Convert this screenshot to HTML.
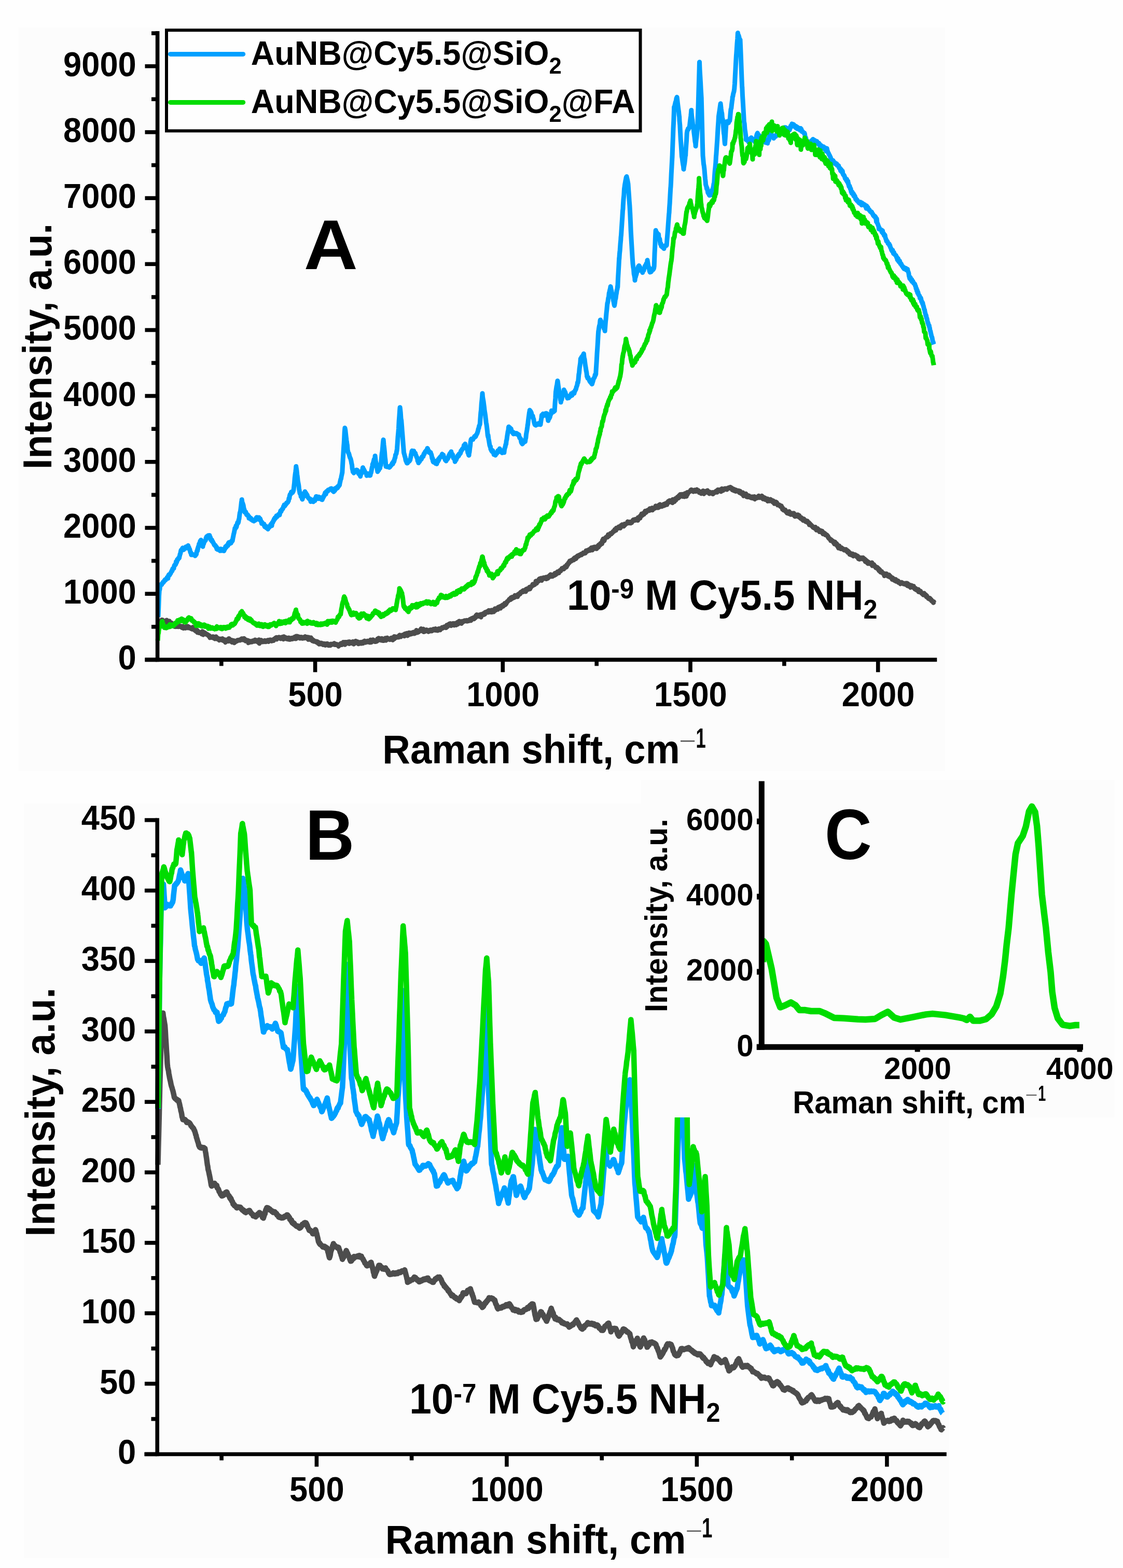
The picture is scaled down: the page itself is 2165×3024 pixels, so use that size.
<!DOCTYPE html><html><head><meta charset="utf-8"><style>html,body{margin:0;padding:0;background:#fefefe;}svg{display:block;}text{font-family:'Liberation Sans', Arial, sans-serif;font-weight:bold;}</style></head><body>
<svg xmlns="http://www.w3.org/2000/svg" width="2165" height="3024" viewBox="0 0 2165 3024">
<rect x="0" y="0" width="2165" height="3024" fill="#fefefe"/>
<rect x="36" y="53" width="1786" height="1434" fill="#fcfcfc"/>
<rect x="46" y="1550" width="1784" height="1455" fill="#fcfcfc"/>
<polyline points="304.8,1205.0 305.6,1204.6 306.3,1202.9 307.1,1199.7 307.8,1201.6 308.6,1200.0 309.3,1197.7 310.1,1198.2 310.8,1196.9 311.6,1195.9 311.6,1195.6 312.3,1196.7 313.1,1195.5 313.8,1196.8 314.6,1196.8 315.3,1198.7 316.1,1198.4 316.8,1198.3 317.6,1198.1 318.3,1199.1 319.0,1199.7 319.1,1199.3 319.8,1201.3 320.6,1200.8 321.3,1195.9 322.1,1197.0 322.8,1199.1 323.6,1198.7 324.3,1199.5 325.1,1199.5 325.8,1201.9 326.4,1197.7 326.6,1198.7 327.3,1202.7 328.1,1201.7 328.8,1202.5 329.6,1201.7 330.3,1201.0 331.1,1204.1 331.8,1204.8 332.6,1203.7 333.3,1205.1 334.1,1206.5 334.8,1206.0 335.6,1207.7 336.2,1208.4 336.3,1208.1 337.1,1207.2 337.8,1208.5 338.6,1208.7 339.3,1207.9 340.1,1206.3 340.8,1208.3 341.6,1206.7 342.3,1208.6 343.1,1206.1 343.8,1208.8 344.6,1207.7 345.3,1206.3 346.1,1207.7 346.8,1208.3 347.6,1208.8 348.3,1207.4 348.5,1207.5 349.1,1209.4 349.8,1208.7 350.6,1209.8 351.3,1210.7 352.1,1207.7 352.8,1210.3 353.6,1211.7 354.3,1209.8 355.1,1209.3 355.8,1211.3 356.6,1210.7 357.3,1211.5 358.1,1209.9 358.8,1208.3 359.6,1210.0 360.3,1209.4 360.8,1210.8 361.1,1210.0 361.8,1207.7 362.6,1208.3 363.3,1211.1 364.1,1210.9 364.8,1209.3 365.6,1210.3 366.3,1211.1 367.1,1211.4 367.8,1212.2 368.6,1211.6 369.3,1211.5 370.1,1211.6 370.8,1213.6 371.6,1209.6 372.3,1212.6 373.1,1213.1 373.2,1211.3 373.8,1214.0 374.6,1213.1 375.3,1215.5 376.1,1214.7 376.8,1216.2 377.6,1217.3 378.3,1216.6 379.1,1215.4 379.8,1215.1 380.6,1219.8 381.3,1217.9 382.1,1217.6 382.8,1219.2 383.0,1219.0 383.6,1220.6 384.3,1219.8 385.1,1220.1 385.8,1219.4 386.6,1221.1 387.3,1219.3 388.1,1221.7 388.8,1222.9 389.6,1218.9 390.3,1217.7 391.1,1221.7 391.8,1224.2 392.6,1219.7 393.3,1219.4 394.1,1222.0 394.8,1220.3 395.6,1221.0 396.3,1221.6 397.1,1223.2 397.8,1222.4 398.6,1223.9 399.3,1224.0 400.1,1223.8 400.8,1225.1 401.6,1224.9 402.3,1226.7 403.1,1225.7 403.8,1226.2 404.6,1229.9 405.3,1228.2 406.1,1228.5 406.8,1229.4 407.6,1228.4 408.3,1228.7 409.1,1229.7 409.8,1229.7 410.0,1227.7 410.6,1230.3 411.3,1228.6 412.1,1228.1 412.8,1228.4 413.6,1229.3 414.3,1232.1 415.1,1228.7 415.8,1230.6 416.6,1227.8 417.3,1230.8 418.1,1232.2 418.8,1230.9 419.6,1230.6 420.3,1232.0 421.1,1232.8 421.8,1232.9 422.6,1234.8 423.3,1232.7 424.1,1231.9 424.8,1232.7 425.6,1232.9 426.3,1233.3 427.1,1233.3 427.8,1233.8 428.6,1231.6 428.6,1234.9 429.3,1233.1 430.1,1232.5 430.8,1235.0 431.6,1236.1 432.3,1235.2 433.1,1235.0 433.8,1233.7 434.6,1238.9 435.3,1236.4 436.1,1233.9 436.8,1234.4 437.6,1235.5 438.3,1233.4 439.1,1235.6 439.8,1234.7 440.0,1236.8 440.6,1236.3 441.3,1231.4 442.1,1235.0 442.8,1232.8 443.6,1236.4 444.3,1235.3 445.1,1236.0 445.8,1234.2 446.6,1238.2 447.3,1238.7 448.1,1235.0 448.8,1237.2 449.6,1236.0 450.3,1237.1 451.1,1235.6 451.8,1239.8 452.6,1236.1 453.3,1237.0 454.1,1237.9 454.8,1236.3 455.6,1236.6 456.3,1236.0 457.1,1236.3 457.8,1234.6 458.6,1235.2 459.3,1235.2 460.1,1234.6 460.8,1234.8 461.6,1234.0 462.3,1235.1 463.1,1233.5 463.8,1233.5 464.6,1232.7 465.3,1232.8 466.1,1231.7 466.8,1234.0 467.6,1231.9 468.3,1232.4 469.1,1233.9 469.6,1234.0 469.8,1233.1 470.6,1231.3 471.3,1234.8 472.1,1234.9 472.8,1233.1 473.6,1236.3 474.3,1234.7 475.1,1234.5 475.8,1236.4 476.6,1236.4 477.3,1237.2 478.1,1235.1 478.8,1239.8 479.6,1236.9 480.3,1235.9 481.1,1238.9 481.8,1237.8 481.9,1238.6 482.6,1237.6 483.3,1237.8 484.1,1238.0 484.8,1236.6 485.6,1238.2 486.3,1236.5 487.1,1235.8 487.8,1236.8 488.6,1237.1 489.3,1236.1 490.1,1235.2 490.8,1237.0 491.6,1233.9 492.3,1234.9 493.1,1236.3 493.8,1234.6 494.6,1236.5 495.3,1236.4 496.1,1237.8 496.8,1235.5 497.6,1236.0 498.3,1237.3 499.1,1233.7 499.8,1240.9 500.6,1236.0 501.3,1235.9 502.1,1238.0 502.8,1236.8 503.6,1234.5 504.3,1237.7 505.1,1238.0 505.8,1236.4 506.6,1236.7 507.3,1237.7 508.1,1236.0 508.8,1237.8 509.0,1237.6 509.6,1236.3 510.3,1235.3 511.1,1236.6 511.8,1235.6 512.5,1237.8 513.3,1236.5 514.0,1237.1 514.8,1236.1 515.5,1236.0 516.3,1234.5 517.0,1236.2 517.8,1237.5 518.5,1234.7 519.3,1234.2 520.0,1234.7 520.8,1234.2 521.5,1233.9 522.3,1234.9 523.0,1234.3 523.8,1236.4 524.5,1234.4 525.3,1234.7 526.0,1235.3 526.8,1233.4 527.5,1235.4 528.3,1232.4 529.0,1231.9 529.8,1232.1 530.5,1232.1 531.3,1230.2 532.0,1231.6 532.8,1229.3 533.5,1233.0 534.3,1230.9 535.0,1229.9 535.8,1229.4 536.5,1229.9 537.3,1230.0 538.0,1228.8 538.5,1228.9 538.8,1229.9 539.5,1229.5 540.3,1231.5 541.0,1231.8 541.8,1230.4 542.5,1231.0 543.3,1228.8 544.0,1231.4 544.8,1230.6 545.5,1231.3 546.3,1232.8 547.0,1227.7 547.8,1231.1 548.5,1229.3 549.3,1231.6 550.0,1229.1 550.8,1230.3 551.5,1231.3 552.3,1232.0 553.0,1231.4 553.8,1230.5 554.5,1230.9 555.3,1233.0 556.0,1232.0 556.8,1229.9 557.5,1233.3 558.3,1232.8 559.0,1233.4 559.8,1231.7 560.5,1233.1 561.3,1230.5 562.0,1232.5 562.8,1230.9 563.2,1232.3 563.5,1232.5 564.3,1229.9 565.0,1230.6 565.8,1230.5 566.5,1231.8 567.3,1231.0 568.0,1228.3 568.8,1230.3 569.5,1230.5 570.3,1232.1 571.0,1227.0 571.8,1228.4 572.5,1230.7 573.3,1227.1 574.0,1227.2 574.8,1229.4 575.5,1230.1 576.3,1227.9 577.0,1229.6 577.8,1229.2 578.5,1231.1 579.3,1229.3 580.0,1230.7 580.8,1228.4 581.5,1229.5 582.3,1229.7 583.0,1231.3 583.8,1230.7 584.5,1229.0 585.3,1230.8 586.0,1230.9 586.8,1229.7 587.5,1229.4 587.8,1229.5 588.3,1227.6 589.0,1230.2 589.8,1230.4 590.5,1229.0 591.3,1231.2 592.0,1228.6 592.8,1229.8 593.5,1230.0 594.3,1233.4 595.0,1228.9 595.8,1231.9 596.5,1232.7 597.3,1232.2 598.0,1233.6 598.8,1231.1 599.5,1229.8 600.1,1234.1 600.3,1231.8 601.0,1233.3 601.8,1232.6 602.5,1236.0 603.3,1236.1 604.0,1234.4 604.8,1236.9 605.5,1236.2 606.3,1236.1 607.0,1236.6 607.8,1236.5 608.5,1237.8 609.3,1237.6 610.0,1237.0 610.8,1239.1 611.5,1237.3 612.3,1238.8 613.0,1239.3 613.8,1241.1 614.5,1238.9 615.3,1242.3 616.0,1240.7 616.8,1240.6 617.3,1240.3 617.5,1242.0 618.3,1241.5 619.0,1240.1 619.8,1240.1 620.5,1240.9 621.3,1240.8 622.0,1243.1 622.8,1243.5 623.5,1242.8 624.3,1242.2 625.0,1241.2 625.8,1241.8 626.5,1243.0 627.3,1244.6 628.0,1243.1 628.8,1241.6 629.5,1242.1 630.3,1241.5 631.0,1241.2 631.8,1242.0 632.5,1242.6 633.3,1244.8 634.0,1242.5 634.8,1244.3 635.5,1244.8 636.3,1242.7 637.0,1244.7 637.0,1243.5 637.8,1242.0 638.5,1242.8 639.3,1242.5 640.0,1242.1 640.8,1242.2 641.5,1242.6 642.3,1243.0 643.0,1241.3 643.8,1242.5 644.5,1240.6 645.3,1243.0 646.0,1243.5 646.8,1243.1 647.5,1243.3 648.3,1243.8 649.0,1242.3 649.8,1242.9 650.5,1243.9 651.3,1244.6 652.0,1243.7 652.8,1246.5 653.5,1242.9 654.3,1244.3 655.0,1244.5 655.8,1242.5 656.5,1241.5 657.3,1240.8 658.0,1242.4 658.8,1243.5 659.5,1242.3 660.3,1242.0 661.0,1241.1 661.7,1242.2 661.8,1238.5 662.5,1241.4 663.3,1240.9 664.0,1238.8 664.8,1243.3 665.5,1238.4 666.3,1238.7 667.0,1238.4 667.8,1241.2 668.5,1238.5 669.3,1240.4 670.0,1240.3 670.8,1239.8 671.5,1237.7 672.3,1238.5 673.0,1241.5 673.8,1237.6 674.5,1238.2 675.3,1239.1 676.0,1240.4 676.8,1239.8 677.5,1240.4 678.3,1238.1 679.0,1240.7 679.8,1240.2 680.5,1237.3 681.3,1241.3 682.0,1242.2 682.8,1238.1 683.5,1239.1 684.3,1240.7 685.0,1236.9 685.8,1236.2 686.3,1237.1 686.5,1238.1 687.3,1238.2 688.0,1239.8 688.8,1239.4 689.5,1237.6 690.3,1240.0 691.0,1241.8 691.8,1241.1 692.5,1240.9 693.3,1239.7 694.0,1241.0 694.8,1238.5 695.5,1240.7 696.3,1239.6 697.0,1241.1 697.8,1240.1 698.5,1237.9 699.3,1239.3 700.0,1240.5 700.8,1237.2 701.5,1237.7 702.3,1237.1 703.0,1236.0 703.8,1238.9 704.5,1239.2 705.3,1238.4 706.0,1237.5 706.8,1237.0 707.5,1237.4 708.3,1236.1 709.0,1238.2 709.8,1238.3 710.5,1238.2 711.0,1236.3 711.3,1237.0 712.0,1236.6 712.8,1239.0 713.5,1236.8 714.3,1234.0 715.0,1236.9 715.8,1238.7 716.5,1237.1 717.3,1237.4 718.0,1236.3 718.8,1233.7 719.5,1234.0 720.3,1234.8 721.0,1236.3 721.8,1236.9 722.5,1237.4 723.3,1236.0 724.0,1237.6 724.8,1235.9 725.5,1235.2 726.3,1237.0 727.0,1234.5 727.8,1232.0 728.5,1233.9 729.3,1235.1 730.0,1230.7 730.8,1234.0 731.5,1233.8 732.3,1232.2 733.0,1231.9 733.8,1233.1 734.5,1232.8 735.3,1235.1 735.6,1233.9 736.0,1231.3 736.8,1232.2 737.5,1234.2 738.3,1235.6 739.0,1233.6 739.8,1233.5 740.5,1235.4 741.3,1232.8 742.0,1232.4 742.8,1230.8 743.5,1231.8 744.3,1235.2 745.0,1230.4 745.8,1232.1 746.5,1230.1 747.3,1232.0 748.0,1232.9 748.8,1231.4 749.5,1232.6 750.3,1232.6 751.0,1232.2 751.8,1233.8 752.5,1232.6 753.3,1231.1 754.0,1230.5 754.8,1230.2 755.5,1231.8 756.3,1230.6 757.0,1234.4 757.8,1233.0 758.5,1230.2 759.3,1229.8 760.0,1232.2 760.2,1227.4 760.8,1229.0 761.5,1230.6 762.3,1227.9 763.0,1228.3 763.8,1228.2 764.5,1229.4 765.3,1228.5 766.0,1228.7 766.8,1228.7 767.5,1227.8 768.3,1229.1 769.0,1226.5 769.8,1225.4 770.5,1224.8 771.3,1224.9 772.0,1226.2 772.8,1228.1 773.5,1226.9 774.3,1225.8 775.0,1225.1 775.8,1225.7 776.5,1225.7 777.3,1225.3 778.0,1224.0 778.8,1225.1 779.5,1226.8 780.3,1222.4 781.0,1224.7 781.8,1222.0 782.5,1224.7 783.3,1223.3 784.0,1221.3 784.8,1224.0 785.5,1226.0 786.3,1223.7 787.0,1224.9 787.8,1223.1 788.5,1220.2 789.3,1223.5 790.0,1222.1 790.8,1220.6 791.5,1223.3 792.3,1222.4 793.0,1221.1 793.8,1222.6 794.5,1220.1 795.3,1221.8 796.0,1219.5 796.8,1221.2 797.5,1218.9 798.3,1222.1 799.0,1220.3 799.8,1221.7 800.5,1218.6 801.3,1218.8 802.0,1220.4 802.8,1215.5 803.5,1217.5 804.3,1220.1 805.0,1219.2 805.8,1219.7 806.5,1217.8 807.3,1218.8 808.0,1216.9 808.8,1215.9 809.5,1215.3 809.5,1216.7 810.3,1216.6 811.0,1216.4 811.8,1212.4 812.5,1214.3 813.3,1216.1 814.0,1217.0 814.8,1215.7 815.5,1215.1 816.3,1213.1 817.0,1218.6 817.8,1214.4 818.5,1218.0 819.3,1217.8 820.0,1216.1 820.8,1215.0 821.5,1216.0 822.3,1214.4 823.0,1216.3 823.8,1216.0 824.5,1216.8 825.3,1217.4 826.0,1218.4 826.8,1215.7 827.5,1217.5 828.3,1215.1 829.0,1214.8 829.8,1215.1 830.5,1214.4 831.3,1216.8 832.0,1216.6 832.8,1216.9 833.5,1215.1 834.3,1215.4 835.0,1214.1 835.8,1213.3 836.5,1215.3 837.3,1215.1 838.0,1213.3 838.8,1215.5 839.5,1212.5 840.0,1214.6 840.3,1214.0 841.0,1214.1 841.8,1213.3 842.5,1215.9 843.3,1215.3 844.0,1216.0 844.8,1214.5 845.5,1212.5 846.3,1213.6 847.0,1212.3 847.8,1214.2 848.5,1215.0 849.3,1213.6 850.0,1212.1 850.8,1212.0 851.5,1212.4 852.3,1209.9 853.0,1211.7 853.8,1211.4 854.5,1210.1 855.3,1209.9 856.0,1210.3 856.8,1208.7 857.5,1208.4 858.3,1210.2 859.0,1209.2 859.8,1210.8 860.5,1207.1 861.3,1205.7 862.0,1208.9 862.8,1208.6 863.5,1206.1 864.3,1204.8 864.6,1206.5 865.0,1204.0 865.8,1205.5 866.5,1202.9 867.3,1205.1 868.0,1202.4 868.8,1204.7 869.5,1206.8 870.3,1204.3 871.0,1205.5 871.8,1203.5 872.5,1203.1 873.3,1202.2 874.0,1205.4 874.8,1203.9 875.5,1206.0 876.3,1202.2 877.0,1203.4 877.8,1203.6 878.5,1205.2 879.3,1205.6 880.0,1202.2 880.8,1201.3 881.5,1200.3 882.3,1204.0 883.0,1201.9 883.8,1200.9 884.5,1201.4 885.3,1197.9 886.0,1198.8 886.8,1202.0 887.5,1201.1 888.3,1200.6 889.0,1199.0 889.3,1201.0 889.8,1202.4 890.5,1198.3 891.3,1199.6 892.0,1198.7 892.8,1199.5 893.5,1198.8 894.3,1198.3 895.0,1197.0 895.8,1197.9 896.5,1196.9 897.3,1197.3 898.0,1197.2 898.8,1198.0 899.5,1196.3 900.3,1196.5 901.0,1198.2 901.8,1196.4 902.5,1196.3 903.3,1197.6 904.0,1196.7 904.8,1196.3 905.5,1196.2 906.3,1194.1 907.0,1196.1 907.8,1196.9 908.5,1195.7 909.3,1192.6 910.0,1194.6 910.8,1192.7 911.5,1193.1 912.3,1193.2 913.0,1191.0 913.8,1193.7 913.9,1191.7 914.5,1192.3 915.3,1191.5 916.0,1191.9 916.8,1191.2 917.5,1187.2 918.3,1188.7 919.0,1185.4 919.8,1187.2 920.5,1188.3 921.3,1188.2 922.0,1188.4 922.8,1186.0 923.5,1186.7 924.3,1186.2 925.0,1187.5 925.8,1187.7 926.5,1185.0 927.3,1190.2 928.0,1185.1 928.8,1184.4 929.5,1185.5 930.3,1185.4 931.0,1184.9 931.8,1183.1 932.5,1185.6 933.3,1183.4 934.0,1185.0 934.8,1184.5 935.5,1180.7 936.3,1180.7 937.0,1180.3 937.8,1181.5 938.5,1180.8 939.3,1180.7 940.0,1178.9 940.8,1180.1 941.5,1181.0 942.3,1177.2 943.0,1178.4 943.4,1178.9 943.8,1178.3 944.5,1178.0 945.3,1180.4 946.0,1179.7 946.8,1179.0 947.5,1176.8 948.3,1180.7 949.0,1178.2 949.8,1176.9 950.5,1177.1 951.3,1176.7 952.0,1180.0 952.8,1177.3 953.5,1176.8 954.3,1173.7 955.0,1177.1 955.8,1174.4 956.5,1174.0 957.3,1175.8 958.0,1173.5 958.8,1175.3 959.5,1175.3 960.3,1171.1 961.0,1172.8 961.8,1170.5 962.5,1172.0 963.3,1172.9 964.0,1169.5 964.8,1173.2 965.5,1170.1 966.3,1168.6 967.0,1169.6 967.8,1170.5 968.1,1167.5 968.5,1168.9 969.3,1166.5 970.0,1169.3 970.8,1167.3 971.5,1165.9 972.3,1167.2 973.0,1163.5 973.8,1164.0 974.5,1166.2 975.3,1163.0 976.0,1164.3 976.8,1162.1 977.5,1160.3 978.3,1160.2 979.0,1160.0 979.8,1158.7 980.5,1157.5 981.3,1157.0 982.0,1155.4 982.8,1156.8 983.5,1156.6 984.3,1156.5 985.0,1152.6 985.8,1155.4 986.5,1153.8 987.3,1151.5 988.0,1153.0 988.8,1153.6 989.5,1152.8 990.3,1152.7 991.0,1152.7 991.8,1152.3 992.5,1150.8 992.7,1148.2 993.3,1149.8 994.0,1150.9 994.8,1149.5 995.5,1150.7 996.3,1150.4 997.0,1148.9 997.8,1150.8 998.5,1146.5 999.3,1148.4 1000.0,1145.9 1000.8,1144.9 1001.5,1146.1 1002.3,1143.9 1003.0,1145.2 1003.8,1142.0 1004.5,1143.1 1005.3,1141.4 1006.0,1141.7 1006.8,1141.1 1007.5,1139.7 1008.3,1141.6 1009.0,1138.8 1009.8,1138.8 1010.5,1140.8 1011.3,1140.6 1012.0,1139.8 1012.8,1139.0 1013.5,1141.1 1014.3,1136.2 1015.0,1136.3 1015.8,1135.6 1016.5,1137.6 1017.3,1136.4 1018.0,1136.9 1018.8,1136.2 1019.5,1134.1 1020.3,1132.9 1021.0,1132.2 1021.8,1135.9 1022.5,1133.8 1023.3,1132.9 1024.0,1131.3 1024.8,1131.0 1025.5,1130.4 1026.3,1129.9 1027.0,1126.7 1027.8,1129.1 1028.5,1128.0 1029.3,1128.2 1030.0,1127.4 1030.8,1127.5 1031.5,1125.6 1032.3,1125.9 1033.0,1120.8 1033.8,1122.0 1034.5,1125.1 1035.3,1120.6 1036.0,1121.2 1036.8,1121.9 1037.5,1119.3 1038.3,1120.9 1039.0,1117.5 1039.8,1116.4 1040.5,1116.6 1041.3,1115.6 1042.0,1117.1 1042.0,1116.7 1042.8,1117.2 1043.5,1115.1 1044.3,1119.5 1045.0,1115.7 1045.8,1115.5 1046.5,1115.9 1047.3,1114.7 1048.0,1114.0 1048.8,1114.8 1049.5,1115.7 1050.3,1115.2 1051.0,1115.5 1051.8,1113.4 1052.5,1113.1 1053.3,1116.6 1054.0,1113.6 1054.8,1114.5 1055.5,1114.7 1056.3,1115.4 1057.0,1111.7 1057.8,1112.6 1058.5,1112.4 1059.3,1112.3 1060.0,1109.2 1060.8,1111.9 1061.5,1108.0 1062.3,1111.8 1063.0,1111.8 1063.8,1111.6 1064.5,1109.0 1065.3,1111.6 1066.0,1109.0 1066.6,1108.4 1066.8,1108.7 1067.5,1108.4 1068.3,1109.3 1069.0,1109.7 1069.8,1105.4 1070.5,1107.0 1071.3,1108.4 1072.0,1107.0 1072.8,1106.8 1073.5,1103.7 1074.3,1106.3 1075.0,1102.4 1075.8,1104.1 1076.5,1105.1 1077.3,1105.1 1078.0,1102.7 1078.8,1102.6 1079.5,1100.1 1080.3,1099.6 1081.0,1101.1 1081.8,1099.0 1082.5,1098.3 1083.3,1096.1 1084.0,1097.5 1084.8,1097.6 1085.5,1095.3 1086.3,1095.1 1087.0,1097.4 1087.8,1095.1 1088.5,1093.9 1089.3,1092.3 1090.0,1092.4 1090.8,1092.3 1091.2,1094.0 1091.5,1090.9 1092.3,1093.2 1093.0,1088.8 1093.8,1088.6 1094.5,1089.2 1095.3,1086.9 1096.0,1085.2 1096.8,1085.3 1097.5,1085.3 1098.3,1081.7 1099.0,1082.9 1099.8,1082.5 1100.5,1081.5 1101.3,1082.4 1102.0,1080.2 1102.8,1079.9 1103.5,1079.9 1104.3,1080.3 1105.0,1078.6 1105.8,1080.3 1106.5,1076.7 1107.3,1079.0 1108.0,1075.6 1108.8,1076.0 1109.5,1076.1 1110.3,1077.6 1110.9,1075.6 1111.0,1073.9 1111.8,1075.6 1112.5,1073.1 1113.3,1071.9 1114.0,1073.0 1114.8,1072.1 1115.5,1072.8 1116.3,1070.5 1117.0,1071.3 1117.8,1071.3 1118.5,1070.5 1119.3,1069.7 1120.0,1068.5 1120.8,1070.3 1121.5,1069.0 1122.3,1069.1 1123.0,1067.6 1123.8,1067.7 1124.5,1065.9 1125.3,1066.9 1125.7,1067.5 1126.0,1066.4 1126.8,1067.1 1127.5,1066.0 1128.3,1066.9 1129.0,1064.5 1129.8,1062.1 1130.5,1064.3 1131.3,1063.0 1132.0,1061.4 1132.8,1063.0 1133.5,1062.0 1134.3,1061.7 1135.0,1060.2 1135.8,1060.5 1136.5,1060.1 1137.3,1061.7 1138.0,1058.2 1138.8,1058.8 1139.5,1059.1 1140.3,1056.2 1141.0,1056.2 1141.8,1060.9 1142.5,1055.7 1143.3,1058.6 1144.0,1056.6 1144.8,1056.5 1145.5,1054.8 1146.3,1056.0 1147.0,1057.9 1147.8,1054.8 1148.5,1057.1 1149.3,1056.5 1150.0,1058.4 1150.8,1054.8 1151.5,1056.8 1152.3,1056.0 1152.8,1054.2 1153.0,1052.1 1153.8,1055.4 1154.5,1050.7 1155.3,1051.0 1156.0,1051.9 1156.8,1051.3 1157.5,1047.9 1158.3,1048.1 1159.0,1046.9 1159.8,1047.9 1160.5,1048.8 1161.3,1042.3 1162.0,1045.0 1162.8,1039.3 1163.5,1042.1 1164.3,1039.8 1165.0,1043.0 1165.8,1039.8 1166.5,1037.8 1167.3,1037.2 1168.0,1036.3 1168.8,1036.5 1169.5,1035.3 1170.3,1035.6 1171.0,1036.1 1171.8,1034.4 1172.5,1031.3 1172.5,1031.0 1173.3,1031.7 1174.0,1033.7 1174.8,1031.5 1175.5,1030.6 1176.3,1031.1 1177.0,1028.6 1177.8,1028.4 1178.5,1029.9 1179.3,1028.2 1180.0,1027.3 1180.8,1027.5 1181.5,1025.6 1182.3,1024.7 1183.0,1024.2 1183.8,1024.8 1184.5,1023.3 1185.3,1020.9 1186.0,1021.4 1186.8,1021.9 1187.5,1022.9 1188.3,1018.3 1189.0,1019.7 1189.8,1018.3 1190.5,1019.1 1191.3,1018.1 1192.0,1018.8 1192.2,1017.5 1192.8,1015.9 1193.5,1015.6 1194.3,1016.5 1195.0,1016.1 1195.8,1018.4 1196.5,1017.2 1197.3,1013.2 1198.0,1014.9 1198.8,1012.5 1199.5,1011.8 1200.3,1014.7 1201.0,1014.1 1201.8,1011.8 1202.5,1015.0 1203.3,1011.2 1204.0,1010.6 1204.8,1012.5 1205.5,1011.5 1206.3,1010.6 1207.0,1010.2 1207.8,1010.1 1208.5,1009.2 1209.3,1008.7 1210.0,1006.1 1210.8,1006.5 1211.5,1008.7 1212.3,1006.7 1213.0,1008.1 1213.8,1008.8 1214.5,1006.5 1215.3,1007.0 1216.0,1009.1 1216.8,1007.1 1217.5,1008.2 1218.3,1007.3 1219.0,1005.9 1219.8,1004.3 1220.5,1003.0 1221.3,1002.3 1222.0,1004.0 1222.8,1003.6 1223.5,1002.4 1224.3,1003.5 1225.0,1001.3 1225.8,1003.2 1226.5,1001.6 1227.3,1001.2 1228.0,1001.0 1228.8,1000.6 1229.5,1003.6 1230.3,997.9 1231.0,999.8 1231.8,1000.6 1232.5,999.4 1233.3,997.4 1234.0,999.3 1234.1,995.3 1234.8,994.4 1235.5,996.1 1236.3,992.8 1237.0,990.9 1237.8,994.4 1238.5,993.6 1239.3,992.9 1240.0,990.7 1240.8,991.0 1241.1,989.1 1241.5,992.1 1242.3,990.2 1243.0,989.5 1243.8,985.4 1244.5,988.3 1245.3,988.6 1246.0,987.7 1246.8,986.6 1247.5,985.0 1248.3,984.1 1249.0,984.9 1249.8,984.2 1250.5,983.6 1251.3,982.5 1252.0,984.7 1252.8,980.7 1253.5,981.9 1254.0,981.0 1254.3,983.1 1255.0,983.5 1255.8,983.2 1256.5,982.4 1257.3,979.5 1258.0,983.8 1258.8,981.6 1259.5,980.6 1260.3,980.5 1261.0,979.8 1261.8,980.5 1262.5,980.0 1263.3,978.9 1264.0,975.7 1264.8,978.8 1265.5,979.2 1266.3,979.0 1267.0,978.0 1267.0,978.8 1267.8,979.2 1268.5,976.9 1269.3,979.0 1270.0,974.3 1270.8,974.9 1271.5,975.1 1272.3,972.8 1273.0,974.4 1273.8,977.0 1274.5,976.7 1275.3,974.9 1276.0,976.7 1276.2,974.8 1276.8,973.9 1277.5,974.8 1278.3,974.2 1279.0,975.2 1279.8,972.2 1280.5,975.2 1281.3,973.1 1282.0,974.5 1282.8,971.1 1283.5,972.3 1284.3,972.6 1285.0,973.3 1285.4,970.3 1285.8,973.3 1286.5,970.5 1287.3,968.0 1288.0,969.1 1288.8,966.5 1289.1,967.4 1289.5,968.9 1290.3,967.0 1291.0,965.4 1291.8,965.6 1292.5,967.0 1293.3,966.7 1294.0,965.4 1294.8,965.7 1295.5,967.5 1296.3,969.7 1297.0,963.2 1297.8,967.6 1298.5,966.3 1299.3,967.4 1300.0,967.4 1300.2,966.2 1300.8,964.1 1301.5,962.8 1302.3,961.4 1303.0,964.7 1303.8,962.1 1304.5,961.0 1305.3,960.6 1306.0,958.6 1306.8,960.1 1307.5,960.8 1308.3,959.9 1309.0,955.8 1309.8,959.0 1310.5,955.6 1311.3,953.5 1312.0,954.2 1312.8,954.4 1313.5,955.5 1314.3,954.0 1315.0,953.2 1315.8,954.8 1316.5,957.5 1317.3,954.0 1318.0,955.4 1318.8,954.7 1319.5,957.9 1320.3,951.8 1321.0,955.5 1321.8,952.3 1322.4,953.0 1322.5,953.6 1323.3,957.3 1324.0,951.6 1324.8,949.5 1325.5,953.1 1326.3,949.7 1327.0,949.9 1327.8,949.5 1328.5,949.0 1329.3,948.0 1330.0,947.8 1330.8,947.2 1331.5,947.0 1331.6,945.1 1332.3,944.7 1333.0,944.4 1333.8,946.6 1334.5,945.8 1335.3,946.7 1336.0,946.7 1336.8,948.3 1337.5,946.5 1338.3,947.4 1339.0,944.9 1339.8,945.2 1340.5,946.4 1340.8,945.2 1341.3,947.8 1342.0,945.3 1342.8,947.2 1343.5,944.1 1344.3,946.1 1345.0,947.3 1345.8,947.6 1346.5,945.9 1347.3,948.6 1348.0,950.0 1348.8,949.9 1349.5,948.5 1350.1,948.9 1350.3,948.3 1351.0,950.8 1351.8,951.9 1352.5,949.4 1353.3,947.9 1354.0,950.3 1354.8,950.9 1355.5,946.4 1356.3,949.9 1357.0,952.4 1357.8,950.4 1358.5,949.8 1359.3,949.4 1360.0,950.1 1360.8,947.3 1361.5,947.2 1362.3,948.7 1363.0,947.2 1363.0,948.5 1363.8,945.9 1364.5,949.7 1365.3,950.1 1366.0,949.4 1366.8,949.9 1367.5,952.1 1368.3,948.9 1369.0,949.4 1369.8,949.4 1370.5,950.5 1371.3,949.9 1372.0,951.4 1372.8,950.5 1373.5,949.6 1374.1,949.4 1374.3,952.8 1375.0,950.6 1375.8,950.0 1376.5,949.9 1377.3,949.4 1378.0,950.2 1378.8,949.6 1379.5,947.8 1380.3,947.3 1381.0,946.7 1381.8,946.2 1382.5,949.4 1383.3,946.1 1384.0,944.4 1384.8,945.6 1385.5,945.3 1386.3,946.4 1387.0,944.6 1387.0,946.3 1387.8,945.7 1388.5,946.5 1389.3,947.4 1390.0,948.0 1390.8,945.8 1391.5,942.4 1392.3,943.2 1393.0,943.9 1393.8,946.1 1394.5,944.2 1395.3,944.6 1396.0,942.6 1396.3,943.6 1396.8,943.7 1397.5,942.1 1398.3,943.6 1399.0,943.8 1399.8,942.1 1400.5,943.5 1401.3,944.2 1402.0,942.0 1402.8,941.8 1403.5,941.3 1404.3,940.8 1405.0,941.7 1405.8,940.9 1406.5,940.9 1407.3,940.2 1408.0,939.5 1408.8,940.6 1409.5,942.5 1410.3,940.8 1411.0,941.8 1411.8,945.0 1412.5,944.7 1413.3,942.6 1414.0,944.6 1414.7,943.3 1414.8,946.3 1415.5,943.8 1416.3,945.0 1417.0,947.1 1417.8,944.5 1418.5,947.6 1419.3,945.1 1420.0,946.8 1420.8,946.3 1421.5,946.8 1422.3,947.4 1423.0,947.3 1423.8,946.3 1424.5,949.1 1425.3,949.2 1425.8,950.1 1426.0,950.4 1426.8,947.2 1427.5,951.0 1428.3,951.4 1429.0,949.4 1429.8,951.9 1430.5,952.9 1431.3,950.7 1432.0,950.0 1432.8,951.8 1433.5,956.4 1434.3,953.5 1435.0,952.1 1435.8,953.8 1436.5,953.3 1436.9,954.3 1437.3,955.3 1438.0,952.2 1438.8,956.4 1439.5,958.2 1440.3,956.4 1441.0,956.4 1441.8,958.6 1442.5,955.7 1443.3,956.0 1444.0,956.0 1444.8,957.8 1445.5,958.8 1446.3,958.4 1447.0,959.5 1447.8,960.1 1448.0,959.8 1448.5,958.1 1449.3,958.8 1450.0,960.8 1450.8,957.9 1451.5,958.9 1452.3,958.8 1453.0,959.1 1453.8,957.9 1454.5,957.6 1455.3,962.7 1456.0,960.6 1456.8,958.5 1457.5,959.3 1458.3,960.3 1459.0,959.0 1459.8,960.3 1460.5,958.7 1460.9,959.1 1461.3,959.4 1462.0,958.8 1462.8,956.2 1463.5,959.4 1464.3,959.6 1465.0,959.9 1465.8,957.9 1466.5,959.6 1467.3,959.5 1468.0,956.8 1468.8,956.3 1469.5,959.7 1470.2,957.8 1470.3,960.5 1471.0,962.4 1471.8,959.2 1472.5,959.5 1473.3,960.8 1474.0,962.1 1474.8,960.1 1475.5,963.5 1476.3,963.6 1477.0,963.5 1477.8,962.3 1478.5,964.5 1479.3,964.7 1479.4,962.0 1480.0,966.5 1480.8,963.6 1481.5,964.7 1482.3,963.7 1483.0,965.1 1483.8,966.3 1484.5,964.0 1485.3,963.1 1486.0,964.9 1486.8,964.0 1487.5,964.9 1488.3,966.0 1489.0,966.3 1489.8,968.4 1490.5,965.7 1491.3,967.7 1492.0,966.9 1492.3,969.4 1492.8,971.3 1493.5,968.9 1494.3,971.2 1495.0,968.8 1495.8,968.0 1496.5,968.9 1497.3,969.0 1498.0,970.3 1498.8,971.8 1499.5,974.1 1500.3,974.0 1501.0,974.2 1501.8,973.6 1502.5,973.7 1503.3,975.2 1503.4,975.5 1504.0,976.2 1504.8,977.1 1505.5,977.1 1506.3,975.5 1507.0,977.3 1507.8,978.3 1508.5,982.3 1509.3,980.2 1510.0,982.3 1510.8,984.0 1511.5,983.2 1512.3,982.8 1513.0,983.6 1513.8,983.2 1514.5,985.5 1515.3,987.2 1516.0,987.1 1516.3,987.5 1516.8,987.7 1517.5,989.8 1518.3,986.9 1519.0,988.4 1519.8,989.5 1520.5,990.7 1521.3,986.4 1522.0,989.4 1522.8,990.2 1523.5,989.5 1524.3,992.3 1525.0,991.8 1525.8,991.2 1526.5,989.8 1527.3,990.3 1528.0,990.9 1528.8,992.8 1529.5,990.8 1530.3,989.8 1531.0,990.7 1531.1,991.7 1531.8,994.7 1532.5,996.0 1533.3,992.3 1534.0,994.5 1534.8,995.3 1535.5,995.5 1536.3,994.0 1537.0,992.8 1537.8,994.3 1538.5,992.8 1539.3,996.0 1540.0,997.1 1540.8,994.0 1541.5,996.8 1542.3,997.7 1543.0,999.4 1543.8,1000.1 1544.0,999.6 1544.5,998.1 1545.3,999.1 1546.0,1001.7 1546.8,999.9 1547.5,1001.1 1548.3,1003.7 1549.0,1002.3 1549.8,1000.8 1550.5,1002.6 1551.3,1004.2 1552.0,1003.5 1552.8,1005.7 1553.5,1006.2 1554.3,1004.1 1555.0,1004.7 1555.8,1005.6 1556.5,1004.7 1557.0,1007.1 1557.3,1006.7 1558.0,1008.6 1558.8,1007.6 1559.5,1007.9 1560.3,1012.2 1561.0,1009.5 1561.8,1010.6 1562.5,1011.2 1563.3,1012.5 1564.0,1012.4 1564.8,1014.2 1565.5,1014.0 1566.3,1015.0 1567.0,1016.6 1567.8,1017.5 1568.5,1017.7 1569.3,1016.7 1570.0,1018.6 1570.8,1018.3 1571.5,1018.7 1571.7,1016.6 1572.3,1020.0 1573.0,1019.4 1573.8,1022.2 1574.5,1021.2 1575.3,1019.3 1576.0,1019.3 1576.8,1022.9 1577.5,1020.7 1578.3,1023.0 1579.0,1022.1 1579.8,1025.6 1580.5,1023.3 1581.0,1025.4 1581.3,1025.1 1582.0,1023.2 1582.8,1023.7 1583.5,1026.5 1584.3,1025.0 1585.0,1024.3 1585.8,1027.4 1586.5,1029.7 1587.3,1026.8 1588.0,1029.2 1588.8,1027.7 1589.5,1030.3 1590.3,1028.8 1591.0,1031.5 1591.8,1031.2 1592.5,1030.9 1593.3,1032.2 1593.9,1031.9 1594.0,1031.5 1594.8,1032.5 1595.5,1034.7 1596.3,1034.3 1597.0,1037.1 1597.8,1038.0 1598.5,1038.8 1599.3,1038.3 1600.0,1039.8 1600.8,1040.4 1601.5,1042.8 1602.3,1040.7 1603.0,1041.9 1603.8,1042.7 1604.5,1043.4 1605.3,1043.1 1606.0,1043.8 1606.8,1046.5 1607.5,1044.9 1608.3,1047.5 1608.7,1049.3 1609.0,1048.6 1609.8,1045.2 1610.5,1049.2 1611.3,1049.6 1612.0,1050.4 1612.8,1048.3 1613.5,1052.1 1614.3,1050.4 1615.0,1054.1 1615.8,1054.5 1616.5,1057.0 1617.3,1053.8 1618.0,1052.8 1618.8,1056.7 1619.5,1057.0 1620.3,1055.9 1621.0,1058.6 1621.8,1058.3 1622.5,1056.2 1623.3,1058.0 1623.5,1057.9 1624.0,1058.6 1624.8,1059.3 1625.5,1058.5 1626.3,1059.6 1627.0,1060.9 1627.8,1060.4 1628.5,1060.6 1629.3,1060.9 1630.0,1061.5 1630.8,1059.5 1631.5,1062.6 1632.3,1061.4 1633.0,1063.3 1633.8,1061.8 1634.5,1065.4 1635.3,1065.0 1636.0,1063.5 1636.8,1066.2 1637.5,1065.5 1638.2,1069.4 1638.3,1067.9 1639.0,1066.7 1639.8,1068.4 1640.5,1068.4 1641.3,1070.3 1642.0,1069.4 1642.8,1069.9 1643.5,1068.0 1644.3,1070.6 1645.0,1072.5 1645.8,1070.9 1646.5,1070.2 1647.3,1070.7 1648.0,1069.6 1648.8,1071.4 1649.3,1070.0 1649.5,1071.7 1650.3,1071.7 1651.0,1071.6 1651.8,1074.0 1652.5,1071.8 1653.3,1074.2 1654.0,1073.0 1654.8,1077.5 1655.5,1078.1 1656.3,1076.9 1657.0,1078.6 1657.8,1077.1 1658.5,1077.2 1659.3,1076.1 1660.0,1075.6 1660.4,1076.9 1660.8,1076.0 1661.5,1076.3 1662.3,1078.0 1663.0,1077.1 1663.8,1075.5 1664.5,1077.7 1665.3,1077.4 1666.0,1078.5 1666.8,1078.0 1667.5,1081.6 1668.3,1083.2 1669.0,1079.9 1669.8,1082.8 1670.5,1083.4 1671.3,1081.8 1671.5,1083.6 1672.0,1085.8 1672.8,1085.6 1673.5,1087.0 1674.3,1083.8 1675.0,1084.8 1675.8,1086.5 1676.5,1087.0 1677.3,1086.9 1678.0,1086.7 1678.8,1087.0 1679.5,1087.1 1680.3,1088.9 1681.0,1085.1 1681.8,1091.1 1682.5,1088.7 1683.3,1088.0 1684.0,1090.9 1684.8,1088.8 1685.5,1091.5 1686.3,1090.9 1687.0,1092.9 1687.8,1093.8 1688.5,1095.1 1689.3,1093.4 1690.0,1094.3 1690.8,1095.3 1691.5,1094.2 1692.3,1097.5 1693.0,1097.6 1693.8,1096.4 1694.5,1100.4 1695.3,1101.3 1696.0,1098.6 1696.8,1101.8 1697.5,1103.4 1698.3,1103.6 1699.0,1101.9 1699.8,1102.1 1700.5,1104.4 1701.0,1104.3 1701.3,1105.1 1702.0,1105.4 1702.8,1106.6 1703.5,1105.5 1704.3,1106.2 1705.0,1110.5 1705.8,1106.7 1706.5,1108.0 1707.3,1107.6 1708.0,1107.7 1708.8,1106.4 1709.5,1108.5 1710.3,1108.0 1711.0,1109.4 1711.8,1111.4 1712.5,1109.3 1713.3,1110.5 1714.0,1108.7 1714.8,1110.7 1715.5,1113.2 1715.8,1111.4 1716.3,1111.1 1717.0,1112.8 1717.8,1112.9 1718.5,1113.4 1719.3,1113.8 1720.0,1117.5 1720.8,1114.3 1721.5,1115.4 1722.3,1115.7 1723.0,1118.6 1723.8,1117.1 1724.5,1119.6 1725.3,1118.5 1726.0,1118.7 1726.8,1117.3 1727.5,1121.2 1728.3,1120.8 1729.0,1121.0 1729.8,1120.8 1730.5,1120.8 1731.3,1120.2 1732.0,1123.5 1732.4,1122.9 1732.8,1122.3 1733.5,1122.2 1734.3,1123.4 1735.0,1123.4 1735.8,1125.9 1736.5,1125.1 1737.3,1123.5 1738.0,1123.1 1738.8,1124.4 1739.5,1123.8 1740.3,1125.2 1741.0,1125.8 1741.8,1126.3 1742.5,1126.1 1743.3,1125.5 1744.0,1126.7 1744.8,1124.9 1745.4,1126.0 1745.5,1127.2 1746.3,1126.7 1747.0,1124.8 1747.8,1125.2 1748.5,1124.8 1749.3,1129.5 1750.0,1125.4 1750.8,1127.5 1751.5,1130.4 1752.3,1129.6 1753.0,1130.2 1753.8,1128.0 1754.5,1129.9 1755.3,1133.0 1756.0,1129.2 1756.8,1130.0 1757.5,1129.2 1758.3,1129.8 1759.0,1130.9 1759.8,1132.8 1760.5,1130.4 1761.3,1130.4 1762.0,1132.9 1762.8,1133.7 1763.5,1135.9 1764.3,1135.6 1765.0,1134.4 1765.8,1136.5 1766.5,1137.8 1767.3,1137.3 1768.0,1137.0 1768.8,1138.9 1769.5,1138.1 1770.3,1136.7 1771.0,1141.5 1771.2,1138.1 1771.8,1139.7 1772.5,1140.2 1773.3,1140.7 1774.0,1141.2 1774.8,1140.1 1775.5,1143.1 1776.3,1142.9 1777.0,1143.3 1777.8,1145.1 1778.5,1145.5 1779.3,1146.2 1780.0,1147.3 1780.8,1146.0 1781.5,1143.9 1782.3,1146.6 1783.0,1146.9 1783.8,1147.6 1784.2,1147.1 1784.5,1147.1 1785.3,1150.0 1786.0,1150.9 1786.8,1149.0 1787.5,1151.9 1788.3,1151.8 1789.0,1152.2 1789.8,1154.4 1790.5,1154.1 1791.3,1154.2 1792.0,1155.6 1792.8,1153.6 1793.5,1156.0 1794.3,1156.8 1795.0,1156.1 1795.8,1158.7 1796.5,1159.3 1797.3,1158.7 1798.0,1159.7 1798.8,1161.4 1799.5,1162.4 1800.3,1160.5 1800.8,1162.3" fill="none" stroke="#4d4d4d" stroke-width="9" stroke-linejoin="round" stroke-linecap="butt"/>
<polyline points="305.0,1190.0 305.8,1169.2 306.5,1149.5 307.2,1139.3 308.0,1136.7 308.5,1130.8 308.8,1128.9 309.5,1129.5 310.2,1128.2 311.0,1126.5 311.8,1127.5 312.5,1125.2 313.2,1124.3 314.0,1122.9 314.8,1123.5 315.5,1122.0 316.2,1121.8 317.0,1119.4 317.8,1119.5 318.5,1117.5 319.2,1118.8 320.0,1117.2 320.8,1116.6 321.5,1115.9 322.2,1113.4 323.0,1114.8 323.8,1115.6 324.5,1110.4 325.2,1109.0 326.0,1107.9 326.8,1109.4 327.5,1107.3 328.2,1107.2 329.0,1105.5 329.8,1103.7 330.5,1102.5 331.2,1100.7 332.0,1100.7 332.8,1096.9 333.5,1096.4 334.2,1095.8 335.0,1096.3 335.8,1091.8 336.5,1089.9 337.2,1089.1 338.0,1089.5 338.8,1086.5 339.0,1087.8 339.5,1082.9 340.2,1085.0 341.0,1083.3 341.8,1078.9 342.5,1079.3 343.2,1079.1 344.0,1076.3 344.8,1076.0 345.5,1076.2 346.2,1072.3 346.7,1070.8 347.0,1069.0 347.8,1067.6 348.5,1063.4 349.0,1061.3 349.2,1061.3 350.0,1061.8 350.8,1059.2 351.5,1058.2 352.2,1056.6 353.0,1060.5 353.8,1058.7 354.5,1060.0 355.2,1057.8 356.0,1056.4 356.8,1057.5 357.5,1056.4 358.2,1054.5 359.0,1054.4 359.8,1057.1 360.5,1054.9 361.2,1054.4 362.0,1053.1 362.7,1052.1 362.8,1054.1 363.5,1054.8 364.2,1055.8 365.0,1058.5 365.8,1059.5 366.5,1062.7 367.2,1065.8 368.0,1065.4 368.8,1070.1 368.8,1067.8 369.5,1069.1 370.2,1068.3 371.0,1069.4 371.8,1070.0 372.5,1069.8 373.2,1069.7 374.0,1070.1 374.8,1070.2 375.5,1069.6 376.2,1071.4 376.2,1072.1 377.0,1070.9 377.8,1068.7 378.5,1069.0 379.2,1064.5 380.0,1061.6 380.8,1062.4 381.0,1058.1 381.5,1059.0 382.2,1054.5 383.0,1053.8 383.8,1048.8 384.5,1050.0 385.2,1046.5 386.0,1043.4 386.8,1044.4 387.3,1041.7 387.5,1041.5 388.2,1043.1 389.0,1046.4 389.8,1048.8 390.5,1052.4 391.0,1054.2 391.2,1051.9 392.0,1050.2 392.8,1048.4 393.5,1045.6 394.2,1044.7 395.0,1043.4 395.8,1042.6 396.5,1041.5 397.2,1037.1 398.0,1036.9 398.4,1034.7 398.8,1037.6 399.5,1034.7 400.2,1035.0 401.0,1032.9 401.8,1032.7 402.5,1033.6 403.2,1032.6 403.3,1033.5 404.0,1032.5 404.8,1036.7 405.5,1036.2 406.2,1040.8 407.0,1039.8 407.8,1042.8 408.5,1041.1 409.2,1044.6 410.0,1044.2 410.7,1045.8 410.8,1046.3 411.5,1047.1 412.2,1049.0 413.0,1050.7 413.8,1051.8 414.5,1052.1 415.2,1051.8 416.0,1053.8 416.8,1055.8 417.5,1054.7 418.0,1059.0 418.2,1057.9 419.0,1058.3 419.8,1060.1 420.5,1060.1 421.2,1059.9 422.0,1058.8 422.8,1060.8 423.5,1061.2 424.2,1060.1 424.2,1062.3 425.0,1061.5 425.8,1058.5 426.5,1060.9 427.2,1059.2 428.0,1062.0 428.8,1061.6 429.5,1059.3 430.2,1059.6 431.0,1060.8 431.6,1060.4 431.8,1062.5 432.5,1060.5 433.2,1058.2 434.0,1058.2 434.8,1054.0 435.5,1055.8 436.2,1055.4 437.0,1053.1 437.8,1051.5 438.5,1051.9 439.2,1052.5 440.0,1049.3 440.2,1047.5 440.8,1050.3 441.5,1046.0 442.2,1048.4 443.0,1046.7 443.8,1048.1 444.5,1045.5 445.2,1047.6 446.0,1045.9 446.8,1043.0 447.5,1042.2 447.6,1044.0 448.2,1042.8 449.0,1037.8 449.8,1034.2 450.5,1030.2 451.2,1027.8 452.0,1023.7 452.6,1020.7 452.8,1018.8 453.5,1019.8 454.2,1018.5 455.0,1013.8 455.8,1016.6 456.5,1013.2 457.2,1010.4 458.0,1007.3 458.8,1009.0 459.5,1007.5 460.0,1005.3 460.2,1002.3 461.0,1000.8 461.8,993.6 462.5,988.7 463.2,987.6 464.0,981.6 464.8,975.0 465.5,968.2 466.0,966.1 466.2,963.5 467.0,969.0 467.8,970.6 468.5,972.6 469.2,974.9 470.0,980.1 470.8,982.2 471.5,984.8 472.2,988.3 472.3,986.4 473.0,986.8 473.8,987.1 474.5,989.8 475.2,992.1 476.0,992.0 476.8,993.9 477.5,992.7 478.2,994.6 479.0,995.3 479.7,995.6 479.8,999.4 480.5,999.0 481.2,997.8 482.0,998.6 482.8,1000.2 483.5,999.2 484.2,1002.2 485.0,1000.8 485.8,1002.6 486.5,1002.5 487.2,1003.8 488.0,1003.4 488.8,1003.8 489.5,1005.1 490.2,1004.3 491.0,1003.5 491.8,1002.7 492.5,1003.2 493.2,1001.2 494.0,998.7 494.4,999.2 494.8,997.7 495.5,1000.7 496.2,1000.0 497.0,998.2 497.8,1001.2 498.5,1001.7 499.2,998.0 500.0,1000.8 500.8,1001.6 501.5,1000.3 501.8,1001.6 502.2,1002.3 503.0,1005.1 503.8,1005.9 504.5,1009.7 505.2,1007.2 506.0,1010.1 506.8,1009.9 507.5,1011.2 508.2,1010.5 509.0,1010.7 509.2,1012.3 509.8,1014.6 510.5,1016.1 511.2,1015.4 512.0,1015.8 512.8,1014.7 513.5,1018.1 514.2,1018.4 515.0,1016.7 515.8,1017.9 516.5,1017.3 516.6,1020.5 517.2,1018.6 518.0,1017.3 518.8,1017.3 519.5,1016.6 520.2,1014.8 521.0,1013.1 521.8,1012.2 522.5,1010.9 523.2,1012.7 524.0,1014.0 524.8,1007.7 525.5,1008.4 526.2,1007.1 527.0,1004.0 527.8,1003.9 528.5,1000.8 529.2,1002.1 530.0,998.5 530.8,998.8 531.5,998.9 532.2,996.9 533.0,994.7 533.8,995.5 534.5,996.4 535.2,994.7 536.0,994.4 536.8,992.1 537.5,992.8 538.2,992.8 538.8,991.4 539.0,993.2 539.8,989.2 540.5,986.8 541.2,984.7 542.0,986.6 542.8,983.7 543.5,983.6 544.2,981.6 545.0,981.6 545.8,979.9 546.5,976.6 547.2,976.1 547.4,976.9 548.0,973.5 548.8,976.1 549.5,975.1 550.2,974.2 551.0,972.1 551.8,972.1 552.5,969.7 553.2,970.4 554.0,968.9 554.8,968.9 554.8,968.2 555.5,967.1 556.2,966.0 557.0,960.9 557.8,961.4 558.5,955.8 559.2,953.5 560.0,953.8 560.8,951.9 561.0,951.8 561.5,948.8 562.2,950.0 563.0,949.5 563.8,950.2 564.5,947.8 565.2,947.8 565.9,945.3 566.0,945.3 566.8,937.7 567.5,931.8 568.2,922.5 569.0,915.4 569.8,909.9 570.5,904.1 570.8,899.5 571.2,902.7 572.0,907.6 572.8,915.1 573.5,920.2 574.2,927.4 575.0,931.5 575.8,935.8 576.5,942.1 577.0,945.5 577.2,946.0 578.0,951.1 578.8,952.6 579.5,952.2 580.2,957.8 581.0,958.0 581.8,958.6 582.5,962.2 583.0,963.0 583.2,961.5 584.0,958.0 584.8,958.3 585.5,956.4 586.2,950.7 587.0,952.3 587.8,950.1 588.0,948.0 588.5,949.6 589.2,950.5 590.0,951.2 590.8,953.2 591.5,956.6 592.2,954.6 593.0,958.0 593.8,959.3 594.5,959.6 595.2,961.3 595.4,960.4 596.0,961.3 596.8,962.7 597.5,963.4 598.2,962.3 599.0,967.4 599.8,963.4 600.5,964.6 601.2,964.6 602.0,964.7 602.8,967.2 603.5,965.4 604.0,967.8 604.2,967.3 605.0,963.8 605.8,965.4 606.5,962.5 607.2,965.6 608.0,961.0 608.8,959.5 609.5,957.4 610.2,957.4 610.2,958.3 611.0,958.0 611.8,957.9 612.5,958.8 613.2,959.6 614.0,961.8 614.8,958.3 615.5,960.0 616.2,959.8 617.0,959.4 617.8,960.1 618.5,960.8 619.2,963.0 620.0,962.2 620.8,962.1 621.3,963.7 621.5,962.9 622.2,960.8 623.0,960.0 623.8,957.1 624.5,957.2 625.2,955.5 626.0,952.8 626.8,950.3 627.4,952.2 627.5,950.3 628.2,953.2 629.0,948.1 629.8,949.2 630.5,947.0 631.2,947.2 632.0,947.3 632.8,944.7 633.5,944.9 634.2,944.6 635.0,943.9 635.8,943.9 636.5,943.9 637.2,943.1 637.3,942.4 638.0,942.3 638.8,942.1 639.5,943.3 640.2,944.2 641.0,946.4 641.8,945.8 642.5,945.4 643.2,948.4 643.4,946.8 644.0,946.2 644.8,946.0 645.5,946.0 646.2,941.7 647.0,942.4 647.8,943.0 648.5,941.5 649.2,940.0 650.0,939.5 650.8,941.0 651.5,937.9 652.2,938.5 653.0,937.8 653.8,935.5 654.5,935.8 655.2,931.5 656.0,928.1 656.8,924.2 657.5,923.4 658.2,918.7 659.0,915.2 659.5,912.4 659.8,911.9 660.5,898.7 661.2,885.6 662.0,872.9 662.8,859.9 663.2,854.9 663.5,849.5 664.2,833.9 664.9,825.3 665.0,825.6 665.8,829.6 666.5,836.2 667.2,842.4 668.0,849.1 668.8,854.7 669.5,858.8 670.2,868.5 670.5,869.0 671.0,871.6 671.8,873.8 672.5,874.3 673.2,877.3 674.0,880.1 674.8,882.6 675.5,883.9 676.2,885.8 676.7,888.1 677.0,889.0 677.8,893.9 678.5,896.7 679.2,903.8 680.0,907.0 680.4,910.0 680.8,910.5 681.5,910.6 682.2,912.2 683.0,909.8 683.8,907.5 684.5,909.0 685.2,907.7 686.0,908.5 686.8,906.7 687.4,906.2 687.5,906.5 688.2,907.4 689.0,906.9 689.8,909.3 690.5,911.1 691.2,913.5 692.0,912.7 692.8,913.6 693.5,915.8 694.2,916.8 694.8,918.8 695.0,917.0 695.8,914.2 696.5,913.7 697.2,911.9 698.0,907.4 698.8,906.1 699.5,901.8 699.7,902.9 700.2,903.2 701.0,905.2 701.8,906.1 702.5,907.7 703.2,909.0 704.0,911.0 704.8,911.9 705.5,912.2 706.2,912.6 707.0,916.9 707.1,917.3 707.8,915.0 708.5,916.1 709.2,913.5 710.0,913.4 710.8,914.9 711.5,916.9 712.2,913.8 713.0,914.0 713.8,916.9 714.5,912.7 715.2,912.0 716.0,908.2 716.8,903.7 717.5,900.5 718.2,900.0 718.2,895.5 719.0,894.1 719.8,891.8 720.5,888.9 721.2,885.7 722.0,886.8 722.8,882.8 723.1,879.2 723.5,882.8 724.2,888.4 725.0,892.6 725.8,894.7 726.5,900.6 727.2,905.3 728.0,909.7 728.8,908.1 729.5,903.9 730.2,906.7 731.0,903.2 731.8,903.5 732.5,903.2 733.2,897.9 734.0,895.0 734.2,897.0 734.8,890.3 735.5,882.7 736.2,874.7 737.0,870.7 737.8,861.0 738.5,852.6 739.1,848.1 739.2,848.7 740.0,857.9 740.8,864.8 741.5,871.7 742.2,881.3 743.0,887.4 743.8,896.6 744.0,899.8 744.5,898.1 745.2,898.1 746.0,899.4 746.8,900.5 747.5,899.7 748.2,900.2 749.0,900.2 749.8,900.9 750.5,901.6 751.2,900.3 751.4,900.6 752.0,900.3 752.8,898.3 753.5,898.2 754.2,897.6 755.0,895.8 755.8,894.1 756.5,892.8 757.2,894.8 758.0,892.7 758.8,889.3 758.8,889.6 759.5,890.7 760.2,887.9 761.0,883.9 761.8,882.7 762.5,877.1 763.2,876.5 764.0,875.0 764.8,869.5 765.0,869.9 765.5,865.1 766.2,855.6 767.0,843.5 767.8,834.7 768.5,826.3 768.7,821.4 769.2,811.6 770.0,801.3 770.8,789.1 771.1,785.7 771.5,788.6 772.2,795.3 773.0,807.0 773.8,811.4 774.5,820.4 774.8,823.9 775.2,830.1 776.0,839.5 776.8,850.1 777.5,859.4 778.2,867.8 778.5,872.7 779.0,874.5 779.8,877.2 780.5,880.3 781.2,881.9 782.0,886.8 782.8,889.6 783.5,887.6 784.2,892.7 784.7,893.3 785.0,890.4 785.8,893.0 786.5,890.7 787.2,889.9 788.0,888.6 788.8,889.8 789.5,889.0 790.2,887.0 790.8,886.9 791.0,885.0 791.8,881.9 792.5,877.3 793.2,874.8 794.0,870.4 794.5,869.3 794.8,870.1 795.5,870.4 796.2,872.2 797.0,874.8 797.8,869.8 798.5,873.2 799.2,873.3 800.0,874.2 800.7,873.9 800.8,875.6 801.5,877.2 802.2,878.7 803.0,881.2 803.8,882.9 804.5,882.9 805.2,889.1 806.0,889.6 806.8,891.0 806.8,892.8 807.5,890.6 808.2,887.7 809.0,890.2 809.8,886.0 810.5,886.6 811.2,885.8 812.0,886.1 812.8,884.7 813.0,883.1 813.5,881.2 814.2,880.4 815.0,881.0 815.8,880.6 816.5,877.8 817.2,875.1 818.0,875.9 818.8,872.9 819.5,871.6 820.2,870.5 821.0,870.3 821.8,868.6 822.5,868.1 822.9,867.8 823.2,867.2 824.0,864.5 824.8,865.9 825.5,868.9 826.2,869.3 827.0,872.6 827.8,870.7 828.5,871.3 829.2,873.3 830.0,874.1 830.2,872.7 830.8,875.4 831.5,876.1 832.2,878.9 833.0,884.1 833.8,883.5 834.5,888.8 835.2,890.8 835.2,890.8 836.0,891.4 836.8,891.4 837.5,888.7 838.2,890.6 839.0,891.7 839.8,894.1 840.5,892.3 841.2,893.4 841.3,893.9 842.0,894.8 842.8,890.2 843.5,889.1 844.2,890.3 845.0,885.7 845.8,887.5 846.5,885.3 847.2,882.8 848.0,883.0 848.8,881.1 849.5,881.2 850.2,880.2 851.0,880.3 851.8,877.2 852.4,876.2 852.5,875.6 853.2,877.4 854.0,879.9 854.8,877.6 855.5,881.9 856.2,881.7 857.0,883.8 857.8,885.4 858.5,887.4 859.2,888.1 859.8,888.4 860.0,889.1 860.8,887.6 861.5,886.2 862.2,885.5 863.0,885.2 863.8,883.1 864.5,881.8 865.2,878.8 866.0,878.9 866.8,875.4 867.5,877.1 868.2,873.6 869.0,874.7 869.7,875.3 869.8,871.1 870.5,874.9 871.2,875.4 872.0,875.9 872.8,877.3 873.5,880.8 874.2,883.6 875.0,884.2 875.8,883.9 876.5,886.4 877.0,888.8 877.2,890.4 878.0,887.9 878.8,886.9 879.5,886.8 880.2,884.0 881.0,883.0 881.8,881.7 882.5,878.6 883.2,880.1 884.0,878.8 884.4,878.8 884.8,875.7 885.5,875.1 886.2,876.0 887.0,874.0 887.8,874.0 888.5,870.1 889.2,870.1 890.0,867.7 890.8,867.6 891.5,865.4 892.2,865.3 893.0,864.7 893.8,862.9 894.5,858.7 895.2,860.7 896.0,858.9 896.7,856.0 896.8,856.2 897.5,859.1 898.2,861.6 899.0,862.2 899.8,862.7 900.5,866.9 901.2,868.7 902.0,873.4 902.8,870.9 903.5,877.5 904.1,878.2 904.2,875.4 905.0,871.7 905.8,864.4 906.5,860.0 907.2,852.4 907.8,849.3 908.0,847.8 908.8,846.5 909.5,847.4 910.2,846.3 911.0,847.2 911.8,847.4 912.5,845.0 913.2,844.7 914.0,844.3 914.8,841.5 915.5,843.3 916.2,842.4 917.0,841.9 917.7,840.1 917.8,839.0 918.5,838.7 919.2,836.9 920.0,835.7 920.8,833.0 921.5,830.9 922.2,827.1 923.0,825.6 923.8,821.4 924.5,819.9 925.1,818.2 925.2,818.5 926.0,806.9 926.8,796.3 927.5,790.7 928.2,779.3 929.0,771.5 929.8,762.4 930.0,758.7 930.5,765.1 931.2,769.8 932.0,773.9 932.8,780.4 933.5,785.4 934.2,792.4 935.0,796.9 935.8,802.2 936.2,805.9 936.5,808.4 937.2,814.8 938.0,818.8 938.8,825.4 939.5,831.5 940.2,839.3 941.0,843.1 941.1,839.4 941.8,845.6 942.5,849.3 943.2,853.7 944.0,858.7 944.8,861.2 945.5,861.0 946.0,866.4 946.2,866.5 947.0,867.8 947.8,869.9 948.5,867.9 949.2,871.4 950.0,869.1 950.8,872.1 951.5,873.4 952.2,876.7 953.0,874.0 953.8,873.8 954.5,877.5 954.6,876.0 955.2,877.9 956.0,874.3 956.8,873.2 957.5,874.9 958.2,872.6 959.0,872.8 959.8,869.0 960.5,871.9 961.2,868.4 962.0,869.3 962.8,866.4 963.3,865.3 963.5,867.0 964.2,867.9 965.0,870.0 965.8,869.0 966.5,869.8 967.2,870.2 968.0,873.5 968.8,869.1 969.5,871.9 970.2,870.6 971.0,871.4 971.8,870.7 971.9,872.8 972.5,867.3 973.2,864.0 974.0,862.1 974.8,857.7 975.5,856.7 975.6,856.5 976.2,850.4 977.0,847.5 977.8,841.0 978.5,836.9 979.2,832.2 980.0,829.5 980.5,824.0 980.8,823.1 981.5,824.0 982.2,827.5 983.0,824.9 983.8,827.3 984.5,828.4 985.2,826.9 986.0,830.3 986.8,833.1 987.5,833.3 987.8,832.4 988.2,834.6 989.0,834.7 989.8,837.0 990.5,834.1 991.2,834.9 992.0,835.9 992.8,836.1 993.5,836.7 994.2,836.8 995.0,836.4 995.8,835.6 996.5,837.2 997.2,836.4 998.0,837.1 998.8,838.0 999.5,839.6 1000.2,840.4 1000.2,838.3 1001.0,841.8 1001.8,844.3 1002.5,845.3 1003.2,845.3 1004.0,846.6 1004.8,852.0 1005.5,854.1 1006.2,855.2 1006.3,853.8 1007.0,856.3 1007.8,855.4 1008.5,853.4 1009.2,852.6 1010.0,850.0 1010.8,852.7 1011.5,849.3 1012.2,851.5 1012.5,851.5 1013.0,847.5 1013.8,844.4 1014.5,837.3 1015.2,833.5 1016.0,828.9 1016.8,823.4 1017.4,818.4 1017.5,819.6 1018.2,812.9 1019.0,806.4 1019.8,800.7 1020.5,795.3 1021.1,793.3 1021.2,791.1 1022.0,792.3 1022.8,793.0 1023.5,794.5 1024.2,795.4 1025.0,799.6 1025.8,801.0 1026.5,801.4 1027.2,802.5 1027.3,804.0 1028.0,806.5 1028.8,808.5 1029.5,813.4 1030.2,816.1 1031.0,818.8 1031.8,819.7 1032.5,817.9 1033.2,820.2 1034.0,817.3 1034.8,819.1 1035.5,819.1 1036.2,818.0 1037.0,818.7 1037.8,816.7 1038.5,816.4 1039.2,817.9 1040.0,817.3 1040.8,818.8 1041.5,818.2 1042.0,818.9 1042.2,816.8 1043.0,811.4 1043.8,806.1 1044.5,800.4 1045.2,800.1 1046.0,802.9 1046.8,798.1 1047.5,799.8 1048.2,801.0 1049.0,800.1 1049.8,801.1 1050.5,799.9 1051.2,797.5 1052.0,798.4 1052.8,797.0 1053.5,799.7 1054.2,800.1 1054.4,797.8 1055.0,802.4 1055.8,805.5 1056.5,808.5 1056.8,811.3 1057.2,808.8 1058.0,808.1 1058.8,807.1 1059.5,805.7 1060.2,804.4 1061.0,800.5 1061.8,799.2 1062.5,797.5 1063.0,796.4 1063.2,792.1 1064.0,794.2 1064.8,795.6 1065.5,792.9 1066.2,794.1 1067.0,794.4 1067.8,790.8 1068.5,792.4 1069.2,792.6 1069.2,791.5 1070.0,777.8 1070.8,768.1 1071.5,755.1 1071.6,755.2 1072.2,751.0 1073.0,745.5 1073.8,742.1 1074.5,736.8 1074.9,734.4 1075.2,735.6 1076.0,741.9 1076.8,747.9 1077.5,751.9 1078.2,756.5 1079.0,760.5 1079.8,765.5 1080.5,771.8 1081.0,772.4 1081.2,775.8 1082.0,770.6 1082.8,770.7 1083.5,766.9 1084.2,762.4 1085.0,761.1 1085.8,757.9 1086.5,755.5 1087.2,753.4 1087.2,751.8 1088.0,753.4 1088.8,755.3 1089.5,755.8 1090.2,758.7 1091.0,760.9 1091.8,762.6 1092.5,764.1 1093.2,765.0 1094.0,768.0 1094.6,765.9 1094.8,767.6 1095.5,766.9 1096.2,767.6 1097.0,766.5 1097.8,765.9 1098.5,764.2 1099.2,764.5 1100.0,761.5 1100.8,762.1 1101.5,758.9 1102.2,762.9 1103.0,762.3 1103.8,759.2 1104.5,758.5 1105.2,756.7 1106.0,757.1 1106.8,758.8 1107.0,758.5 1107.5,755.7 1108.2,754.8 1109.0,752.5 1109.8,751.8 1110.5,749.9 1111.2,746.6 1112.0,744.7 1112.8,742.3 1113.5,737.5 1114.2,737.9 1114.3,737.5 1115.0,732.3 1115.8,722.5 1116.5,719.0 1117.2,710.7 1118.0,705.2 1118.8,699.7 1119.3,691.7 1119.5,691.6 1120.2,693.0 1121.0,689.1 1121.8,687.9 1122.5,688.4 1123.2,686.0 1124.0,685.8 1124.8,683.7 1125.4,682.1 1125.5,683.9 1126.2,690.5 1127.0,692.9 1127.8,700.0 1128.5,704.8 1129.2,708.9 1130.0,714.6 1130.8,718.2 1131.5,724.0 1131.6,725.9 1132.2,726.6 1133.0,729.5 1133.8,727.7 1134.5,730.1 1135.2,730.9 1136.0,732.6 1136.8,735.3 1137.5,733.5 1138.2,737.0 1139.0,736.2 1139.8,737.5 1140.5,740.1 1141.2,739.5 1141.4,740.8 1142.0,738.4 1142.8,736.1 1143.5,733.8 1144.2,730.2 1145.0,729.4 1145.8,728.5 1146.5,726.6 1147.2,722.6 1148.0,723.6 1148.8,721.1 1148.8,718.8 1149.5,707.5 1150.2,696.9 1151.0,681.7 1151.8,670.5 1152.5,658.9 1153.2,646.3 1153.7,638.9 1154.0,637.7 1154.8,631.9 1155.5,628.0 1156.2,626.7 1157.0,618.2 1157.4,616.9 1157.8,618.2 1158.5,618.8 1159.2,622.6 1160.0,622.7 1160.8,625.1 1161.5,622.7 1162.2,628.8 1163.0,630.4 1163.8,629.8 1164.5,633.9 1165.2,634.4 1166.0,636.9 1166.1,638.3 1166.8,629.5 1167.5,620.4 1168.2,613.8 1169.0,604.5 1169.8,597.3 1170.5,589.5 1171.0,584.4 1171.2,585.3 1172.0,580.9 1172.8,574.7 1173.5,573.0 1174.2,565.5 1175.0,562.6 1175.8,559.0 1176.5,556.5 1177.1,552.6 1177.2,553.0 1178.0,557.7 1178.8,560.7 1179.5,565.2 1180.2,566.3 1181.0,569.0 1181.8,574.3 1182.5,579.5 1183.2,582.6 1184.0,587.1 1184.5,589.4 1184.8,587.7 1185.5,583.8 1186.2,577.7 1187.0,575.6 1187.8,568.7 1188.5,565.5 1189.2,559.6 1190.0,557.6 1190.7,551.1 1190.8,553.7 1191.5,536.8 1192.2,525.1 1193.0,511.0 1193.7,497.4 1193.8,499.4 1194.5,488.7 1195.2,482.4 1196.0,470.7 1196.8,462.3 1197.0,457.9 1197.5,453.5 1198.2,442.6 1199.0,430.4 1199.8,418.6 1200.5,406.3 1201.0,402.6 1201.2,397.4 1202.0,384.5 1202.8,376.7 1203.5,364.2 1204.2,359.5 1204.5,356.7 1205.0,354.2 1205.8,349.4 1206.5,345.9 1207.2,342.0 1207.9,341.7 1208.0,340.6 1208.8,344.1 1209.5,346.9 1210.2,350.4 1211.0,355.0 1211.8,367.2 1212.5,376.7 1213.2,387.8 1214.0,397.9 1214.8,412.9 1215.5,428.2 1216.2,445.7 1217.0,460.1 1217.8,473.6 1218.5,485.6 1219.2,497.2 1220.0,508.8 1220.8,515.2 1221.5,519.1 1222.2,528.5 1223.0,531.6 1223.8,536.1 1224.0,540.6 1224.5,536.0 1225.2,534.7 1226.0,531.3 1226.8,529.4 1227.5,526.1 1228.2,524.7 1229.0,523.3 1229.8,517.7 1230.5,514.1 1231.2,516.1 1232.0,512.3 1232.8,514.7 1233.5,514.8 1234.2,518.6 1235.0,520.5 1235.8,518.4 1236.5,522.2 1237.2,522.2 1238.0,522.6 1238.5,525.2 1238.8,525.8 1239.5,521.8 1240.2,520.2 1241.0,521.6 1241.8,518.4 1242.5,517.1 1243.2,513.5 1244.0,512.3 1244.8,511.5 1245.5,509.8 1246.2,507.9 1247.0,507.9 1247.8,504.4 1248.0,501.8 1248.5,504.8 1249.2,509.1 1250.0,514.0 1250.8,514.9 1251.5,518.6 1252.2,522.4 1253.0,524.9 1253.8,523.9 1254.5,523.8 1255.2,524.4 1256.0,523.0 1256.8,521.2 1257.5,521.2 1258.2,518.3 1259.0,520.2 1259.8,519.0 1260.5,517.6 1261.0,514.6 1261.2,513.2 1262.0,489.4 1262.8,474.0 1263.5,456.3 1264.0,446.4 1264.2,444.2 1265.0,447.3 1265.8,447.9 1266.5,448.8 1267.2,451.3 1268.0,453.0 1268.8,452.7 1269.0,452.2 1269.5,451.7 1270.2,459.1 1271.0,459.9 1271.8,460.9 1272.5,466.2 1273.2,470.7 1273.7,470.4 1274.0,469.5 1274.8,474.8 1275.5,474.0 1276.2,474.8 1277.0,476.8 1277.8,474.2 1278.5,477.9 1279.2,477.2 1280.0,479.6 1280.8,475.6 1281.5,475.0 1282.2,473.5 1283.0,473.6 1283.8,473.9 1284.5,473.9 1285.0,473.1 1285.2,472.7 1286.0,461.4 1286.8,452.1 1287.5,443.6 1288.2,433.2 1289.0,422.4 1289.8,411.7 1290.0,411.0 1290.5,401.3 1291.2,391.6 1292.0,376.6 1292.8,362.3 1293.0,361.0 1293.5,352.3 1294.2,335.7 1295.0,321.2 1295.8,306.0 1296.0,302.9 1296.5,288.7 1297.2,269.8 1297.5,262.8 1298.0,248.1 1298.8,232.1 1299.5,211.9 1299.6,206.5 1300.2,206.0 1301.0,202.9 1301.8,199.2 1302.5,196.5 1303.2,195.1 1304.0,189.9 1304.8,188.0 1305.1,187.3 1305.5,190.8 1306.2,196.9 1307.0,203.7 1307.8,210.5 1308.5,215.0 1309.2,222.6 1309.7,225.6 1310.0,233.1 1310.8,241.4 1311.5,254.9 1312.2,268.2 1313.0,279.0 1313.8,291.0 1314.3,299.6 1314.5,302.1 1315.2,305.4 1316.0,312.1 1316.8,317.3 1317.5,320.7 1318.0,326.4 1318.2,323.6 1319.0,319.2 1319.8,314.5 1320.5,308.4 1321.2,301.0 1321.7,299.7 1322.0,292.1 1322.8,280.8 1323.5,271.7 1324.2,257.1 1324.5,255.1 1325.0,251.9 1325.8,250.8 1326.5,248.0 1327.2,249.4 1328.0,246.5 1328.8,246.3 1329.1,245.5 1329.5,242.5 1330.2,236.3 1331.0,229.8 1331.8,223.8 1332.5,216.8 1332.8,212.4 1333.2,219.4 1334.0,227.4 1334.8,231.9 1335.5,239.5 1336.2,242.8 1336.5,242.8 1337.0,246.7 1337.8,255.0 1338.5,260.5 1339.2,265.9 1340.0,273.2 1340.8,277.1 1341.1,281.9 1341.5,276.9 1342.2,270.1 1343.0,264.2 1343.8,255.0 1344.5,249.7 1344.8,246.7 1345.2,229.1 1346.0,208.6 1346.8,179.0 1347.5,155.8 1348.2,132.2 1348.5,119.7 1349.0,133.2 1349.8,146.8 1350.5,158.4 1351.2,172.3 1352.0,185.7 1352.2,188.6 1352.8,212.1 1353.5,239.7 1354.2,269.8 1355.0,300.0 1355.8,308.2 1356.5,316.1 1357.2,320.0 1358.0,326.8 1358.8,337.0 1359.5,344.7 1360.2,350.8 1360.5,355.4 1361.0,357.5 1361.8,359.6 1362.5,364.0 1363.2,362.6 1364.0,366.7 1364.8,371.9 1365.5,372.6 1366.1,372.1 1366.2,374.0 1367.0,375.5 1367.8,376.8 1368.5,374.9 1369.2,375.6 1370.0,372.4 1370.8,373.7 1371.5,375.9 1371.6,372.8 1372.2,371.6 1373.0,366.0 1373.8,367.9 1374.5,362.6 1375.2,360.6 1376.0,354.6 1376.2,354.1 1376.8,352.0 1377.5,339.8 1378.2,330.3 1379.0,322.8 1379.8,313.7 1380.5,300.9 1380.8,298.6 1381.2,292.9 1382.0,280.9 1382.8,269.6 1383.5,256.5 1384.2,244.9 1385.0,233.8 1385.5,224.5 1385.8,222.5 1386.5,217.6 1387.2,213.1 1388.0,207.5 1388.8,201.8 1389.1,199.8 1389.5,203.3 1390.2,209.6 1391.0,215.5 1391.8,218.8 1392.5,228.0 1393.2,229.9 1393.8,237.4 1394.0,237.7 1394.8,247.9 1395.5,256.9 1396.2,260.7 1397.0,272.6 1397.5,277.6 1397.8,272.6 1398.5,262.6 1399.2,250.0 1400.0,239.6 1400.2,234.8 1400.8,237.3 1401.5,236.6 1402.2,236.4 1403.0,233.9 1403.8,237.2 1404.5,236.9 1405.2,233.3 1406.0,232.2 1406.7,231.7 1406.8,232.8 1407.5,227.4 1408.2,218.7 1409.0,210.8 1409.8,208.7 1410.5,202.0 1411.2,196.4 1412.0,191.1 1412.2,187.0 1412.8,186.0 1413.5,181.6 1414.2,178.8 1415.0,176.4 1415.8,170.7 1415.9,168.6 1416.5,161.3 1417.2,147.4 1418.0,132.8 1418.8,117.2 1419.5,105.6 1419.6,105.4 1420.2,96.6 1421.0,84.0 1421.8,74.6 1422.4,63.5 1422.5,64.1 1423.2,67.7 1424.0,68.6 1424.8,71.3 1425.5,74.6 1426.2,77.1 1427.0,76.6 1427.8,95.8 1428.5,112.8 1429.2,131.6 1430.0,152.8 1430.7,169.0 1430.8,167.8 1431.5,184.6 1432.2,195.6 1433.0,209.5 1433.8,223.7 1434.4,235.0 1434.5,235.1 1435.2,238.7 1436.0,249.5 1436.8,254.3 1437.5,259.7 1438.1,263.8 1438.2,269.5 1439.0,268.4 1439.8,269.1 1440.5,270.6 1441.2,270.3 1442.0,268.8 1442.8,273.0 1443.5,274.4 1443.6,273.8 1444.2,274.3 1445.0,273.5 1445.8,267.9 1446.5,267.3 1447.2,268.1 1448.0,265.8 1448.3,265.5 1448.8,267.5 1449.5,268.3 1450.2,267.5 1451.0,269.4 1451.8,269.1 1452.5,271.0 1453.2,270.5 1454.0,270.1 1454.7,273.3 1454.8,273.1 1455.5,273.3 1456.2,272.1 1457.0,267.4 1457.8,265.9 1458.5,261.8 1459.2,259.0 1460.0,257.7 1460.3,256.6 1460.8,258.3 1461.5,259.5 1462.2,263.4 1463.0,262.0 1463.8,261.2 1464.5,265.4 1465.2,265.7 1465.8,268.1 1466.0,269.4 1466.8,266.9 1467.5,268.0 1468.2,269.2 1469.0,267.2 1469.8,269.4 1470.5,270.3 1471.2,271.1 1472.0,272.0 1472.8,271.6 1473.2,271.6 1473.5,269.1 1474.2,267.6 1475.0,270.8 1475.8,275.0 1476.5,273.5 1477.2,270.3 1478.0,273.6 1478.8,275.3 1479.5,272.3 1479.7,276.2 1480.2,271.6 1481.0,272.3 1481.8,268.0 1482.5,270.0 1483.2,260.5 1484.0,260.3 1484.3,256.6 1484.8,261.0 1485.5,260.1 1486.2,262.0 1487.0,261.4 1487.8,260.0 1488.5,261.5 1489.2,261.3 1490.0,262.2 1490.8,264.7 1491.5,266.7 1491.7,266.5 1492.2,265.6 1493.0,263.2 1493.8,264.2 1494.5,261.4 1495.2,262.4 1496.0,262.6 1496.8,260.3 1497.5,259.2 1498.2,258.5 1499.0,259.4 1499.8,257.3 1500.5,255.0 1501.2,255.9 1502.0,254.3 1502.8,257.7 1502.8,255.4 1503.5,252.7 1504.2,254.8 1505.0,254.9 1505.8,253.9 1506.5,252.2 1507.2,252.4 1508.0,252.0 1508.8,252.5 1509.5,250.9 1510.2,253.2 1511.0,248.8 1511.8,250.8 1512.0,248.3 1512.5,245.8 1513.2,246.6 1514.0,245.7 1514.8,246.0 1515.5,250.5 1516.2,247.7 1517.0,249.7 1517.8,247.6 1518.5,248.9 1519.2,247.4 1520.0,250.3 1520.8,248.6 1521.2,248.2 1521.5,248.2 1522.2,250.7 1523.0,247.1 1523.8,246.7 1524.5,242.6 1525.2,242.5 1526.0,242.9 1526.8,238.8 1527.5,242.7 1528.2,240.2 1528.6,239.4 1529.0,239.6 1529.8,240.2 1530.5,240.5 1531.2,244.0 1532.0,243.7 1532.8,245.2 1533.5,243.5 1534.2,243.3 1535.0,247.2 1535.8,244.0 1536.0,245.1 1536.5,247.4 1537.2,248.5 1538.0,245.5 1538.8,247.5 1539.5,248.5 1540.2,248.7 1541.0,248.1 1541.8,250.8 1542.5,249.5 1543.2,250.4 1543.4,247.4 1544.0,251.1 1544.8,249.0 1545.5,253.6 1546.2,253.9 1547.0,253.1 1547.8,254.7 1548.5,255.3 1549.2,255.7 1550.0,257.1 1550.8,257.1 1550.8,256.6 1551.5,258.4 1552.2,264.5 1553.0,264.7 1553.8,266.8 1554.5,270.4 1555.2,271.2 1556.0,273.7 1556.8,277.7 1557.5,280.6 1558.2,282.4 1558.2,279.2 1559.0,280.5 1559.8,279.3 1560.5,279.0 1561.2,276.0 1562.0,274.7 1562.8,275.0 1563.5,272.8 1564.2,271.5 1565.0,271.9 1565.8,272.2 1566.5,270.0 1566.6,271.3 1567.2,268.5 1568.0,271.4 1568.8,270.7 1569.5,269.9 1570.2,271.0 1571.0,270.8 1571.8,272.2 1572.5,271.9 1573.2,275.3 1574.0,273.5 1574.8,272.5 1575.5,274.9 1576.2,276.2 1577.0,275.8 1577.8,278.0 1578.5,275.9 1579.2,276.5 1580.0,280.5 1580.8,278.7 1581.5,279.9 1582.0,280.1 1582.2,280.6 1583.0,280.6 1583.8,281.0 1584.5,283.6 1585.2,282.0 1586.0,283.6 1586.8,285.0 1587.5,284.1 1588.2,283.1 1589.0,286.5 1589.8,288.0 1590.5,287.4 1591.2,285.3 1592.0,289.1 1592.8,291.6 1593.5,287.3 1594.2,286.3 1595.0,290.4 1595.3,291.0 1595.8,292.9 1596.5,294.6 1597.2,295.2 1598.0,297.4 1598.8,298.7 1599.5,300.1 1600.2,301.5 1601.0,303.0 1601.8,305.8 1602.5,307.1 1603.2,307.7 1604.0,311.5 1604.1,309.3 1604.8,310.5 1605.5,311.7 1606.2,309.6 1607.0,312.4 1607.8,314.7 1608.5,315.3 1609.2,313.2 1610.0,314.4 1610.8,314.6 1611.5,316.4 1612.2,317.2 1613.0,315.7 1613.8,318.9 1614.5,319.1 1615.1,319.4 1615.2,318.7 1616.0,320.5 1616.8,319.5 1617.5,323.3 1618.2,324.4 1619.0,325.1 1619.8,324.7 1620.5,329.2 1621.2,330.1 1622.0,327.2 1622.8,331.5 1623.5,332.4 1624.2,329.9 1625.0,335.4 1625.8,336.9 1626.1,337.6 1626.5,337.7 1627.2,338.0 1628.0,339.6 1628.8,342.4 1629.5,344.7 1630.2,343.9 1631.0,345.5 1631.8,348.2 1632.5,345.6 1633.2,350.4 1634.0,350.8 1634.8,349.4 1634.9,353.7 1635.5,353.0 1636.2,357.3 1637.0,360.0 1637.8,358.5 1638.5,360.6 1639.2,364.2 1640.0,363.9 1640.8,369.3 1641.5,370.6 1642.2,372.8 1643.0,370.1 1643.8,373.9 1644.5,375.3 1645.2,373.3 1646.0,378.0 1646.8,376.0 1647.5,379.2 1648.2,378.3 1649.0,382.1 1649.8,384.4 1650.5,383.3 1651.2,384.4 1652.0,387.1 1652.6,385.7 1652.8,386.5 1653.5,388.1 1654.2,388.1 1655.0,390.2 1655.8,390.2 1656.5,391.8 1657.2,389.8 1658.0,391.8 1658.8,389.8 1659.5,392.6 1660.2,394.2 1661.0,395.5 1661.8,391.1 1662.5,393.0 1663.2,394.5 1664.0,392.8 1664.8,395.0 1665.5,395.4 1665.8,394.1 1666.2,394.3 1667.0,394.4 1667.8,396.6 1668.5,398.5 1669.2,397.9 1670.0,401.9 1670.8,397.0 1671.5,399.0 1672.2,401.4 1673.0,399.8 1673.8,402.6 1674.5,404.1 1675.2,404.1 1676.0,404.5 1676.8,406.9 1677.5,407.1 1678.2,408.4 1679.0,409.0 1679.8,408.4 1680.5,408.9 1681.2,410.8 1682.0,412.4 1682.8,412.9 1683.5,415.3 1684.2,415.3 1685.0,417.1 1685.8,416.8 1686.5,416.6 1687.2,419.5 1687.8,419.7 1688.0,418.5 1688.8,421.3 1689.5,427.7 1690.2,421.9 1691.0,430.0 1691.8,430.9 1692.5,433.0 1693.2,434.9 1694.0,436.9 1694.4,441.8 1694.8,438.6 1695.5,439.9 1696.2,442.3 1697.0,442.8 1697.8,443.0 1698.5,443.8 1699.2,443.4 1700.0,447.4 1700.8,445.6 1701.5,444.8 1702.2,450.2 1703.0,450.9 1703.2,450.6 1703.8,450.5 1704.5,454.2 1705.2,452.8 1706.0,453.0 1706.8,457.6 1707.5,460.1 1708.2,461.4 1709.0,464.9 1709.8,464.9 1710.5,465.2 1711.2,466.8 1712.0,469.8 1712.8,469.9 1713.5,471.1 1714.2,470.4 1715.0,473.6 1715.8,473.6 1716.5,476.9 1717.2,478.0 1718.0,480.0 1718.8,482.6 1719.5,481.4 1720.2,484.7 1720.9,482.6 1721.0,484.4 1721.8,486.6 1722.5,489.2 1723.2,486.5 1724.0,488.9 1724.8,490.7 1725.5,491.6 1726.2,491.8 1727.0,492.1 1727.8,493.8 1728.5,496.5 1729.2,496.0 1730.0,501.1 1730.8,501.5 1731.5,498.7 1731.9,501.1 1732.2,503.8 1733.0,505.0 1733.8,505.6 1734.5,503.4 1735.2,505.8 1736.0,509.0 1736.8,508.6 1737.5,509.0 1738.2,511.3 1739.0,512.9 1739.8,513.0 1740.5,514.2 1741.2,516.3 1742.0,515.3 1742.8,516.0 1742.9,518.4 1743.5,516.1 1744.2,518.6 1745.0,517.4 1745.8,519.7 1746.5,517.4 1747.2,520.7 1748.0,519.9 1748.8,519.5 1749.5,519.1 1750.2,522.7 1751.0,524.4 1751.8,526.8 1752.5,532.3 1753.2,534.4 1753.9,537.5 1754.0,534.4 1754.8,534.7 1755.5,536.2 1756.2,540.0 1757.0,541.2 1757.8,538.9 1758.5,543.4 1759.2,542.6 1760.0,542.6 1760.8,544.9 1761.5,546.7 1762.2,546.6 1762.7,547.1 1763.0,547.0 1763.8,548.2 1764.5,551.4 1765.2,551.8 1766.0,556.4 1766.8,556.5 1767.5,561.1 1768.2,559.5 1769.0,565.1 1769.3,562.9 1769.8,563.8 1770.5,566.8 1771.2,569.1 1772.0,569.5 1772.8,570.7 1773.5,575.1 1774.2,574.9 1775.0,574.4 1775.8,577.1 1776.5,581.1 1777.2,581.1 1778.0,583.4 1778.2,585.3 1778.8,584.1 1779.5,588.1 1780.2,589.7 1781.0,593.3 1781.8,596.8 1782.5,597.4 1783.2,602.0 1784.0,604.8 1784.8,608.8 1784.8,607.0 1785.5,608.7 1786.2,613.5 1787.0,614.3 1787.8,618.6 1788.5,621.8 1789.2,622.7 1790.0,626.4 1790.8,627.9 1791.4,628.1 1791.5,630.1 1792.2,632.0 1793.0,637.3 1793.8,638.7 1794.5,642.5 1795.2,645.3 1796.0,649.3 1796.8,650.3 1796.9,650.8 1797.5,654.3 1798.2,658.6 1799.0,659.6 1799.8,663.1 1800.2,664.2" fill="none" stroke="#00a0ff" stroke-width="9" stroke-linejoin="round" stroke-linecap="butt"/>
<polyline points="304.2,1235.6 304.9,1223.5 305.7,1220.5 306.0,1216.7 306.4,1214.3 307.2,1210.5 307.9,1204.4 307.9,1206.4 308.7,1204.6 309.4,1208.6 310.2,1203.7 310.9,1201.9 311.7,1200.9 312.4,1199.3 312.8,1198.3 313.2,1200.0 313.9,1202.9 314.7,1203.9 315.4,1207.3 316.2,1207.8 316.5,1209.0 316.9,1210.8 317.7,1209.6 318.4,1208.4 319.2,1208.8 319.9,1209.6 320.7,1211.3 321.4,1208.6 322.2,1208.5 322.9,1210.0 323.7,1207.6 323.9,1208.3 324.4,1209.6 325.2,1209.0 325.9,1208.2 326.7,1208.7 327.4,1204.3 328.2,1208.7 328.9,1206.1 329.7,1205.0 330.4,1207.1 331.2,1207.4 331.9,1205.8 332.7,1204.9 333.4,1206.0 333.7,1205.9 334.2,1207.2 334.9,1205.8 335.7,1204.5 336.4,1205.1 337.2,1203.0 337.9,1201.6 338.7,1202.9 339.4,1202.3 340.2,1200.8 340.9,1199.6 341.7,1200.2 342.4,1196.4 342.4,1200.2 343.2,1199.6 343.9,1196.7 344.7,1198.3 345.4,1196.7 346.2,1198.4 346.9,1194.7 347.7,1195.7 348.4,1197.3 349.2,1197.6 349.9,1193.3 350.7,1195.0 351.4,1195.7 352.2,1194.3 352.9,1197.7 353.7,1195.0 354.4,1197.5 355.2,1196.4 355.9,1200.0 356.7,1198.8 357.1,1198.6 357.4,1196.6 358.2,1200.0 358.9,1198.1 359.7,1197.3 360.4,1197.0 361.2,1195.2 361.9,1193.2 362.7,1192.2 363.3,1191.5 363.4,1194.0 364.2,1190.8 364.9,1192.2 365.7,1192.8 366.4,1193.8 367.2,1194.6 367.9,1192.8 368.7,1192.6 369.4,1195.2 370.2,1197.2 370.9,1197.2 371.7,1197.2 371.9,1196.8 372.4,1198.1 373.2,1198.3 373.9,1200.3 374.7,1199.2 375.4,1201.1 376.2,1201.6 376.9,1203.2 377.7,1203.5 378.4,1207.0 379.2,1206.4 379.3,1206.5 379.9,1202.3 380.7,1204.4 381.4,1204.2 382.2,1205.6 382.9,1202.2 383.7,1206.5 384.4,1206.4 385.2,1203.6 385.9,1204.0 386.7,1204.3 387.4,1205.4 388.2,1206.2 388.9,1208.0 389.7,1205.3 390.4,1206.5 391.2,1205.8 391.6,1207.8 391.9,1206.6 392.7,1207.5 393.4,1204.7 394.2,1206.0 394.9,1205.5 395.7,1208.5 396.4,1207.7 397.2,1206.8 397.9,1206.9 398.7,1208.4 399.4,1207.3 400.2,1207.3 400.9,1209.4 401.7,1212.2 402.4,1209.3 403.2,1209.3 403.9,1208.9 404.0,1208.8 404.7,1211.4 405.4,1212.0 406.2,1211.3 406.9,1211.9 407.7,1211.8 408.4,1212.0 409.2,1210.1 409.9,1211.5 410.7,1212.3 411.4,1211.3 412.2,1211.7 412.9,1211.4 413.7,1212.0 413.8,1213.4 414.4,1211.5 415.2,1211.5 415.9,1212.4 416.7,1211.9 417.4,1212.9 418.2,1208.1 418.9,1211.5 419.7,1209.7 420.4,1210.3 421.2,1211.1 421.9,1211.3 422.7,1211.2 423.4,1210.1 424.2,1211.9 424.9,1209.5 424.9,1209.8 425.7,1211.1 426.4,1209.5 427.2,1212.9 427.9,1211.5 428.7,1212.9 429.4,1210.2 430.2,1209.7 430.9,1210.4 431.7,1211.0 432.4,1209.4 433.2,1210.6 433.9,1210.2 434.7,1212.2 435.4,1209.5 436.2,1211.7 436.9,1209.7 437.2,1209.3 437.7,1209.5 438.4,1208.6 439.2,1210.0 439.9,1210.7 440.7,1209.3 441.4,1209.4 442.2,1210.3 442.9,1208.2 443.7,1207.6 444.4,1206.6 445.2,1204.5 445.9,1207.0 446.7,1203.5 447.4,1206.1 448.2,1204.9 448.9,1206.0 449.7,1204.2 450.4,1202.9 451.2,1204.1 451.9,1202.6 452.3,1203.0 452.7,1202.6 453.4,1201.1 454.2,1199.8 454.9,1197.7 455.7,1197.2 456.4,1193.5 457.2,1194.7 457.9,1192.1 458.7,1193.7 459.4,1192.7 459.7,1188.3 460.2,1190.1 460.9,1188.4 461.7,1186.0 462.4,1186.7 463.2,1184.2 463.9,1181.2 464.7,1181.7 465.4,1180.5 465.9,1180.0 466.2,1178.8 466.9,1182.2 467.7,1183.5 468.4,1182.2 469.2,1183.9 469.9,1185.8 470.7,1186.3 471.4,1190.2 472.0,1189.2 472.2,1187.7 472.9,1188.4 473.7,1189.7 474.4,1193.1 475.2,1190.4 475.9,1191.2 476.7,1192.2 477.4,1191.9 478.2,1195.3 478.9,1192.3 479.7,1194.3 480.4,1194.1 481.2,1195.1 481.9,1193.3 481.9,1197.0 482.7,1195.2 483.4,1196.0 484.2,1195.4 484.9,1196.2 485.7,1198.4 486.4,1199.5 487.2,1199.8 487.9,1201.0 488.7,1201.1 489.3,1200.8 489.4,1202.0 490.2,1202.1 490.9,1201.6 491.7,1203.1 492.4,1204.2 493.2,1203.3 493.9,1202.9 494.7,1204.6 495.4,1206.4 496.2,1204.0 496.9,1204.4 497.7,1204.6 498.4,1206.4 499.2,1202.8 499.9,1205.6 500.7,1206.8 501.4,1204.4 501.6,1207.3 502.2,1206.1 502.9,1204.9 503.7,1205.9 504.4,1203.9 505.2,1205.2 505.9,1208.3 506.7,1205.1 507.4,1208.7 508.2,1206.4 508.9,1207.9 509.7,1206.9 510.4,1204.2 511.2,1206.4 511.9,1207.5 512.7,1205.9 513.5,1205.8 514.2,1208.0 515.0,1206.9 515.7,1205.7 516.4,1207.1 516.5,1208.9 517.2,1206.9 518.0,1208.4 518.7,1208.8 519.5,1206.6 520.2,1204.8 521.0,1204.2 521.7,1205.5 522.5,1206.3 523.2,1205.2 524.0,1205.3 524.7,1203.8 525.5,1204.5 526.2,1203.3 527.0,1203.3 527.7,1202.0 528.5,1201.5 528.7,1202.9 529.2,1202.2 530.0,1202.5 530.7,1204.5 531.5,1203.5 532.2,1207.2 533.0,1204.6 533.7,1202.4 534.5,1204.0 535.2,1203.2 536.0,1201.6 536.7,1203.6 537.5,1201.0 538.2,1197.9 539.0,1202.4 539.7,1200.4 540.5,1202.9 541.2,1200.0 542.0,1199.2 542.7,1202.5 543.4,1199.1 543.5,1200.7 544.2,1202.0 545.0,1200.2 545.7,1199.7 546.5,1199.8 547.2,1200.5 548.0,1198.3 548.7,1199.9 549.5,1199.7 550.2,1201.8 551.0,1198.3 551.7,1197.5 552.5,1199.5 553.2,1198.0 554.0,1198.8 554.7,1198.6 555.5,1199.9 556.2,1197.5 557.0,1198.2 557.7,1195.1 558.2,1197.2 558.5,1200.1 559.2,1196.6 560.0,1195.9 560.7,1194.6 561.5,1196.2 562.2,1195.0 563.0,1192.6 563.7,1194.2 564.5,1193.0 565.2,1192.9 565.6,1190.9 566.0,1192.8 566.7,1188.8 567.5,1185.8 568.2,1182.9 569.0,1180.8 569.7,1179.8 570.5,1176.0 570.5,1177.6 571.2,1179.2 572.0,1182.5 572.7,1184.2 573.5,1185.4 574.2,1185.4 575.0,1190.4 575.5,1192.6 575.7,1192.0 576.5,1193.7 577.2,1193.6 578.0,1194.9 578.7,1195.3 579.5,1199.4 580.2,1199.1 581.0,1199.5 581.6,1199.5 581.7,1200.8 582.5,1202.6 583.2,1201.3 584.0,1199.6 584.7,1202.2 585.5,1202.1 586.2,1201.5 587.0,1201.2 587.7,1201.6 588.5,1200.8 589.2,1201.0 590.0,1199.1 590.7,1202.0 591.5,1200.4 592.2,1202.7 593.0,1197.6 593.7,1201.1 594.5,1201.5 595.2,1199.8 596.0,1200.8 596.7,1201.2 597.5,1200.9 597.6,1199.5 598.2,1200.1 599.0,1201.7 599.7,1202.2 600.5,1200.8 601.2,1201.0 602.0,1201.3 602.7,1202.6 603.5,1200.2 604.2,1200.1 605.0,1202.2 605.7,1200.9 606.5,1201.9 607.2,1203.0 608.0,1203.8 608.7,1202.1 609.5,1204.7 610.2,1201.6 611.0,1204.8 611.7,1202.2 612.5,1202.8 613.2,1205.3 614.0,1204.1 614.7,1203.7 614.9,1204.2 615.5,1205.1 616.2,1204.3 617.0,1204.1 617.7,1205.3 618.5,1202.8 619.2,1203.0 620.0,1202.7 620.7,1204.7 621.5,1204.3 622.2,1204.5 623.0,1202.7 623.7,1202.4 624.5,1203.6 625.2,1201.9 626.0,1203.3 626.7,1203.0 627.5,1201.1 628.2,1201.8 629.0,1201.6 629.7,1203.7 630.5,1204.6 631.2,1201.0 632.0,1200.9 632.1,1197.9 632.7,1200.9 633.5,1200.4 634.2,1198.9 635.0,1201.0 635.7,1197.9 636.5,1199.4 637.2,1199.7 638.0,1197.8 638.7,1200.4 639.5,1200.6 640.2,1197.4 641.0,1197.3 641.7,1199.8 642.5,1199.0 643.2,1197.4 644.0,1198.5 644.7,1198.7 645.5,1198.6 646.2,1199.7 646.9,1199.1 647.0,1200.7 647.7,1199.0 648.5,1197.0 649.2,1196.2 650.0,1195.3 650.7,1193.3 651.5,1189.6 652.2,1191.1 653.0,1188.9 653.7,1189.7 654.5,1186.5 655.2,1185.9 656.0,1184.5 656.7,1185.0 657.5,1179.1 658.2,1174.5 659.0,1171.1 659.7,1166.1 660.4,1163.1 660.5,1162.7 661.2,1160.2 662.0,1159.4 662.7,1153.6 663.5,1151.4 663.6,1150.6 664.2,1153.4 665.0,1153.2 665.7,1156.0 666.5,1159.0 667.2,1161.9 668.0,1163.2 668.7,1164.7 669.0,1165.1 669.5,1167.9 670.2,1171.0 671.0,1171.4 671.7,1173.0 672.5,1175.1 673.2,1175.2 674.0,1177.8 674.7,1179.6 675.5,1182.2 676.2,1183.6 676.5,1182.9 677.0,1185.7 677.7,1186.3 678.5,1183.6 679.2,1184.3 680.0,1184.0 680.7,1184.6 681.5,1181.6 682.2,1185.4 683.0,1182.7 683.7,1184.8 684.5,1183.2 685.2,1182.5 686.0,1182.8 686.3,1184.1 686.7,1182.6 687.5,1184.6 688.2,1185.7 689.0,1185.4 689.7,1190.6 690.5,1190.9 691.2,1191.4 692.0,1192.5 692.7,1189.3 693.5,1190.0 694.2,1191.8 695.0,1190.3 695.7,1185.6 696.5,1183.6 697.2,1186.0 698.0,1188.1 698.7,1185.5 699.5,1185.3 700.2,1185.8 701.0,1183.3 701.0,1184.7 701.7,1185.9 702.5,1186.0 703.2,1186.5 704.0,1185.9 704.7,1187.9 705.5,1187.4 706.2,1190.3 707.0,1192.5 707.7,1188.9 708.5,1187.7 709.2,1190.6 710.0,1192.2 710.7,1193.7 711.0,1194.0 711.5,1191.2 712.2,1190.4 713.0,1192.3 713.7,1188.5 714.5,1190.5 715.2,1188.0 716.0,1188.5 716.7,1187.6 717.5,1186.9 718.2,1186.0 719.0,1182.8 719.7,1183.5 720.5,1182.2 721.2,1181.6 722.0,1181.8 722.7,1178.9 723.2,1177.7 723.5,1177.7 724.2,1178.7 725.0,1180.5 725.7,1179.0 726.5,1182.1 727.2,1181.5 728.0,1181.4 728.7,1180.6 729.5,1183.2 730.2,1184.4 731.0,1181.8 731.7,1186.1 732.5,1187.2 733.2,1186.0 734.0,1186.7 734.7,1189.6 735.5,1188.5 736.2,1186.2 737.0,1187.7 737.7,1187.9 738.0,1188.0 738.5,1184.6 739.2,1187.9 740.0,1185.4 740.7,1185.8 741.5,1184.7 742.2,1185.4 743.0,1183.3 743.7,1182.1 744.5,1183.3 745.2,1183.9 746.0,1181.2 746.7,1182.8 747.5,1180.8 748.2,1179.2 749.0,1181.3 749.7,1177.7 750.3,1179.5 750.5,1177.4 751.2,1178.3 752.0,1175.8 752.7,1176.0 753.5,1178.1 754.2,1176.6 755.0,1176.1 755.7,1175.2 756.5,1176.0 757.2,1173.4 758.0,1173.5 758.7,1174.5 759.5,1173.5 760.2,1173.5 761.0,1174.2 761.7,1174.0 762.5,1173.8 762.7,1176.3 763.2,1173.2 764.0,1170.1 764.7,1164.9 765.5,1160.8 766.2,1156.0 767.0,1153.8 767.6,1148.4 767.7,1149.7 768.5,1146.7 769.2,1143.1 770.0,1137.5 770.0,1134.7 770.7,1137.3 771.5,1136.6 772.2,1139.7 773.0,1139.4 773.7,1141.7 774.5,1145.0 775.0,1143.7 775.2,1147.0 776.0,1149.7 776.7,1154.7 777.5,1162.5 778.2,1168.7 778.7,1169.6 779.0,1170.8 779.7,1169.6 780.5,1171.9 781.2,1174.1 782.0,1173.6 782.7,1173.7 783.5,1173.3 784.2,1176.2 785.0,1177.4 785.7,1177.6 786.5,1177.6 787.2,1176.0 787.3,1179.9 788.0,1176.8 788.7,1175.9 789.5,1176.1 790.2,1171.5 791.0,1173.4 791.7,1172.4 792.5,1172.3 793.2,1172.8 794.0,1171.0 794.7,1167.3 795.5,1169.1 796.2,1169.7 797.0,1169.6 797.7,1167.7 798.5,1167.2 799.2,1170.1 800.0,1169.8 800.7,1169.2 801.5,1166.9 802.2,1171.3 803.0,1165.0 803.7,1168.1 804.5,1171.0 805.2,1167.7 806.0,1167.9 806.7,1165.7 807.5,1168.6 808.2,1164.8 809.0,1166.5 809.5,1166.2 809.7,1164.5 810.5,1166.7 811.2,1163.4 812.0,1164.0 812.7,1164.6 813.5,1163.8 814.2,1164.7 815.0,1165.0 815.7,1163.1 816.5,1162.5 817.2,1162.2 818.0,1162.1 818.7,1163.3 819.5,1161.7 820.2,1162.2 821.0,1161.3 821.7,1160.1 821.8,1162.4 822.5,1160.1 823.2,1161.6 824.0,1163.8 824.7,1160.6 825.5,1162.2 826.2,1160.3 827.0,1161.9 827.7,1160.7 828.5,1162.3 829.2,1162.1 830.0,1163.1 830.7,1165.0 831.5,1163.3 832.2,1163.9 833.0,1163.0 833.7,1162.8 834.5,1162.1 835.2,1160.9 836.0,1163.4 836.7,1165.5 837.5,1164.1 838.2,1162.9 839.0,1165.8 839.7,1163.2 840.0,1163.0 840.5,1161.6 841.2,1160.9 842.0,1160.8 842.7,1162.7 843.5,1158.7 844.2,1156.6 845.0,1156.0 845.7,1155.4 846.5,1152.4 847.2,1153.7 848.0,1153.3 848.7,1151.7 849.5,1151.0 849.9,1147.9 850.2,1147.4 851.0,1151.6 851.7,1151.6 852.5,1148.5 853.2,1151.0 854.0,1151.1 854.7,1152.1 855.5,1152.0 856.2,1151.4 857.0,1152.6 857.7,1152.9 858.5,1152.9 859.2,1150.8 859.7,1149.5 860.0,1152.3 860.7,1150.7 861.5,1152.6 862.2,1152.8 863.0,1151.7 863.7,1150.4 864.5,1150.5 865.2,1151.5 866.0,1148.6 866.7,1150.3 867.5,1149.7 868.2,1148.8 869.0,1150.0 869.7,1146.8 870.5,1148.7 871.2,1145.9 872.0,1145.8 872.7,1145.1 873.5,1146.7 874.2,1144.4 874.5,1145.5 875.0,1143.7 875.7,1146.3 876.5,1146.9 877.2,1144.4 878.0,1145.8 878.7,1143.9 879.5,1145.7 880.2,1142.5 881.0,1140.0 881.7,1143.6 882.5,1141.2 883.2,1139.7 884.0,1139.9 884.7,1138.3 885.5,1139.9 886.2,1138.3 887.0,1141.4 887.7,1139.9 888.5,1136.5 889.2,1136.3 889.3,1137.4 890.0,1135.1 890.7,1136.9 891.5,1136.5 892.2,1135.0 893.0,1134.8 893.7,1135.7 894.5,1136.5 895.2,1136.1 896.0,1133.7 896.7,1134.4 897.5,1131.8 898.2,1132.8 899.0,1130.5 899.7,1132.1 900.5,1129.0 901.2,1128.8 901.6,1129.7 902.0,1130.2 902.7,1127.0 903.5,1127.7 904.2,1128.1 905.0,1127.8 905.7,1126.0 906.5,1126.9 907.2,1126.1 908.0,1128.0 908.7,1126.5 909.5,1123.7 910.2,1122.2 911.0,1124.8 911.7,1125.9 912.5,1124.2 913.2,1124.7 913.9,1122.6 914.0,1121.4 914.7,1122.0 915.5,1119.0 916.2,1117.7 917.0,1112.8 917.7,1112.8 918.5,1109.5 919.2,1109.3 920.0,1105.3 920.7,1103.0 921.3,1101.2 921.5,1103.2 922.2,1099.4 923.0,1096.1 923.7,1093.6 924.5,1091.4 925.2,1092.5 926.0,1086.0 926.7,1085.1 927.4,1085.1 927.5,1085.6 928.2,1080.1 929.0,1077.7 929.7,1074.0 929.9,1073.4 930.5,1074.4 931.2,1079.6 932.0,1080.8 932.7,1085.6 933.5,1085.2 934.2,1091.1 934.8,1090.6 935.0,1090.7 935.7,1094.7 936.5,1094.2 937.2,1097.3 938.0,1096.5 938.7,1101.4 939.5,1100.5 940.2,1100.2 941.0,1103.2 941.7,1105.4 942.5,1104.4 943.2,1107.4 943.4,1109.8 944.0,1108.7 944.7,1108.2 945.5,1108.1 946.2,1110.3 947.0,1108.2 947.7,1106.8 948.5,1110.6 949.2,1110.7 950.0,1115.0 950.7,1113.5 950.8,1112.0 951.5,1110.9 952.2,1112.2 953.0,1109.5 953.7,1108.9 954.5,1108.7 955.2,1108.1 956.0,1107.3 956.7,1106.5 957.5,1107.3 958.2,1107.1 959.0,1101.9 959.7,1106.8 960.5,1102.7 960.7,1104.0 961.2,1100.9 962.0,1101.6 962.7,1100.7 963.5,1099.8 964.2,1099.9 965.0,1098.8 965.7,1095.8 966.5,1096.2 967.2,1096.5 968.0,1095.6 968.7,1093.5 969.5,1092.7 970.2,1092.1 970.5,1090.4 971.0,1089.3 971.7,1091.5 972.5,1087.4 973.2,1086.5 974.0,1083.9 974.7,1085.1 975.5,1084.2 976.2,1080.1 977.0,1079.7 977.7,1076.5 977.9,1079.6 978.5,1078.1 979.2,1075.3 980.0,1077.6 980.7,1075.8 981.5,1075.4 982.2,1074.7 983.0,1072.7 983.7,1072.3 984.5,1073.3 985.2,1071.8 986.0,1070.0 986.7,1073.4 987.5,1069.8 987.8,1069.0 988.2,1068.5 989.0,1069.6 989.7,1069.3 990.5,1067.6 991.2,1067.7 992.0,1063.8 992.7,1064.5 993.5,1063.6 994.2,1063.5 995.0,1063.3 995.2,1059.6 995.7,1066.8 996.5,1061.9 997.2,1064.0 998.0,1065.2 998.7,1065.8 999.5,1065.5 1000.2,1061.9 1001.0,1065.0 1001.7,1068.2 1002.5,1066.6 1002.6,1066.7 1003.2,1064.4 1004.0,1068.5 1004.7,1066.7 1005.5,1064.0 1006.2,1064.2 1007.0,1063.4 1007.7,1061.1 1008.5,1061.3 1009.2,1061.0 1010.0,1060.4 1010.7,1060.4 1011.5,1057.7 1012.2,1056.0 1012.4,1056.8 1013.0,1053.3 1013.7,1049.8 1014.5,1050.2 1015.2,1045.5 1016.0,1043.4 1016.7,1041.4 1017.3,1036.8 1017.5,1039.0 1018.2,1037.9 1019.0,1036.4 1019.7,1036.2 1020.5,1033.9 1021.2,1031.1 1022.0,1032.8 1022.7,1031.1 1023.5,1032.6 1024.2,1030.9 1025.0,1028.9 1025.7,1028.8 1026.5,1029.6 1027.2,1028.4 1028.0,1026.7 1028.7,1026.1 1029.5,1024.5 1030.2,1024.1 1031.0,1024.5 1031.7,1023.0 1032.5,1023.0 1033.2,1020.6 1034.0,1019.4 1034.7,1018.9 1035.5,1020.1 1036.2,1022.0 1037.0,1021.3 1037.0,1018.4 1037.7,1016.0 1038.5,1017.5 1039.2,1015.3 1040.0,1011.1 1040.7,1012.7 1041.5,1009.7 1042.2,1009.5 1043.0,1006.4 1043.7,1005.4 1044.4,1003.0 1044.5,1001.2 1045.2,1001.8 1046.0,1000.8 1046.7,1002.4 1047.5,999.6 1048.2,998.5 1049.0,1001.1 1049.7,1001.4 1050.5,1001.5 1051.2,1000.7 1052.0,996.8 1052.7,997.5 1053.5,997.3 1054.2,997.6 1055.0,994.3 1055.7,996.7 1056.5,996.6 1056.7,994.7 1057.2,995.5 1058.0,995.9 1058.7,993.3 1059.5,993.7 1060.2,992.6 1061.0,990.9 1061.7,989.9 1062.5,988.0 1063.2,989.3 1064.0,986.1 1064.7,985.0 1065.5,986.1 1066.2,983.4 1066.6,984.6 1067.0,984.4 1067.7,980.6 1068.5,978.0 1069.2,976.6 1070.0,973.7 1070.7,968.0 1071.5,965.6 1072.2,966.5 1072.8,963.1 1073.0,959.4 1073.7,959.3 1074.5,960.0 1075.2,957.5 1076.0,958.3 1076.5,956.9 1076.7,957.9 1077.5,957.9 1078.2,962.7 1079.0,966.8 1079.7,965.5 1080.5,970.7 1081.2,972.8 1082.0,974.8 1082.6,976.1 1082.7,974.5 1083.5,973.2 1084.2,973.8 1085.0,972.5 1085.7,971.1 1086.5,969.1 1087.2,967.2 1088.0,963.6 1088.7,960.7 1088.8,962.2 1089.5,961.6 1090.2,960.0 1091.0,956.7 1091.7,956.9 1092.5,954.5 1093.2,955.6 1094.0,952.9 1094.7,953.1 1095.5,952.7 1096.2,951.5 1097.0,952.1 1097.7,947.8 1098.5,945.3 1099.2,948.6 1100.0,948.2 1100.7,947.2 1101.1,945.0 1101.5,944.2 1102.2,941.3 1103.0,937.1 1103.7,935.8 1104.5,935.0 1105.2,931.4 1106.0,932.6 1106.0,927.8 1106.7,928.5 1107.5,929.7 1108.2,926.5 1109.0,925.0 1109.7,923.8 1110.5,923.8 1111.2,925.9 1112.0,923.5 1112.7,922.8 1113.4,920.5 1113.5,922.1 1114.2,917.8 1115.0,912.9 1115.7,910.2 1116.5,907.6 1117.2,905.5 1118.0,900.4 1118.3,899.6 1118.7,900.9 1119.5,895.6 1120.2,893.6 1121.0,895.3 1121.7,893.2 1122.5,891.1 1123.2,890.2 1124.0,888.1 1124.7,887.9 1125.5,885.4 1125.7,886.5 1126.2,884.4 1127.0,885.7 1127.7,887.7 1128.5,887.7 1129.2,890.0 1130.0,889.7 1130.7,889.7 1131.5,891.4 1132.2,891.1 1133.0,890.4 1133.1,891.0 1133.7,890.8 1134.5,890.5 1135.2,890.5 1136.0,890.8 1136.7,889.5 1137.5,890.4 1138.2,889.0 1139.0,886.3 1139.7,888.1 1140.5,886.8 1141.2,883.8 1142.0,884.2 1142.7,884.6 1143.5,882.8 1144.2,883.2 1145.0,881.7 1145.4,881.7 1145.7,879.2 1146.5,877.2 1147.2,873.2 1148.0,871.6 1148.7,865.4 1149.5,865.1 1150.2,863.3 1151.0,859.3 1151.7,855.3 1152.5,853.0 1153.2,847.9 1154.0,844.7 1154.7,842.2 1155.5,839.4 1156.2,837.7 1157.0,832.0 1157.7,831.5 1158.0,826.7 1158.5,825.9 1159.2,824.0 1160.0,822.7 1160.7,817.3 1161.5,812.3 1162.2,812.9 1163.0,809.4 1163.7,805.1 1164.5,802.3 1165.2,799.9 1166.0,798.2 1166.7,796.2 1167.5,790.4 1168.2,792.8 1169.0,786.8 1169.7,783.6 1170.5,782.3 1171.0,779.5 1171.2,782.1 1172.0,778.7 1172.7,775.0 1173.5,773.2 1174.2,771.3 1175.0,769.7 1175.7,769.3 1176.5,765.7 1177.2,767.1 1178.0,762.9 1178.7,761.0 1179.5,760.8 1180.2,754.9 1180.8,754.9 1181.0,756.9 1181.7,755.2 1182.5,754.2 1183.2,753.9 1184.0,751.7 1184.7,751.4 1185.5,748.9 1186.2,747.3 1187.0,750.8 1187.7,746.9 1188.5,746.3 1189.2,748.3 1190.0,747.0 1190.7,743.9 1191.5,741.0 1192.2,738.6 1193.0,734.4 1193.7,733.5 1194.5,730.0 1195.2,727.0 1195.6,726.3 1196.0,723.6 1196.7,719.5 1197.5,713.4 1198.2,703.2 1199.0,701.1 1199.7,692.6 1200.5,686.4 1200.5,688.9 1201.2,683.3 1202.0,679.9 1202.7,677.9 1203.5,671.6 1204.2,667.4 1205.0,665.2 1205.7,662.6 1206.5,657.8 1206.7,653.7 1207.2,656.6 1208.0,659.8 1208.7,665.1 1209.5,666.1 1210.2,668.5 1211.0,671.4 1211.7,671.8 1212.5,675.3 1212.9,676.8 1213.2,676.1 1214.0,680.8 1214.7,685.0 1215.5,686.0 1216.2,692.0 1217.0,695.3 1217.7,699.0 1218.5,699.8 1219.0,703.4 1219.2,704.9 1220.0,702.9 1220.7,699.5 1221.5,699.8 1222.2,700.3 1223.0,697.1 1223.7,696.6 1224.5,698.5 1225.2,693.8 1226.0,692.7 1226.7,690.4 1227.5,689.9 1227.6,692.8 1228.2,689.7 1229.0,687.3 1229.7,686.7 1230.5,687.0 1231.2,687.0 1232.0,683.9 1232.7,684.9 1233.5,682.1 1234.2,682.2 1235.0,681.3 1235.7,680.2 1236.5,677.6 1237.2,676.7 1237.5,677.1 1238.0,673.6 1238.7,674.2 1239.5,673.1 1240.2,672.3 1241.0,669.3 1241.7,667.6 1242.5,666.5 1243.2,663.8 1244.0,663.0 1244.7,662.4 1245.5,660.8 1246.2,657.5 1247.0,657.2 1247.3,654.1 1247.7,656.7 1248.5,652.0 1249.2,650.2 1250.0,645.6 1250.7,644.2 1251.5,642.2 1252.2,640.2 1252.3,636.7 1253.0,638.0 1253.7,634.6 1254.5,631.6 1255.2,631.2 1256.0,628.0 1256.7,625.8 1257.5,623.0 1258.2,622.0 1259.0,619.5 1259.7,616.9 1260.5,611.6 1261.2,608.0 1262.0,605.0 1262.7,602.0 1263.5,596.0 1264.2,593.8 1264.6,589.6 1265.0,588.7 1265.7,592.3 1266.5,591.4 1267.2,594.6 1268.0,596.9 1268.7,596.2 1269.5,597.8 1270.2,602.7 1271.0,600.8 1271.7,602.0 1272.0,603.2 1272.5,600.5 1273.2,598.1 1274.0,596.3 1274.7,590.0 1275.5,592.9 1276.2,587.0 1277.0,584.6 1277.7,584.5 1278.5,581.4 1279.2,577.3 1279.4,578.7 1280.0,575.7 1280.7,574.9 1281.5,572.3 1282.2,571.8 1283.0,572.2 1283.7,570.4 1284.5,569.2 1285.2,568.7 1285.5,566.8 1286.0,562.4 1286.7,557.0 1287.5,553.8 1288.2,545.5 1289.0,539.9 1289.2,537.3 1289.7,534.3 1290.5,529.3 1291.2,523.4 1292.0,517.9 1292.7,511.8 1293.5,506.5 1294.1,503.8 1294.2,503.4 1295.0,496.4 1295.7,487.8 1296.5,479.3 1297.2,474.1 1298.0,466.8 1298.4,459.3 1298.7,461.6 1299.5,458.4 1300.2,457.1 1301.0,450.1 1301.7,447.0 1302.5,447.2 1303.2,440.4 1304.0,439.2 1304.7,435.8 1305.2,434.0 1305.5,433.1 1306.2,436.7 1307.0,439.7 1307.7,440.1 1308.5,441.2 1309.2,441.1 1310.0,444.9 1310.7,444.6 1311.5,446.4 1312.2,443.5 1312.5,446.7 1313.0,444.7 1313.7,447.4 1314.5,447.6 1315.2,446.0 1316.0,448.5 1316.7,450.5 1317.5,450.0 1318.0,450.5 1318.2,446.8 1319.0,441.7 1319.7,435.6 1320.5,432.1 1321.2,428.4 1322.0,421.8 1322.7,415.7 1323.5,408.5 1323.6,409.9 1324.2,407.1 1325.0,402.3 1325.7,400.5 1326.5,400.6 1327.2,397.6 1328.0,399.6 1328.7,394.9 1329.5,391.1 1330.2,389.9 1331.0,391.1 1331.0,386.9 1331.7,392.3 1332.5,394.5 1333.2,398.9 1334.0,400.2 1334.7,401.4 1335.5,405.6 1336.2,407.6 1337.0,411.8 1337.7,412.9 1338.3,418.4 1338.5,414.5 1339.2,412.9 1340.0,408.6 1340.7,407.4 1341.5,404.8 1342.2,402.7 1343.0,401.5 1343.7,396.7 1343.9,395.7 1344.5,391.6 1345.2,379.4 1346.0,368.8 1346.7,361.9 1347.5,351.3 1347.6,343.8 1348.2,354.2 1349.0,364.4 1349.7,372.7 1350.5,378.7 1351.2,390.4 1352.0,394.6 1352.2,398.3 1352.7,400.8 1353.5,403.3 1354.2,407.4 1355.0,410.6 1355.7,411.5 1356.5,416.7 1356.8,414.5 1357.2,416.0 1358.0,420.5 1358.7,419.0 1359.5,421.9 1360.2,420.5 1361.0,422.0 1361.7,423.4 1362.5,424.9 1363.2,425.2 1363.3,425.8 1364.0,421.8 1364.7,417.0 1365.5,409.3 1366.2,404.5 1367.0,399.3 1367.0,395.4 1367.7,393.6 1368.5,398.3 1369.2,396.9 1370.0,393.9 1370.7,393.6 1371.5,390.5 1372.2,388.8 1373.0,391.0 1373.4,387.3 1373.7,390.7 1374.5,386.0 1375.2,385.7 1376.0,386.7 1376.7,384.7 1377.5,378.9 1378.2,379.4 1379.0,373.8 1379.7,372.7 1379.9,374.0 1380.5,370.5 1381.2,359.7 1382.0,354.3 1382.7,346.2 1383.5,336.4 1384.2,331.1 1384.5,331.2 1385.0,327.1 1385.7,325.9 1386.5,324.3 1387.2,319.2 1388.0,320.4 1388.2,320.0 1388.7,322.0 1389.5,324.2 1390.2,323.7 1391.0,326.2 1391.7,328.5 1392.5,331.0 1393.2,333.8 1393.8,339.2 1394.0,338.9 1394.7,330.3 1395.5,328.2 1396.2,319.7 1397.0,316.8 1397.7,311.0 1398.5,305.3 1399.2,304.0 1399.3,303.6 1400.0,303.5 1400.7,304.3 1401.5,304.4 1402.2,307.0 1403.0,307.2 1403.7,309.8 1404.5,308.0 1405.2,311.7 1406.0,313.1 1406.7,315.4 1407.5,310.8 1408.2,304.9 1409.0,299.0 1409.7,292.5 1410.5,291.7 1411.2,290.1 1412.0,286.2 1412.2,276.6 1412.7,278.4 1413.5,276.7 1414.2,272.8 1415.0,272.7 1415.7,270.0 1416.5,266.5 1417.2,265.0 1417.8,260.1 1418.0,259.9 1418.7,252.6 1419.5,248.7 1420.2,236.3 1421.0,231.6 1421.5,228.0 1421.7,225.8 1422.5,225.3 1423.2,220.3 1424.0,220.3 1424.2,220.4 1424.7,228.9 1425.5,234.8 1426.2,245.1 1427.0,251.2 1427.7,260.4 1427.9,265.8 1428.5,268.9 1429.2,277.3 1430.0,282.8 1430.7,292.6 1431.5,300.3 1432.2,300.0 1433.0,313.2 1433.5,314.8 1433.7,314.6 1434.5,311.7 1435.2,312.4 1436.0,305.9 1436.7,305.3 1437.5,303.5 1438.1,305.2 1438.2,306.6 1439.0,303.0 1439.7,298.8 1440.5,292.6 1441.2,285.5 1442.0,289.8 1442.7,285.9 1443.5,283.6 1443.6,287.0 1444.2,282.4 1445.0,284.0 1445.7,277.4 1446.5,290.5 1447.2,289.8 1448.0,288.6 1448.7,295.1 1449.5,290.5 1450.2,294.4 1451.0,307.3 1451.0,302.0 1451.7,300.6 1452.5,297.6 1453.2,294.8 1454.0,290.5 1454.7,297.7 1455.5,284.8 1456.2,286.2 1456.6,280.8 1457.0,280.6 1457.7,272.2 1458.5,275.5 1459.2,292.1 1460.0,292.8 1460.7,285.0 1461.5,287.8 1462.2,291.6 1463.0,285.3 1463.7,298.6 1464.0,286.3 1464.5,285.4 1465.2,272.4 1466.0,287.8 1466.7,277.5 1467.5,280.7 1468.2,265.2 1469.0,267.4 1469.5,263.6 1469.7,263.9 1470.5,271.2 1471.2,270.9 1472.0,265.8 1472.7,256.6 1473.5,261.2 1474.2,262.1 1475.0,257.3 1475.7,256.2 1476.5,254.5 1477.2,247.1 1478.0,251.0 1478.7,255.9 1479.5,244.0 1480.2,248.6 1481.0,251.8 1481.7,241.7 1482.5,247.0 1483.2,239.8 1484.0,244.5 1484.7,240.7 1485.5,242.7 1486.2,244.3 1487.0,244.9 1487.7,244.8 1488.0,234.7 1488.5,252.7 1489.2,244.4 1490.0,240.8 1490.7,243.0 1491.5,247.3 1492.2,241.6 1493.0,244.4 1493.7,244.3 1494.5,249.1 1495.2,243.5 1496.0,249.2 1496.7,249.1 1497.2,247.1 1497.5,253.6 1498.2,248.4 1499.0,243.4 1499.7,250.4 1500.5,250.0 1501.2,249.6 1502.0,251.2 1502.7,261.1 1503.5,251.9 1504.2,253.3 1505.0,250.4 1505.7,257.7 1506.5,251.8 1507.2,248.7 1508.0,247.1 1508.3,255.1 1508.7,256.4 1509.5,246.5 1510.2,251.0 1511.0,257.7 1511.7,260.1 1512.5,250.1 1513.2,254.8 1514.0,261.0 1514.7,255.4 1515.5,256.4 1516.2,256.5 1517.0,253.6 1517.5,260.1 1517.7,261.4 1518.5,254.5 1519.2,261.9 1520.0,267.2 1520.7,263.9 1521.5,268.0 1522.2,262.0 1523.0,271.4 1523.7,262.5 1524.5,275.4 1524.9,265.3 1525.2,263.8 1526.0,262.0 1526.7,263.2 1527.5,261.8 1528.2,260.0 1529.0,260.6 1529.7,264.1 1530.5,264.1 1530.5,258.5 1531.2,266.8 1532.0,258.1 1532.7,259.3 1533.5,260.1 1534.2,269.3 1535.0,261.0 1535.7,263.0 1536.5,276.5 1537.2,279.8 1537.9,279.5 1538.0,266.9 1538.7,274.4 1539.5,278.8 1540.2,276.2 1541.0,269.2 1541.7,275.6 1542.5,270.1 1543.2,272.8 1544.0,288.5 1544.7,282.5 1545.2,273.1 1545.5,272.7 1546.2,280.9 1547.0,275.4 1547.7,280.1 1548.5,274.0 1549.2,275.4 1550.0,276.7 1550.7,270.4 1551.5,265.8 1552.2,268.4 1552.6,270.3 1553.0,272.8 1553.7,274.1 1554.5,274.6 1555.2,277.9 1556.0,272.2 1556.7,283.1 1557.5,286.4 1558.2,279.7 1559.0,279.6 1559.7,285.1 1560.5,283.1 1561.2,281.7 1561.9,280.9 1562.0,278.4 1562.7,277.2 1563.5,286.0 1564.2,289.0 1565.0,279.9 1565.7,284.8 1566.5,286.7 1567.2,284.5 1568.0,283.7 1568.7,285.9 1569.5,279.8 1570.2,288.4 1571.0,288.0 1571.7,298.5 1572.5,294.2 1573.2,289.5 1574.0,291.4 1574.7,298.8 1575.5,298.8 1576.2,293.7 1577.0,293.0 1577.7,288.5 1578.5,293.5 1579.2,294.8 1580.0,293.3 1580.7,303.4 1581.5,290.5 1582.2,297.8 1583.0,300.6 1583.7,301.5 1584.5,306.8 1585.2,296.3 1586.0,299.4 1586.4,303.0 1586.7,303.6 1587.5,302.7 1588.2,302.3 1589.0,309.8 1589.7,303.3 1590.5,305.9 1591.2,313.8 1592.0,315.7 1592.7,313.7 1593.5,308.7 1594.2,309.7 1595.0,310.5 1595.7,310.7 1596.5,314.1 1597.2,320.5 1598.0,318.0 1598.7,315.8 1599.5,316.6 1599.7,315.6 1600.2,324.5 1601.0,316.3 1601.7,325.5 1602.5,322.2 1603.2,325.4 1604.0,326.1 1604.7,335.5 1605.5,334.4 1606.2,344.8 1607.0,335.7 1607.7,337.7 1608.5,344.7 1608.5,344.8 1609.2,343.4 1610.0,339.5 1610.7,350.3 1611.5,348.8 1612.2,349.4 1613.0,347.6 1613.7,351.9 1614.5,349.6 1615.2,352.1 1616.0,352.3 1616.7,356.9 1617.5,353.1 1618.2,354.2 1619.0,358.7 1619.5,357.0 1619.7,356.9 1620.5,358.3 1621.2,363.2 1622.0,361.2 1622.7,366.1 1623.5,372.0 1624.2,370.0 1625.0,369.1 1625.7,370.2 1626.1,374.6 1626.5,371.8 1627.2,372.3 1628.0,375.6 1628.7,376.1 1629.5,382.2 1630.2,377.7 1631.0,386.3 1631.7,381.8 1632.5,385.1 1633.2,387.6 1634.0,387.7 1634.7,390.1 1635.5,387.1 1636.2,385.2 1637.0,391.6 1637.1,388.2 1637.7,391.8 1638.5,396.7 1639.2,395.0 1640.0,395.2 1640.7,395.1 1641.5,398.3 1642.2,399.8 1643.0,397.6 1643.7,403.5 1644.5,401.4 1645.2,405.8 1646.0,405.4 1646.7,410.2 1647.5,411.1 1648.1,410.2 1648.2,410.2 1649.0,412.2 1649.7,415.2 1650.5,415.0 1651.2,413.5 1652.0,414.4 1652.7,417.9 1653.5,410.7 1654.2,416.4 1655.0,413.4 1655.7,419.3 1656.5,415.4 1657.2,416.8 1658.0,415.0 1658.7,418.2 1659.2,420.5 1659.5,422.9 1660.2,416.8 1661.0,419.7 1661.7,431.0 1662.5,424.7 1663.2,423.3 1664.0,425.4 1664.7,418.6 1665.5,429.5 1666.2,426.8 1667.0,423.7 1667.7,430.7 1668.5,427.2 1669.2,427.0 1670.0,431.6 1670.2,431.5 1670.7,430.0 1671.5,431.7 1672.2,429.4 1673.0,430.0 1673.7,436.3 1674.5,438.0 1675.2,436.7 1676.0,437.4 1676.7,436.3 1677.5,437.7 1678.2,436.6 1679.0,443.6 1679.7,439.0 1680.5,442.0 1681.2,441.9 1682.0,439.4 1682.7,448.0 1683.4,443.4 1683.5,442.7 1684.2,446.4 1685.0,445.7 1685.7,449.6 1686.5,449.0 1687.2,454.2 1688.0,454.7 1688.7,453.0 1689.5,460.2 1690.0,459.5 1690.2,457.1 1691.0,462.5 1691.7,464.7 1692.5,470.0 1693.2,465.6 1694.0,471.5 1694.7,471.2 1695.5,474.7 1696.2,474.6 1696.6,476.0 1697.0,478.2 1697.7,476.5 1698.5,476.5 1699.2,483.5 1700.0,484.7 1700.7,488.2 1701.5,491.7 1702.2,492.0 1703.0,497.5 1703.2,495.5 1703.7,496.8 1704.5,499.8 1705.2,500.6 1706.0,500.4 1706.7,502.2 1707.5,501.6 1708.2,503.3 1709.0,506.2 1709.7,509.2 1710.5,507.8 1711.2,512.0 1712.0,515.9 1712.0,516.5 1712.7,513.4 1713.5,517.4 1714.2,518.1 1715.0,520.2 1715.7,521.9 1716.5,522.8 1717.2,525.1 1718.0,525.3 1718.7,525.8 1719.5,528.5 1720.2,530.6 1720.9,533.7 1721.0,531.7 1721.7,533.4 1722.5,535.8 1723.2,531.5 1724.0,533.9 1724.7,536.6 1725.5,536.5 1726.2,535.1 1727.0,540.5 1727.7,539.1 1728.5,538.1 1729.2,545.4 1730.0,539.3 1730.7,543.0 1731.5,542.4 1731.9,544.6 1732.2,545.9 1733.0,543.9 1733.7,546.5 1734.5,547.4 1735.2,546.5 1736.0,552.2 1736.7,551.0 1737.5,550.9 1738.2,551.0 1739.0,552.7 1739.7,554.7 1740.5,554.5 1740.7,558.5 1741.2,550.8 1742.0,552.5 1742.7,557.4 1743.5,554.8 1744.2,559.6 1745.0,559.2 1745.7,562.8 1746.5,563.4 1747.2,566.2 1748.0,566.2 1748.7,567.8 1749.5,567.1 1750.2,569.0 1751.0,568.6 1751.7,567.0 1752.5,566.9 1753.2,568.3 1754.0,573.2 1754.7,568.4 1755.5,575.2 1756.2,574.5 1757.0,578.9 1757.7,579.1 1758.5,578.4 1759.2,581.4 1760.0,577.9 1760.5,584.3 1760.7,585.0 1761.5,581.3 1762.2,588.0 1763.0,587.1 1763.7,588.8 1764.5,586.5 1765.2,591.8 1766.0,592.8 1766.7,592.6 1767.5,591.6 1768.2,596.3 1769.0,598.3 1769.7,597.6 1770.5,599.9 1771.2,597.6 1771.5,599.6 1772.0,601.6 1772.7,603.9 1773.5,612.1 1774.2,609.8 1775.0,610.4 1775.7,615.9 1776.5,614.5 1777.2,620.1 1778.0,623.6 1778.2,621.8 1778.7,624.0 1779.5,625.6 1780.2,630.7 1781.0,631.9 1781.7,639.8 1782.5,640.5 1783.2,641.6 1784.0,642.1 1784.7,652.1 1784.8,650.9 1785.5,651.4 1786.2,653.3 1787.0,655.7 1787.7,656.9 1788.5,664.2 1789.2,663.3 1790.0,662.6 1790.7,666.8 1791.4,665.3 1791.5,672.1 1792.2,674.5 1793.0,678.7 1793.7,681.5 1794.5,677.9 1795.2,682.5 1796.0,685.7 1796.7,687.4 1797.5,686.8 1798.0,691.0 1798.2,691.8 1799.0,698.8 1799.7,701.3 1800.2,704.4" fill="none" stroke="#00dc00" stroke-width="9" stroke-linejoin="round" stroke-linecap="butt"/>
<line x1="303.6" y1="60" x2="303.6" y2="1276.2" stroke="#000" stroke-width="7.6"/>
<line x1="279.5" y1="1272.4" x2="1806.3" y2="1272.4" stroke="#000" stroke-width="7.6"/>
<line x1="279.5" y1="1272.4" x2="303" y2="1272.4" stroke="#000" stroke-width="7.6"/>
<text transform="translate(262.8,1291.30) scale(0.6327,0.659)" font-size="100" text-anchor="end">0</text>
<line x1="292" y1="1208.8" x2="303" y2="1208.8" stroke="#000" stroke-width="7.6"/>
<line x1="279.5" y1="1145.2" x2="303" y2="1145.2" stroke="#000" stroke-width="7.6"/>
<text transform="translate(262.8,1164.11) scale(0.6327,0.659)" font-size="100" text-anchor="end">1000</text>
<line x1="292" y1="1081.6" x2="303" y2="1081.6" stroke="#000" stroke-width="7.6"/>
<line x1="279.5" y1="1018.0" x2="303" y2="1018.0" stroke="#000" stroke-width="7.6"/>
<text transform="translate(262.8,1036.92) scale(0.6327,0.659)" font-size="100" text-anchor="end">2000</text>
<line x1="292" y1="954.4" x2="303" y2="954.4" stroke="#000" stroke-width="7.6"/>
<line x1="279.5" y1="890.8" x2="303" y2="890.8" stroke="#000" stroke-width="7.6"/>
<text transform="translate(262.8,909.73) scale(0.6327,0.659)" font-size="100" text-anchor="end">3000</text>
<line x1="292" y1="827.2" x2="303" y2="827.2" stroke="#000" stroke-width="7.6"/>
<line x1="279.5" y1="763.6" x2="303" y2="763.6" stroke="#000" stroke-width="7.6"/>
<text transform="translate(262.8,782.54) scale(0.6327,0.659)" font-size="100" text-anchor="end">4000</text>
<line x1="292" y1="700.0" x2="303" y2="700.0" stroke="#000" stroke-width="7.6"/>
<line x1="279.5" y1="636.5" x2="303" y2="636.5" stroke="#000" stroke-width="7.6"/>
<text transform="translate(262.8,655.35) scale(0.6327,0.659)" font-size="100" text-anchor="end">5000</text>
<line x1="292" y1="572.9" x2="303" y2="572.9" stroke="#000" stroke-width="7.6"/>
<line x1="279.5" y1="509.3" x2="303" y2="509.3" stroke="#000" stroke-width="7.6"/>
<text transform="translate(262.8,528.16) scale(0.6327,0.659)" font-size="100" text-anchor="end">6000</text>
<line x1="292" y1="445.7" x2="303" y2="445.7" stroke="#000" stroke-width="7.6"/>
<line x1="279.5" y1="382.1" x2="303" y2="382.1" stroke="#000" stroke-width="7.6"/>
<text transform="translate(262.8,400.97) scale(0.6327,0.659)" font-size="100" text-anchor="end">7000</text>
<line x1="292" y1="318.5" x2="303" y2="318.5" stroke="#000" stroke-width="7.6"/>
<line x1="279.5" y1="254.9" x2="303" y2="254.9" stroke="#000" stroke-width="7.6"/>
<text transform="translate(262.8,273.78) scale(0.6327,0.659)" font-size="100" text-anchor="end">8000</text>
<line x1="292" y1="191.3" x2="303" y2="191.3" stroke="#000" stroke-width="7.6"/>
<line x1="279.5" y1="127.7" x2="303" y2="127.7" stroke="#000" stroke-width="7.6"/>
<text transform="translate(262.8,146.59) scale(0.6327,0.659)" font-size="100" text-anchor="end">9000</text>
<line x1="292" y1="64.1" x2="303" y2="64.1" stroke="#000" stroke-width="7.6"/>
<line x1="426.8" y1="1272.4" x2="426.8" y2="1284.3" stroke="#000" stroke-width="7.6"/>
<line x1="607.6" y1="1272.4" x2="607.6" y2="1296.3" stroke="#000" stroke-width="7.6"/>
<text transform="translate(608.00,1362.1) scale(0.6327,0.659)" font-size="100" text-anchor="middle">500</text>
<line x1="788.5" y1="1272.4" x2="788.5" y2="1284.3" stroke="#000" stroke-width="7.6"/>
<line x1="969.3" y1="1272.4" x2="969.3" y2="1296.3" stroke="#000" stroke-width="7.6"/>
<text transform="translate(969.70,1362.1) scale(0.6327,0.659)" font-size="100" text-anchor="middle">1000</text>
<line x1="1150.2" y1="1272.4" x2="1150.2" y2="1284.3" stroke="#000" stroke-width="7.6"/>
<line x1="1331.0" y1="1272.4" x2="1331.0" y2="1296.3" stroke="#000" stroke-width="7.6"/>
<text transform="translate(1331.40,1362.1) scale(0.6327,0.659)" font-size="100" text-anchor="middle">1500</text>
<line x1="1511.9" y1="1272.4" x2="1511.9" y2="1284.3" stroke="#000" stroke-width="7.6"/>
<line x1="1692.7" y1="1272.4" x2="1692.7" y2="1296.3" stroke="#000" stroke-width="7.6"/>
<text transform="translate(1693.10,1362.1) scale(0.6327,0.659)" font-size="100" text-anchor="middle">2000</text>
<text transform="translate(98.60,905.26) rotate(-90) scale(0.7513,0.7710)" font-size="100">Intensity, a.u.</text>
<text transform="translate(737.30,1472.10) scale(0.7424,0.7826)" font-size="100">Raman shift, cm</text>
<text transform="translate(1309.83,1437.22) scale(0.5420,0.2364)" font-size="100" font-weight="normal" fill="#555">−</text>
<text transform="translate(1341.42,1442.20) scale(0.3468,0.5319)" font-size="100">1</text>
<text transform="translate(585.68,519.20) scale(1.4409,1.3514)" font-size="100">A</text>
<text transform="translate(1093.11,1176.40) scale(0.7657,0.8217)" font-size="100">10<tspan font-size="64.3" dy="-27">-9</tspan><tspan font-size="100" dy="27"> M Cy5.5 NH</tspan><tspan font-size="63.3" dy="19.7">2</tspan></text>
<rect x="321" y="58.2" width="913.5" height="194.2" fill="#fefefe" stroke="#000" stroke-width="6"/>
<line x1="328.5" y1="104.4" x2="468.7" y2="104.4" stroke="#00a0ff" stroke-width="9" stroke-linecap="round"/>
<line x1="328.5" y1="197.4" x2="468.7" y2="197.4" stroke="#00dc00" stroke-width="9" stroke-linecap="round"/>
<text transform="translate(483.71,124.70) scale(0.6304,0.6522)" font-size="100">AuNB@Cy5.5@SiO<tspan font-size="69" dy="26">2</tspan></text>
<text transform="translate(483.71,218.30) scale(0.6304,0.6522)" font-size="100">AuNB@Cy5.5@SiO<tspan font-size="69" dy="26">2</tspan><tspan font-size="100" dy="-26">@FA</tspan></text>
<polyline points="304.5,2246.4 305.2,2215.9 306.0,2186.4 306.8,2154.9 307.3,2130.7 307.5,2123.8 308.2,2093.5 309.0,2064.2 309.8,2033.1 310.4,2008.6 310.5,2007.2 311.2,1997.0 312.0,1985.1 312.8,1974.2 313.5,1961.8 314.1,1955.6 314.2,1953.8 315.0,1960.6 315.8,1964.3 316.5,1968.5 317.2,1973.2 318.0,1977.7 318.1,1978.9 318.8,1989.1 319.5,2002.4 320.2,2012.3 321.0,2025.8 321.8,2037.5 322.5,2051.0 322.8,2054.0 323.2,2057.6 324.0,2061.9 324.8,2064.7 325.5,2070.5 326.2,2074.0 327.0,2078.5 327.8,2082.5 328.5,2085.0 328.9,2087.2 329.2,2089.0 330.0,2092.6 330.8,2095.5 331.5,2097.2 332.2,2100.1 333.0,2102.7 333.8,2105.7 334.5,2108.9 335.2,2111.9 336.0,2116.4 336.6,2117.1 336.8,2117.5 337.5,2118.7 338.2,2118.4 339.0,2119.4 339.8,2120.2 340.5,2121.2 341.2,2120.2 342.0,2122.4 342.8,2121.4 343.5,2122.0 344.2,2122.7 344.4,2122.4 345.0,2125.2 345.8,2127.9 346.5,2131.2 347.2,2134.9 348.0,2137.5 348.8,2142.6 349.5,2144.7 350.2,2148.0 351.0,2153.9 351.8,2155.9 352.1,2156.9 352.5,2159.2 353.2,2158.1 354.0,2159.5 354.8,2158.6 355.5,2159.5 356.2,2159.0 357.0,2159.4 357.8,2160.6 358.5,2161.8 359.2,2163.0 360.0,2164.7 360.8,2162.8 361.5,2164.7 362.2,2164.1 363.0,2165.0 363.8,2164.5 364.5,2165.0 365.2,2166.0 366.0,2166.1 366.8,2168.1 367.5,2168.8 368.2,2171.2 369.0,2171.4 369.8,2172.3 370.5,2173.9 371.2,2174.4 372.0,2174.9 372.8,2176.0 373.5,2177.1 374.2,2179.3 375.0,2180.4 375.2,2180.6 375.8,2183.0 376.5,2184.7 377.2,2188.1 378.0,2189.4 378.8,2194.0 379.5,2195.6 380.2,2198.2 381.0,2201.0 381.8,2203.1 382.5,2205.4 383.2,2208.9 384.0,2210.6 384.5,2211.4 384.8,2212.4 385.5,2211.0 386.2,2213.4 387.0,2212.2 387.8,2212.4 388.5,2214.0 389.2,2214.0 390.0,2212.7 390.8,2213.2 391.5,2213.6 392.2,2214.3 393.0,2213.3 393.8,2213.9 394.5,2215.1 395.2,2214.9 395.3,2215.6 396.0,2220.5 396.8,2224.5 397.5,2229.9 398.2,2233.8 399.0,2240.4 399.8,2246.4 400.5,2249.3 401.2,2255.5 401.4,2255.9 402.0,2257.9 402.8,2261.6 403.5,2265.3 404.2,2268.3 405.0,2272.5 405.8,2276.6 406.5,2281.2 407.2,2285.5 407.6,2286.5 408.0,2287.4 408.8,2285.7 409.5,2285.7 410.2,2285.5 411.0,2284.8 411.8,2284.1 412.5,2283.8 413.2,2282.7 413.8,2282.1 414.0,2282.8 414.8,2284.6 415.5,2284.9 416.2,2287.3 417.0,2287.1 417.8,2286.0 418.5,2288.9 419.2,2291.7 420.0,2291.9 420.8,2293.1 421.5,2294.3 422.2,2297.4 423.0,2298.7 423.8,2299.9 424.5,2301.1 425.2,2303.2 426.0,2304.0 426.8,2303.8 427.5,2306.4 427.7,2306.3 428.2,2305.9 429.0,2306.2 429.8,2305.2 430.5,2302.6 431.2,2305.2 432.0,2304.1 432.8,2302.6 433.5,2301.7 434.2,2301.5 435.0,2299.7 435.8,2300.2 436.5,2299.3 436.9,2298.8 437.2,2298.8 438.0,2300.3 438.8,2302.8 439.5,2304.2 440.2,2304.9 441.0,2305.8 441.8,2306.4 442.5,2308.8 443.2,2310.7 444.0,2309.7 444.8,2312.9 445.5,2311.9 446.2,2314.6 447.0,2316.6 447.8,2316.9 448.5,2318.4 449.2,2321.3 449.3,2322.2 450.0,2321.9 450.8,2323.8 451.5,2323.0 452.2,2325.5 453.0,2325.1 453.8,2326.0 454.5,2327.0 455.2,2327.4 456.0,2329.0 456.8,2329.6 457.5,2328.7 458.2,2328.3 459.0,2327.6 459.8,2327.8 460.5,2328.2 461.2,2328.0 461.6,2327.9 462.0,2328.0 462.8,2328.9 463.5,2328.3 464.2,2329.2 465.0,2331.4 465.8,2332.0 466.5,2331.7 467.2,2333.8 468.0,2333.1 468.8,2334.1 469.5,2333.6 470.2,2336.1 471.0,2336.1 471.8,2337.4 472.5,2337.6 473.2,2337.7 473.9,2338.2 474.0,2338.7 474.8,2337.1 475.5,2336.5 476.2,2336.1 477.0,2336.2 477.8,2336.0 478.5,2336.5 479.2,2334.9 480.0,2335.8 480.8,2334.4 481.5,2335.2 481.6,2335.2 482.2,2337.6 483.0,2338.1 483.8,2338.5 484.5,2340.2 485.2,2340.9 486.0,2341.2 486.8,2341.8 487.5,2342.0 488.2,2345.1 489.0,2343.9 489.8,2345.0 490.5,2344.2 491.2,2344.9 492.0,2346.3 492.4,2346.6 492.8,2346.7 493.5,2344.7 494.2,2345.0 495.0,2344.9 495.8,2342.5 496.5,2343.1 497.2,2341.0 498.0,2341.2 498.8,2340.5 499.5,2340.7 500.2,2338.4 500.2,2339.0 501.0,2340.3 501.8,2339.5 502.5,2341.2 503.2,2341.5 504.0,2342.7 504.8,2344.7 505.5,2345.9 506.2,2348.2 507.0,2348.4 507.8,2349.3 507.9,2348.6 508.5,2346.8 509.2,2344.8 510.0,2340.7 510.8,2341.1 511.5,2336.9 512.2,2334.2 513.0,2332.1 513.8,2330.5 514.0,2329.9 514.5,2328.9 515.2,2329.7 516.0,2329.8 516.8,2329.6 517.5,2330.9 518.2,2331.3 519.0,2330.9 519.8,2333.3 520.5,2332.1 521.2,2334.0 522.0,2333.7 522.8,2334.4 523.5,2335.0 524.2,2336.5 525.0,2335.6 525.8,2336.8 526.5,2338.3 527.2,2336.9 528.0,2337.5 528.8,2338.0 529.5,2336.9 530.2,2338.6 531.0,2338.6 531.8,2340.3 532.5,2340.6 533.2,2340.6 534.0,2343.0 534.8,2342.9 535.5,2343.8 536.2,2344.5 537.0,2346.2 537.2,2347.0 537.8,2347.1 538.5,2347.7 539.2,2346.2 540.0,2347.0 540.8,2348.3 541.5,2347.8 542.2,2348.1 543.0,2349.1 543.8,2348.2 544.5,2348.2 545.2,2347.7 546.0,2348.7 546.8,2348.0 547.5,2346.4 548.2,2347.0 549.0,2345.5 549.8,2346.7 550.5,2346.1 551.2,2345.1 552.0,2344.5 552.8,2343.1 553.5,2344.3 554.1,2343.1 554.2,2343.0 555.0,2344.9 555.8,2345.0 556.5,2346.2 557.2,2347.2 558.0,2347.9 558.8,2351.7 559.5,2351.1 560.2,2352.2 561.0,2354.4 561.8,2352.9 562.5,2356.4 563.2,2357.8 563.4,2357.4 564.0,2358.7 564.8,2357.5 565.5,2359.5 566.2,2360.7 567.0,2359.2 567.8,2360.5 568.5,2362.0 569.2,2362.8 570.0,2363.0 570.8,2364.2 571.5,2364.7 572.2,2364.0 573.0,2365.3 573.8,2364.8 574.5,2364.6 575.2,2364.7 576.0,2367.4 576.8,2366.9 577.5,2368.7 578.2,2366.7 578.8,2367.7 579.0,2367.9 579.8,2366.6 580.5,2366.1 581.2,2364.9 582.0,2363.5 582.8,2361.4 583.5,2361.5 584.2,2362.5 585.0,2361.0 585.8,2360.6 586.5,2358.4 587.2,2358.6 588.0,2357.9 588.8,2358.6 589.5,2358.2 590.0,2358.4 590.2,2359.9 591.0,2359.9 591.8,2362.8 592.5,2363.1 593.2,2366.7 594.0,2367.4 594.8,2369.4 595.5,2371.3 596.2,2372.9 597.0,2372.3 597.8,2372.5 598.5,2372.6 599.2,2374.2 600.0,2374.0 600.8,2375.0 601.5,2376.2 602.2,2377.7 602.9,2377.8 603.0,2379.3 603.8,2379.5 604.5,2376.7 605.2,2378.0 606.0,2377.7 606.8,2374.8 607.5,2374.4 608.2,2371.6 608.5,2372.1 609.0,2373.4 609.8,2376.8 610.5,2378.9 611.2,2382.1 612.0,2385.5 612.8,2388.6 613.5,2392.1 614.0,2394.7 614.2,2394.6 615.0,2396.5 615.8,2398.2 616.5,2397.3 617.2,2400.0 618.0,2400.1 618.8,2400.6 619.5,2401.2 620.2,2402.2 621.0,2402.9 621.8,2404.4 622.3,2403.7 622.5,2405.0 623.2,2403.6 624.0,2404.6 624.8,2405.0 625.5,2403.5 626.2,2405.4 627.0,2406.5 627.8,2405.0 628.5,2406.1 629.2,2406.1 630.0,2406.6 630.6,2406.8 630.8,2407.4 631.5,2411.3 632.2,2414.5 633.0,2416.8 633.8,2420.8 634.5,2423.3 635.2,2425.7 635.3,2424.6 636.0,2423.6 636.8,2420.2 637.5,2414.8 638.2,2412.6 639.0,2410.3 639.8,2408.7 640.5,2406.4 641.2,2402.9 642.0,2401.0 642.7,2399.3 642.8,2398.4 643.5,2400.5 644.2,2400.8 645.0,2402.0 645.8,2402.6 646.5,2402.6 647.2,2403.4 648.0,2404.7 648.8,2405.3 649.5,2405.5 650.2,2406.7 651.0,2405.9 651.8,2405.4 652.5,2406.0 652.8,2405.7 653.2,2406.8 654.0,2409.7 654.8,2411.4 655.5,2413.9 656.2,2415.9 657.0,2417.7 657.8,2421.0 658.5,2422.6 659.2,2425.5 660.0,2427.2 660.2,2428.7 660.8,2427.1 661.5,2425.9 662.2,2425.2 663.0,2423.9 663.8,2421.3 664.5,2418.9 665.2,2417.9 666.0,2415.8 666.8,2413.5 667.5,2412.2 667.6,2411.8 668.2,2413.0 669.0,2416.0 669.8,2416.3 670.5,2418.0 671.2,2420.6 672.0,2421.5 672.8,2423.0 673.5,2425.2 674.2,2428.1 675.0,2430.1 675.8,2432.1 675.9,2432.2 676.5,2431.5 677.2,2432.1 678.0,2429.8 678.8,2429.8 679.5,2428.2 680.2,2427.9 681.0,2427.0 681.8,2427.0 682.4,2423.2 682.5,2425.9 683.2,2424.1 684.0,2424.7 684.8,2424.8 685.5,2423.4 686.2,2423.7 687.0,2423.9 687.8,2423.2 688.5,2422.6 689.2,2423.1 690.0,2422.9 690.8,2421.8 691.5,2423.8 692.2,2423.1 693.0,2421.3 693.8,2422.6 694.5,2424.6 695.2,2424.7 696.0,2423.9 696.8,2422.7 697.1,2424.0 697.5,2425.6 698.2,2426.4 699.0,2427.1 699.8,2428.0 700.5,2430.3 701.2,2430.9 702.0,2432.5 702.8,2433.9 703.5,2436.0 704.2,2436.2 705.0,2437.5 705.8,2437.2 706.5,2440.3 707.2,2441.1 708.0,2441.3 708.2,2439.8 708.8,2440.3 709.5,2440.0 710.2,2440.6 711.0,2438.8 711.8,2438.2 712.5,2437.5 713.2,2437.4 714.0,2435.2 714.8,2435.0 715.5,2434.5 715.6,2435.2 716.2,2437.6 717.0,2440.9 717.8,2443.0 718.5,2446.6 719.2,2448.8 720.0,2453.8 720.8,2454.7 721.5,2459.7 722.1,2461.3 722.2,2459.0 723.0,2458.9 723.8,2456.9 724.5,2453.7 725.2,2453.5 726.0,2451.2 726.8,2449.7 727.5,2447.0 728.2,2445.8 729.0,2444.3 729.8,2442.0 730.4,2440.2 730.5,2440.5 731.2,2440.4 732.0,2441.9 732.8,2440.5 733.5,2443.9 734.2,2443.5 735.0,2444.4 735.8,2445.3 736.5,2444.3 737.2,2447.2 738.0,2445.3 738.8,2446.7 739.5,2446.8 740.2,2447.7 741.0,2446.9 741.8,2445.9 742.5,2447.2 743.2,2445.2 743.3,2446.4 744.0,2446.8 744.8,2449.0 745.5,2448.6 746.2,2449.5 747.0,2450.4 747.8,2451.6 748.5,2453.1 749.2,2455.4 750.0,2455.5 750.7,2457.7 750.8,2457.1 751.5,2457.9 752.2,2457.9 753.0,2456.8 753.8,2457.0 754.5,2457.2 755.2,2457.4 756.0,2457.3 756.8,2456.3 757.5,2455.4 758.2,2454.8 759.0,2456.3 759.8,2456.6 760.0,2456.0 760.5,2456.9 761.2,2455.5 762.0,2455.4 762.8,2456.7 763.5,2454.8 764.2,2455.8 765.0,2455.5 765.8,2455.2 766.5,2456.2 767.2,2454.3 768.0,2454.5 768.8,2453.2 769.2,2453.9 769.5,2454.4 770.2,2454.4 771.0,2454.3 771.8,2454.3 772.5,2453.3 773.2,2451.9 774.0,2452.9 774.8,2452.5 775.5,2450.9 776.2,2450.7 777.0,2452.0 777.8,2451.1 778.5,2450.9 779.2,2450.3 780.0,2449.7 780.3,2449.1 780.8,2451.5 781.5,2453.8 782.2,2456.5 783.0,2459.7 783.8,2462.6 784.5,2466.4 785.2,2468.2 785.8,2473.1 786.0,2470.9 786.8,2471.2 787.5,2472.1 788.2,2470.7 789.0,2470.7 789.8,2470.8 790.5,2468.3 791.2,2469.6 792.0,2468.8 792.8,2468.8 793.5,2468.7 794.2,2468.2 795.0,2468.2 795.8,2467.4 796.5,2466.5 797.2,2465.0 798.0,2465.0 798.8,2462.9 798.8,2463.2 799.5,2464.7 800.2,2464.8 801.0,2463.9 801.8,2465.1 802.5,2466.9 803.2,2467.5 804.0,2468.6 804.8,2467.5 805.5,2468.7 806.2,2470.2 807.0,2470.5 807.8,2471.9 808.0,2472.1 808.5,2472.0 809.2,2471.3 810.0,2471.3 810.8,2471.1 811.5,2470.2 812.2,2468.9 813.0,2470.3 813.8,2469.2 814.5,2469.1 815.2,2468.6 816.0,2467.1 816.8,2468.3 817.5,2467.1 818.2,2466.4 819.0,2467.9 819.8,2466.5 820.5,2466.8 821.2,2467.0 822.0,2467.5 822.8,2465.1 823.5,2465.8 824.2,2466.9 824.6,2466.1 825.0,2464.8 825.8,2467.9 826.5,2468.6 827.2,2469.6 828.0,2469.7 828.8,2469.6 829.5,2470.5 830.2,2470.7 831.0,2470.7 831.8,2471.6 832.5,2471.9 833.2,2471.2 834.0,2472.9 834.8,2472.9 835.5,2473.0 835.7,2470.2 836.2,2471.4 837.0,2470.2 837.8,2468.6 838.5,2468.8 839.2,2466.4 840.0,2467.4 840.8,2466.1 841.5,2464.8 842.2,2465.7 843.0,2464.6 843.8,2464.2 844.5,2462.9 845.2,2464.1 846.0,2464.7 846.8,2464.5 847.5,2462.8 848.2,2464.7 848.6,2465.1 849.0,2465.8 849.8,2466.8 850.5,2467.8 851.2,2469.9 852.0,2471.7 852.8,2473.7 853.5,2475.3 854.2,2475.7 855.0,2476.4 855.8,2478.7 856.0,2478.4 856.5,2480.6 857.2,2479.5 858.0,2481.5 858.8,2482.6 859.5,2482.2 860.2,2484.5 861.0,2484.7 861.8,2485.2 862.5,2486.1 863.2,2487.8 864.0,2489.5 864.8,2488.3 865.5,2491.1 866.0,2491.3 866.2,2491.4 867.0,2492.9 867.8,2494.0 868.5,2494.9 869.2,2496.5 870.0,2496.1 870.8,2498.9 871.5,2498.8 872.2,2498.3 873.0,2497.9 873.8,2499.7 874.5,2499.8 875.2,2501.0 876.0,2501.4 876.8,2502.7 877.5,2501.7 878.2,2502.9 879.0,2502.7 879.8,2503.5 880.0,2505.0 880.5,2504.2 881.2,2504.7 882.0,2505.1 882.8,2506.1 883.5,2506.8 884.2,2506.9 885.0,2506.8 885.5,2508.3 885.8,2507.1 886.5,2506.1 887.2,2505.1 888.0,2503.8 888.8,2500.6 889.5,2502.1 890.2,2500.0 891.0,2499.3 891.8,2498.2 892.5,2494.1 892.9,2493.3 893.2,2493.8 894.0,2494.5 894.8,2493.5 895.5,2493.7 896.2,2494.6 897.0,2493.3 897.8,2494.1 898.5,2494.8 899.2,2492.6 900.0,2492.2 900.8,2490.6 901.5,2488.7 902.2,2488.7 903.0,2488.3 903.8,2487.6 904.5,2487.3 905.2,2487.0 906.0,2486.3 906.8,2485.6 906.8,2485.4 907.5,2487.7 908.2,2489.9 909.0,2492.0 909.8,2495.6 910.5,2495.6 911.2,2499.4 912.0,2500.3 912.8,2503.4 913.5,2506.6 914.2,2508.2 915.0,2511.6 915.1,2510.5 915.8,2511.2 916.5,2511.2 917.2,2511.8 918.0,2511.7 918.8,2511.7 919.5,2512.0 920.2,2512.6 921.0,2511.8 921.8,2511.5 922.5,2511.1 923.2,2511.7 924.0,2512.1 924.8,2513.4 925.5,2515.2 926.2,2514.9 927.0,2517.8 927.8,2518.0 928.5,2518.7 929.2,2519.9 929.9,2521.5 930.0,2521.0 930.8,2519.9 931.5,2519.9 932.2,2519.3 933.0,2515.8 933.8,2516.3 934.5,2514.2 935.2,2512.7 936.0,2512.3 936.8,2512.4 937.5,2510.4 938.2,2509.3 939.0,2509.6 939.8,2508.0 940.5,2506.6 941.2,2507.0 942.0,2505.1 942.8,2503.3 942.8,2502.7 943.5,2503.2 944.2,2503.7 945.0,2504.2 945.8,2504.2 946.5,2503.8 947.2,2503.1 948.0,2504.7 948.8,2504.4 949.5,2504.0 950.2,2504.3 951.0,2505.9 951.8,2506.5 952.5,2507.5 953.2,2506.8 953.9,2509.7 954.0,2507.7 954.8,2511.0 955.5,2513.9 956.2,2515.6 957.0,2516.2 957.8,2519.2 958.5,2521.5 959.2,2523.0 959.4,2522.3 960.0,2524.3 960.8,2522.0 961.5,2523.1 962.2,2522.3 963.0,2522.6 963.8,2522.4 964.5,2522.8 965.2,2521.2 966.0,2521.9 966.8,2522.4 967.5,2521.1 968.2,2521.1 968.7,2520.7 969.0,2519.6 969.8,2519.4 970.5,2519.2 971.2,2519.2 972.0,2520.0 972.8,2519.5 973.5,2517.9 974.2,2517.8 975.0,2517.2 975.8,2516.2 976.5,2518.6 977.2,2517.9 978.0,2515.9 978.8,2517.0 979.5,2518.3 980.2,2516.5 981.0,2515.9 981.6,2515.2 981.8,2514.4 982.5,2515.0 983.2,2516.1 984.0,2517.7 984.8,2518.4 985.5,2520.1 986.2,2521.9 987.0,2522.3 987.8,2523.6 988.5,2524.0 989.0,2524.1 989.2,2526.6 990.0,2526.0 990.8,2526.7 991.5,2525.9 992.2,2525.3 993.0,2527.7 993.8,2525.4 994.5,2527.0 995.2,2526.9 996.0,2527.6 996.8,2528.2 997.5,2528.4 998.2,2526.7 999.0,2529.4 999.8,2528.0 1000.1,2530.4 1000.5,2529.7 1001.2,2529.3 1002.0,2529.8 1002.8,2529.4 1003.5,2530.4 1004.2,2531.0 1005.0,2530.8 1005.8,2530.0 1006.5,2530.4 1007.2,2529.4 1008.0,2530.0 1008.8,2528.3 1009.5,2526.9 1010.2,2526.5 1011.0,2525.7 1011.8,2525.6 1012.5,2525.4 1013.2,2525.7 1014.0,2525.5 1014.8,2524.6 1014.9,2525.0 1015.5,2523.9 1016.2,2523.6 1017.0,2521.7 1017.8,2522.3 1018.5,2521.8 1019.2,2523.2 1020.0,2519.7 1020.8,2520.0 1021.5,2519.0 1022.2,2517.5 1023.0,2518.2 1023.8,2517.5 1024.5,2515.9 1025.2,2514.8 1026.0,2516.0 1026.8,2514.7 1027.5,2515.8 1027.8,2515.1 1028.2,2518.1 1029.0,2521.4 1029.8,2526.7 1030.5,2530.1 1031.2,2534.8 1032.0,2537.8 1032.8,2541.1 1033.3,2543.9 1033.5,2544.5 1034.2,2544.2 1035.0,2542.6 1035.8,2543.8 1036.5,2540.9 1037.2,2540.2 1038.0,2538.7 1038.8,2536.5 1039.5,2536.8 1040.2,2535.1 1041.0,2533.8 1041.8,2531.1 1042.5,2530.2 1042.6,2529.7 1043.2,2531.3 1044.0,2530.4 1044.8,2532.8 1045.5,2534.3 1046.2,2534.2 1047.0,2535.0 1047.8,2537.8 1048.5,2538.3 1049.2,2540.3 1050.0,2541.4 1050.8,2543.1 1051.5,2543.6 1052.2,2543.6 1053.0,2546.9 1053.7,2547.3 1053.8,2548.1 1054.5,2545.5 1055.2,2545.1 1056.0,2541.8 1056.8,2540.6 1057.5,2538.7 1058.2,2535.8 1059.0,2534.0 1059.8,2531.7 1060.5,2529.1 1061.2,2528.9 1062.0,2525.3 1062.8,2523.1 1062.9,2523.7 1063.5,2525.8 1064.2,2527.8 1065.0,2529.5 1065.8,2531.5 1066.5,2532.4 1067.2,2536.3 1068.0,2539.1 1068.8,2539.1 1069.5,2540.1 1070.2,2543.6 1070.3,2542.9 1071.0,2540.4 1071.8,2542.9 1072.5,2542.5 1073.2,2542.9 1074.0,2545.3 1074.8,2544.8 1075.5,2544.2 1076.2,2544.6 1077.0,2546.1 1077.8,2544.6 1078.5,2546.4 1079.2,2545.9 1080.0,2547.6 1080.8,2547.8 1081.5,2547.8 1082.2,2549.8 1083.0,2550.0 1083.2,2551.2 1083.8,2550.0 1084.5,2550.8 1085.2,2550.6 1086.0,2552.3 1086.8,2551.2 1087.5,2552.0 1088.2,2553.2 1089.0,2553.0 1089.8,2553.1 1090.5,2553.4 1091.2,2553.9 1092.0,2554.5 1092.8,2554.1 1093.5,2553.3 1094.2,2556.1 1095.0,2554.8 1095.8,2557.4 1096.5,2556.8 1097.2,2559.5 1098.0,2558.7 1098.8,2557.8 1099.5,2557.9 1100.2,2556.0 1101.0,2556.9 1101.8,2556.3 1102.5,2556.2 1103.2,2554.2 1104.0,2553.6 1104.8,2555.0 1105.5,2553.8 1106.2,2552.5 1107.0,2551.8 1107.8,2550.4 1108.5,2549.4 1109.2,2549.2 1110.0,2547.6 1110.8,2547.3 1110.9,2545.9 1111.5,2545.6 1112.2,2547.3 1113.0,2548.7 1113.8,2549.1 1114.5,2550.9 1115.2,2552.1 1116.0,2554.5 1116.8,2555.8 1117.5,2557.3 1118.2,2557.3 1119.0,2559.3 1119.8,2561.2 1120.5,2561.5 1121.2,2562.3 1122.0,2562.8 1122.8,2563.2 1123.5,2561.9 1124.2,2561.6 1125.0,2559.9 1125.8,2560.7 1126.5,2558.3 1127.2,2556.7 1128.0,2556.9 1128.8,2556.4 1129.5,2556.3 1130.2,2554.4 1131.0,2553.7 1131.8,2553.3 1132.5,2552.5 1133.1,2550.7 1133.2,2552.8 1134.0,2553.5 1134.8,2552.2 1135.5,2552.1 1136.2,2552.8 1137.0,2552.3 1137.8,2553.5 1138.5,2552.4 1139.2,2553.4 1140.0,2552.1 1140.8,2552.1 1141.5,2552.3 1142.2,2552.6 1142.3,2554.1 1143.0,2554.6 1143.8,2554.3 1144.5,2554.6 1145.2,2553.0 1146.0,2555.6 1146.8,2554.1 1147.5,2556.1 1148.2,2557.0 1149.0,2555.5 1149.8,2556.1 1150.5,2556.3 1151.2,2555.2 1152.0,2555.7 1152.8,2556.4 1153.4,2557.5 1153.5,2558.6 1154.2,2559.1 1155.0,2560.9 1155.8,2560.7 1156.5,2561.0 1157.2,2562.9 1158.0,2563.6 1158.8,2563.3 1159.5,2565.6 1160.2,2564.5 1161.0,2564.9 1161.8,2565.8 1162.5,2564.9 1162.7,2565.6 1163.2,2564.2 1164.0,2562.7 1164.8,2560.9 1165.5,2559.2 1166.2,2557.7 1167.0,2557.4 1167.8,2557.2 1168.5,2556.1 1169.2,2555.2 1170.0,2555.2 1170.8,2555.0 1171.5,2552.7 1172.2,2553.0 1173.0,2553.3 1173.3,2551.7 1173.8,2553.5 1174.5,2556.9 1175.2,2558.8 1176.0,2562.2 1176.8,2563.5 1177.5,2566.5 1177.8,2568.6 1178.2,2567.0 1179.0,2564.4 1179.8,2563.9 1180.5,2563.2 1181.2,2563.4 1182.0,2562.0 1182.8,2563.0 1183.5,2563.6 1184.2,2563.4 1185.0,2561.8 1185.8,2562.2 1186.5,2562.4 1187.2,2562.2 1187.7,2564.4 1188.0,2563.9 1188.8,2565.8 1189.5,2568.8 1190.2,2570.6 1191.0,2573.2 1191.8,2574.7 1192.5,2575.0 1193.2,2575.0 1193.3,2576.9 1194.0,2575.7 1194.8,2575.1 1195.5,2571.4 1196.2,2570.6 1197.0,2571.4 1197.8,2570.4 1198.5,2569.2 1199.2,2567.3 1200.0,2567.2 1200.8,2564.8 1201.5,2563.1 1202.1,2563.0 1202.2,2563.2 1203.0,2564.4 1203.8,2565.3 1204.5,2563.9 1205.2,2565.9 1206.0,2566.6 1206.8,2565.9 1207.5,2567.2 1208.2,2568.1 1208.8,2568.9 1209.0,2568.0 1209.8,2568.5 1210.5,2568.6 1211.2,2570.2 1212.0,2570.4 1212.8,2570.9 1213.5,2572.5 1214.2,2572.6 1214.3,2572.3 1215.0,2576.6 1215.8,2579.3 1216.5,2581.6 1217.2,2583.2 1218.0,2587.3 1218.8,2588.5 1219.5,2590.0 1220.2,2593.7 1221.0,2597.4 1221.8,2594.3 1222.5,2593.5 1223.2,2592.6 1224.0,2590.2 1224.8,2588.4 1225.5,2587.1 1226.2,2586.1 1227.0,2583.9 1227.8,2583.1 1228.5,2581.9 1228.7,2580.9 1229.2,2583.5 1230.0,2585.8 1230.8,2587.6 1231.5,2590.1 1232.2,2592.7 1233.0,2594.7 1233.8,2596.8 1234.3,2597.7 1234.5,2597.6 1235.2,2595.8 1236.0,2593.5 1236.8,2590.2 1237.5,2589.1 1238.2,2587.1 1239.0,2584.2 1239.8,2583.4 1240.5,2581.3 1240.9,2580.4 1241.2,2581.8 1242.0,2583.4 1242.8,2583.8 1243.5,2587.4 1244.2,2588.4 1245.0,2591.0 1245.8,2593.5 1246.5,2594.8 1247.2,2596.6 1247.6,2598.1 1248.0,2598.1 1248.8,2596.1 1249.5,2595.1 1250.2,2594.8 1251.0,2594.3 1251.8,2591.9 1252.5,2591.1 1253.1,2588.7 1253.2,2589.2 1254.0,2589.5 1254.8,2588.7 1255.5,2589.7 1256.2,2589.7 1257.0,2588.1 1257.8,2589.9 1258.5,2590.2 1259.2,2590.3 1260.0,2590.6 1260.8,2589.9 1261.5,2590.5 1262.2,2591.2 1263.0,2591.2 1263.8,2591.9 1264.2,2593.4 1264.5,2592.6 1265.2,2594.8 1266.0,2598.2 1266.8,2598.6 1267.5,2599.9 1268.2,2602.7 1269.0,2604.7 1269.8,2606.7 1270.5,2607.5 1271.2,2611.0 1272.0,2613.3 1272.8,2616.7 1273.1,2617.0 1273.5,2615.8 1274.2,2615.3 1275.0,2614.4 1275.8,2612.7 1276.5,2611.5 1277.2,2611.3 1278.0,2609.4 1278.8,2608.1 1279.5,2605.7 1280.2,2605.4 1281.0,2602.4 1281.8,2603.2 1282.5,2600.6 1283.2,2599.9 1284.0,2598.9 1284.8,2595.5 1285.5,2595.4 1286.2,2592.9 1286.4,2592.8 1287.0,2591.8 1287.8,2591.7 1288.5,2593.1 1289.2,2592.5 1290.0,2592.2 1290.8,2591.4 1291.5,2593.2 1292.2,2592.3 1293.0,2592.6 1293.8,2592.7 1294.1,2593.4 1294.5,2594.8 1295.2,2596.3 1296.0,2598.4 1296.8,2600.2 1297.5,2603.8 1298.2,2606.2 1299.0,2607.1 1299.8,2608.9 1300.5,2611.8 1300.8,2611.5 1301.2,2613.0 1302.0,2613.3 1302.8,2613.3 1303.5,2614.4 1304.2,2614.6 1305.0,2613.6 1305.8,2613.0 1306.5,2613.8 1307.2,2613.9 1308.0,2612.2 1308.5,2612.5 1308.8,2612.0 1309.5,2609.0 1310.2,2607.4 1311.0,2607.5 1311.8,2603.8 1312.5,2603.6 1313.2,2601.0 1314.0,2600.9 1314.1,2600.8 1314.8,2601.8 1315.5,2600.8 1316.2,2602.3 1317.0,2601.9 1317.8,2603.0 1318.5,2602.9 1319.2,2602.4 1320.0,2602.0 1320.8,2601.8 1321.5,2601.7 1322.2,2601.0 1323.0,2600.8 1323.8,2600.5 1324.5,2600.1 1325.2,2601.5 1326.0,2599.7 1326.8,2601.3 1327.4,2600.8 1327.5,2599.0 1328.2,2599.5 1329.0,2601.3 1329.8,2601.1 1330.5,2602.4 1331.2,2603.4 1332.0,2603.5 1332.8,2603.6 1333.5,2604.1 1334.2,2605.8 1335.0,2605.1 1335.8,2607.1 1336.5,2607.9 1337.2,2606.9 1338.0,2608.1 1338.5,2609.5 1338.8,2608.1 1339.5,2609.4 1340.2,2610.4 1341.0,2609.5 1341.8,2610.9 1342.5,2611.1 1343.2,2610.9 1344.0,2612.4 1344.8,2611.3 1345.5,2612.9 1346.2,2611.8 1347.0,2610.8 1347.8,2611.5 1348.5,2610.9 1349.2,2612.2 1349.9,2612.5 1350.0,2611.3 1350.8,2612.6 1351.5,2614.0 1352.2,2614.5 1353.0,2614.7 1353.8,2617.0 1354.5,2618.0 1355.2,2616.9 1356.0,2619.7 1356.8,2618.1 1357.5,2620.2 1358.2,2620.6 1359.0,2621.4 1359.8,2622.7 1359.8,2622.1 1360.5,2623.6 1361.2,2625.7 1362.0,2625.7 1362.8,2627.2 1363.5,2627.5 1364.2,2626.5 1365.0,2629.4 1365.8,2629.3 1366.5,2629.7 1367.2,2629.5 1368.0,2629.9 1368.8,2630.2 1369.5,2631.4 1369.8,2631.9 1370.2,2630.8 1371.0,2629.3 1371.8,2626.5 1372.5,2625.8 1373.2,2624.2 1374.0,2623.3 1374.8,2621.1 1375.5,2619.4 1376.2,2618.0 1376.7,2616.5 1377.0,2616.8 1377.8,2618.2 1378.5,2617.7 1379.2,2617.7 1380.0,2619.1 1380.8,2619.6 1381.5,2619.9 1382.2,2618.9 1383.0,2620.8 1383.8,2620.6 1384.5,2621.1 1385.2,2621.6 1386.0,2622.5 1386.8,2623.2 1387.5,2624.8 1388.2,2624.9 1389.0,2625.8 1389.6,2627.3 1389.8,2627.3 1390.5,2627.9 1391.2,2627.1 1392.0,2627.2 1392.8,2626.1 1393.5,2626.8 1394.2,2626.1 1395.0,2624.6 1395.8,2624.4 1396.5,2624.2 1397.2,2622.6 1398.0,2622.2 1398.5,2622.9 1398.8,2623.8 1399.5,2626.8 1400.2,2627.5 1401.0,2630.4 1401.8,2631.6 1402.5,2636.3 1403.2,2636.3 1404.0,2639.0 1404.8,2642.4 1405.5,2643.8 1406.2,2641.5 1407.0,2642.8 1407.8,2640.8 1408.5,2639.1 1409.2,2639.2 1410.0,2638.9 1410.8,2638.4 1411.5,2636.1 1412.2,2638.5 1413.0,2636.0 1413.8,2636.8 1414.5,2637.8 1415.2,2636.9 1415.4,2636.6 1416.0,2635.1 1416.8,2634.5 1417.5,2633.6 1418.2,2630.9 1419.0,2630.0 1419.8,2628.0 1420.5,2626.5 1421.2,2624.0 1422.0,2624.2 1422.8,2623.3 1423.5,2621.3 1424.2,2620.8 1424.3,2620.3 1425.0,2622.8 1425.8,2624.0 1426.5,2625.6 1427.2,2627.5 1428.0,2629.8 1428.8,2631.8 1429.5,2632.9 1430.2,2635.0 1431.0,2635.7 1431.2,2636.0 1431.8,2636.8 1432.5,2636.1 1433.2,2635.9 1434.0,2634.9 1434.8,2634.6 1435.5,2635.4 1436.2,2633.5 1437.0,2634.2 1437.8,2635.1 1438.5,2635.4 1439.2,2634.5 1440.0,2634.0 1440.8,2633.2 1441.2,2633.7 1441.5,2634.2 1442.2,2635.0 1443.0,2636.0 1443.8,2636.7 1444.5,2636.5 1445.2,2636.8 1446.0,2637.8 1446.8,2638.9 1447.5,2640.4 1448.2,2639.0 1449.0,2641.8 1449.8,2642.0 1450.5,2644.0 1451.1,2645.6 1451.2,2644.9 1452.0,2644.2 1452.8,2645.1 1453.5,2646.1 1454.2,2646.0 1455.0,2646.7 1455.8,2646.7 1456.5,2647.5 1457.2,2647.7 1458.0,2649.1 1458.8,2649.2 1459.5,2649.9 1460.2,2648.7 1461.0,2649.7 1461.8,2650.4 1462.5,2651.3 1463.2,2651.8 1464.0,2652.6 1464.8,2654.8 1465.5,2654.2 1466.2,2654.3 1467.0,2655.6 1467.8,2658.0 1468.5,2657.6 1468.9,2656.8 1469.2,2657.2 1470.0,2657.2 1470.8,2657.2 1471.5,2655.9 1472.2,2656.5 1473.0,2657.0 1473.8,2656.1 1474.5,2657.2 1475.2,2657.5 1476.0,2658.1 1476.8,2658.4 1477.5,2657.6 1478.2,2657.9 1479.0,2658.2 1479.8,2658.3 1480.5,2657.7 1481.2,2657.2 1482.0,2658.2 1482.8,2658.5 1482.8,2658.2 1483.5,2660.1 1484.2,2662.4 1485.0,2662.6 1485.8,2664.0 1486.5,2665.2 1487.2,2667.6 1488.0,2669.2 1488.8,2669.4 1489.5,2672.1 1490.2,2671.6 1490.7,2672.7 1491.0,2671.8 1491.8,2671.8 1492.5,2669.6 1493.2,2670.2 1494.0,2668.1 1494.8,2666.5 1495.5,2666.3 1496.2,2666.0 1497.0,2666.6 1497.8,2664.7 1498.5,2664.5 1498.7,2665.9 1499.2,2665.4 1500.0,2665.8 1500.8,2666.6 1501.5,2666.9 1502.2,2669.1 1503.0,2670.5 1503.8,2670.3 1504.5,2670.7 1505.2,2672.6 1506.0,2673.4 1506.8,2674.4 1507.5,2675.9 1508.2,2676.8 1509.0,2677.8 1509.8,2679.9 1510.5,2679.2 1510.6,2680.1 1511.2,2680.5 1512.0,2679.5 1512.8,2681.1 1513.5,2678.2 1514.2,2679.7 1515.0,2679.2 1515.8,2678.6 1516.5,2678.3 1517.2,2677.2 1518.0,2676.7 1518.5,2677.9 1518.8,2677.1 1519.5,2676.8 1520.2,2677.4 1521.0,2677.6 1521.8,2679.2 1522.5,2680.0 1523.2,2679.2 1524.0,2679.8 1524.8,2679.6 1525.5,2680.8 1526.2,2681.2 1527.0,2681.7 1527.8,2682.8 1528.4,2681.3 1528.5,2682.8 1529.2,2681.8 1530.0,2684.0 1530.8,2684.6 1531.5,2685.0 1532.2,2685.6 1533.0,2685.5 1533.8,2685.6 1534.5,2687.1 1535.2,2686.7 1536.0,2688.3 1536.8,2688.0 1537.5,2689.6 1538.2,2690.4 1538.3,2690.0 1539.0,2691.8 1539.8,2694.2 1540.5,2695.1 1541.2,2696.9 1542.0,2697.6 1542.8,2699.3 1543.5,2699.6 1544.2,2701.3 1545.0,2704.0 1545.8,2704.8 1546.3,2705.5 1546.5,2705.6 1547.2,2704.2 1548.0,2705.0 1548.8,2703.5 1549.5,2703.6 1550.2,2704.1 1551.0,2702.8 1551.8,2702.5 1552.5,2702.2 1553.2,2701.7 1554.0,2701.8 1554.8,2699.0 1555.5,2699.0 1556.2,2698.7 1556.2,2697.6 1557.0,2696.7 1557.8,2695.6 1558.5,2695.0 1559.2,2694.9 1560.0,2694.6 1560.8,2693.5 1561.5,2693.7 1562.2,2692.4 1563.0,2690.9 1563.8,2692.1 1564.5,2689.8 1565.1,2690.7 1565.2,2691.0 1566.0,2691.6 1566.8,2693.4 1567.5,2694.4 1568.2,2696.0 1569.0,2696.8 1569.8,2698.6 1570.5,2699.2 1571.2,2701.2 1572.0,2702.2 1572.8,2702.2 1573.5,2702.0 1574.2,2701.5 1575.0,2702.5 1575.8,2702.0 1576.5,2700.0 1577.2,2700.6 1578.0,2702.3 1578.8,2700.9 1579.5,2702.7 1580.2,2701.0 1581.0,2700.8 1581.8,2700.1 1582.5,2700.1 1583.2,2700.2 1584.0,2700.5 1584.8,2699.9 1585.5,2699.6 1585.9,2698.9 1586.2,2699.2 1587.0,2699.0 1587.8,2699.0 1588.5,2698.5 1589.2,2698.1 1590.0,2698.4 1590.8,2696.8 1591.5,2697.3 1592.2,2697.6 1593.0,2698.2 1593.8,2697.3 1594.5,2697.0 1595.2,2698.1 1596.0,2697.5 1596.8,2698.5 1597.5,2697.5 1597.8,2697.3 1598.2,2699.1 1599.0,2703.1 1599.8,2705.6 1600.5,2707.3 1601.2,2710.7 1601.8,2711.3 1602.0,2713.5 1602.8,2713.2 1603.5,2713.2 1604.2,2713.4 1605.0,2713.5 1605.8,2712.9 1606.5,2712.6 1607.2,2711.5 1608.0,2712.6 1608.8,2710.2 1609.5,2709.8 1610.2,2709.8 1611.0,2709.1 1611.8,2708.5 1612.5,2706.6 1613.2,2706.2 1614.0,2706.2 1614.8,2704.8 1615.5,2706.6 1615.7,2705.2 1616.2,2707.1 1617.0,2709.0 1617.8,2710.1 1618.5,2710.4 1619.2,2712.3 1620.0,2713.4 1620.8,2712.5 1621.5,2714.2 1622.2,2715.6 1623.0,2716.2 1623.8,2716.4 1624.5,2717.0 1625.2,2719.2 1626.0,2717.9 1626.8,2719.2 1627.5,2718.0 1628.2,2719.5 1629.0,2720.1 1629.6,2719.3 1629.8,2718.8 1630.5,2720.4 1631.2,2719.2 1632.0,2720.1 1632.8,2718.7 1633.5,2721.1 1634.2,2719.0 1635.0,2720.1 1635.8,2720.7 1636.5,2721.5 1637.2,2722.0 1638.0,2723.3 1638.8,2724.0 1639.5,2724.2 1640.2,2723.8 1641.0,2723.7 1641.8,2722.5 1642.3,2724.1 1642.5,2723.7 1643.2,2723.9 1644.0,2722.3 1644.8,2721.9 1645.5,2721.4 1646.2,2721.8 1647.0,2720.8 1647.8,2719.3 1648.5,2718.1 1649.2,2718.0 1650.0,2717.0 1650.8,2716.1 1651.5,2715.6 1652.2,2715.0 1653.0,2714.2 1653.8,2712.3 1654.5,2711.5 1655.2,2712.3 1655.9,2710.6 1656.0,2711.4 1656.8,2711.9 1657.5,2712.8 1658.2,2714.5 1659.0,2714.1 1659.8,2715.8 1660.5,2716.3 1661.2,2716.6 1662.0,2717.2 1662.8,2717.9 1663.5,2719.7 1664.2,2720.2 1664.5,2719.2 1665.0,2721.0 1665.8,2720.9 1666.5,2723.6 1667.2,2726.3 1668.0,2725.6 1668.8,2728.1 1669.5,2729.1 1670.2,2731.2 1671.0,2732.1 1671.8,2734.7 1671.9,2733.5 1672.5,2734.8 1673.2,2734.7 1674.0,2734.6 1674.8,2735.8 1675.5,2733.3 1676.2,2733.2 1677.0,2732.4 1677.8,2733.2 1678.5,2732.5 1679.2,2731.4 1679.3,2732.7 1680.0,2730.8 1680.8,2730.0 1681.5,2728.1 1682.2,2726.3 1683.0,2724.3 1683.8,2722.0 1684.5,2721.6 1685.2,2721.3 1686.0,2718.9 1686.7,2717.2 1686.8,2718.2 1687.5,2721.3 1688.2,2725.4 1689.0,2725.6 1689.8,2728.7 1690.5,2730.8 1691.2,2733.7 1691.6,2735.9 1692.0,2734.7 1692.8,2732.8 1693.5,2733.7 1694.2,2733.0 1695.0,2731.4 1695.8,2729.3 1696.5,2728.4 1697.2,2729.1 1698.0,2726.8 1698.8,2726.4 1699.0,2725.7 1699.5,2729.8 1700.2,2730.8 1701.0,2733.8 1701.8,2736.0 1702.5,2738.7 1703.2,2740.9 1703.9,2744.6 1704.0,2743.1 1704.8,2743.9 1705.5,2741.5 1706.2,2742.2 1707.0,2742.1 1707.8,2740.3 1708.5,2741.0 1709.2,2740.4 1710.0,2739.9 1710.8,2740.4 1711.5,2739.3 1712.2,2740.3 1713.0,2739.4 1713.7,2740.7 1713.8,2741.4 1714.5,2741.1 1715.2,2739.5 1716.0,2739.6 1716.8,2740.7 1717.5,2739.8 1718.2,2739.0 1719.0,2736.8 1719.8,2737.5 1720.5,2738.8 1721.2,2737.1 1722.0,2736.0 1722.8,2735.9 1723.5,2737.1 1723.6,2736.2 1724.2,2735.2 1725.0,2736.2 1725.8,2737.9 1726.5,2739.8 1727.2,2739.3 1728.0,2740.4 1728.8,2739.9 1729.5,2742.0 1730.2,2743.6 1731.0,2744.3 1731.8,2743.6 1732.5,2745.9 1733.2,2745.6 1734.0,2746.1 1734.8,2748.5 1735.5,2748.2 1735.9,2749.9 1736.2,2749.2 1737.0,2748.2 1737.8,2747.0 1738.5,2745.0 1739.2,2743.2 1740.0,2741.9 1740.8,2739.0 1740.8,2740.8 1741.5,2742.7 1742.2,2742.0 1743.0,2742.8 1743.8,2742.2 1744.5,2742.2 1745.2,2742.5 1746.0,2742.6 1746.8,2742.5 1747.5,2741.4 1748.2,2742.0 1749.0,2740.9 1749.8,2742.6 1750.5,2741.9 1751.2,2741.8 1752.0,2741.2 1752.8,2742.5 1753.2,2742.8 1753.5,2742.7 1754.2,2744.0 1755.0,2743.5 1755.8,2745.5 1756.5,2745.8 1757.2,2744.8 1758.0,2747.8 1758.8,2747.9 1759.3,2749.2 1759.5,2748.8 1760.2,2748.2 1761.0,2749.1 1761.8,2747.6 1762.5,2747.8 1763.2,2747.8 1764.0,2746.7 1764.8,2745.7 1765.5,2746.1 1766.2,2747.0 1767.0,2747.3 1767.8,2748.8 1768.5,2750.3 1769.2,2750.7 1770.0,2751.7 1770.8,2752.2 1771.5,2751.9 1772.2,2752.3 1772.9,2752.0 1773.0,2753.2 1773.8,2750.8 1774.5,2750.4 1775.2,2750.1 1776.0,2748.1 1776.8,2746.1 1777.5,2745.6 1778.2,2745.4 1779.0,2745.8 1779.8,2743.9 1780.5,2743.2 1781.2,2741.7 1782.0,2741.7 1782.7,2740.6 1782.8,2741.0 1783.5,2741.1 1784.2,2743.5 1785.0,2743.4 1785.8,2745.2 1786.5,2746.7 1787.2,2748.3 1788.0,2750.2 1788.8,2749.8 1788.9,2751.7 1789.5,2751.0 1790.2,2749.7 1791.0,2749.6 1791.8,2749.3 1792.5,2747.8 1793.2,2746.8 1794.0,2746.6 1794.8,2744.5 1795.5,2744.7 1796.2,2743.2 1797.0,2742.2 1797.5,2741.6 1797.8,2741.8 1798.5,2740.0 1799.2,2741.0 1800.0,2739.5 1800.8,2740.3 1801.5,2740.5 1802.2,2740.4 1803.0,2739.7 1803.8,2739.9 1804.5,2740.3 1805.2,2741.3 1806.0,2741.8 1806.8,2742.2 1807.3,2741.0 1807.5,2742.9 1808.2,2745.0 1809.0,2745.9 1809.8,2747.2 1810.5,2749.2 1811.2,2751.1 1812.0,2752.5 1812.8,2754.0 1813.5,2753.5 1814.2,2756.9 1814.7,2756.7 1815.0,2757.4 1815.8,2755.8 1816.5,2755.7 1817.2,2754.3 1818.0,2753.6 1818.4,2754.6" fill="none" stroke="#4d4d4d" stroke-width="10.5" stroke-linejoin="round" stroke-linecap="butt"/>
<polyline points="304.5,2138.7 305.2,2078.7 306.0,2019.8 306.8,1960.4 307.5,1901.0 308.2,1864.8 309.0,1828.8 309.8,1793.2 310.5,1758.9 311.2,1750.5 312.0,1740.5 312.8,1730.6 313.5,1721.9 314.2,1714.9 315.0,1705.2 315.8,1714.9 316.5,1727.2 317.2,1737.6 318.0,1749.2 318.1,1750.8 318.8,1749.7 319.5,1749.5 320.2,1748.1 321.0,1746.7 321.8,1746.5 322.5,1745.9 322.7,1744.2 323.2,1745.5 324.0,1745.3 324.8,1746.2 325.5,1745.7 326.2,1746.9 327.0,1747.0 327.8,1747.0 328.5,1746.6 328.9,1747.1 329.2,1745.9 330.0,1744.3 330.8,1743.9 331.5,1741.4 332.2,1741.3 333.0,1739.3 333.5,1736.2 333.8,1735.2 334.5,1727.2 335.2,1721.0 336.0,1714.2 336.6,1707.4 336.8,1708.4 337.5,1707.4 338.2,1707.2 339.0,1704.8 339.8,1705.2 340.5,1703.0 341.2,1702.6 341.2,1702.4 342.0,1702.4 342.8,1700.1 343.5,1699.7 344.2,1696.8 344.3,1696.9 345.0,1693.7 345.8,1689.1 346.5,1685.8 347.2,1683.1 348.0,1678.1 348.1,1677.8 348.8,1679.7 349.5,1682.6 350.2,1684.3 351.0,1686.9 351.8,1689.7 352.0,1690.4 352.5,1690.5 353.2,1693.1 354.0,1692.9 354.8,1694.5 355.5,1695.9 356.2,1698.9 356.6,1698.8 357.0,1697.7 357.8,1696.0 358.5,1695.4 359.2,1692.7 360.0,1690.7 360.8,1690.2 361.5,1687.0 362.2,1685.7 362.7,1684.7 363.0,1687.7 363.8,1696.6 364.3,1703.9 364.5,1705.7 365.2,1716.4 366.0,1727.4 366.8,1739.9 367.4,1749.7 367.5,1751.5 368.2,1758.9 369.0,1766.7 369.8,1774.4 370.4,1781.4 370.5,1782.9 371.2,1789.4 372.0,1796.5 372.8,1804.5 373.5,1810.1 374.2,1815.2 375.0,1824.0 375.2,1824.4 375.8,1825.8 376.5,1830.4 377.2,1833.0 378.0,1835.8 378.8,1839.1 379.5,1842.1 380.2,1846.1 381.0,1850.2 381.4,1850.7 381.8,1851.3 382.5,1853.0 383.2,1851.5 384.0,1853.3 384.8,1853.7 385.5,1854.0 386.2,1855.0 387.0,1856.7 387.6,1857.8 387.8,1856.9 388.5,1855.9 389.2,1855.0 390.0,1853.3 390.8,1852.5 391.5,1850.9 392.2,1849.7 393.0,1849.5 393.7,1847.6 393.8,1847.9 394.5,1853.4 395.2,1857.4 396.0,1862.9 396.8,1868.7 397.5,1873.5 398.2,1879.0 399.0,1882.8 399.8,1886.7 399.9,1890.2 400.5,1893.4 401.2,1896.6 402.0,1903.2 402.8,1907.2 403.5,1910.9 404.2,1916.9 405.0,1921.8 405.8,1928.1 406.1,1928.8 406.5,1930.5 407.2,1932.8 408.0,1934.8 408.8,1936.5 409.5,1939.4 410.2,1942.1 411.0,1944.0 411.8,1945.2 412.2,1946.6 412.5,1947.9 413.2,1948.1 414.0,1949.0 414.8,1949.1 415.5,1952.4 416.2,1952.4 417.0,1951.7 417.8,1953.6 418.4,1954.4 418.5,1952.5 419.2,1957.7 420.0,1961.7 420.8,1966.3 421.5,1969.7 422.2,1968.7 423.0,1967.8 423.8,1968.1 424.5,1967.2 425.2,1964.1 426.0,1962.5 426.8,1963.8 427.5,1959.9 428.2,1959.1 429.0,1958.5 429.8,1957.9 430.5,1957.5 430.7,1957.0 431.2,1954.9 432.0,1953.9 432.8,1951.8 433.5,1950.9 434.2,1947.3 435.0,1944.0 435.8,1941.7 436.5,1940.8 436.9,1937.7 437.2,1936.1 438.0,1936.6 438.8,1936.5 439.5,1936.9 440.2,1935.0 441.0,1936.0 441.8,1935.9 442.5,1934.8 443.2,1935.2 444.0,1936.6 444.8,1936.6 445.5,1936.0 446.2,1935.6 446.2,1935.7 447.0,1928.6 447.8,1922.4 448.5,1915.6 449.2,1909.9 450.0,1903.6 450.8,1899.4 451.5,1891.2 452.2,1886.2 452.3,1885.9 453.0,1878.0 453.8,1871.7 454.5,1862.1 455.2,1856.4 456.0,1849.7 456.8,1840.1 457.5,1833.6 458.2,1827.7 458.5,1824.2 459.0,1816.8 459.8,1806.9 460.5,1796.4 461.2,1786.8 462.0,1776.0 462.8,1764.9 463.1,1759.4 463.5,1754.3 464.2,1745.5 465.0,1735.2 465.8,1725.8 466.5,1715.9 466.6,1713.8 467.2,1705.6 468.0,1696.8 468.2,1694.1 468.8,1696.9 469.5,1701.1 470.2,1707.1 471.0,1711.5 471.8,1716.2 472.0,1718.0 472.5,1726.6 473.2,1738.7 474.0,1751.1 474.8,1762.9 475.5,1774.9 475.9,1780.8 476.2,1783.8 477.0,1792.5 477.8,1798.3 478.5,1803.3 479.2,1809.5 480.0,1815.6 480.8,1819.9 481.5,1825.0 482.2,1832.9 483.0,1837.9 483.2,1840.1 483.8,1843.3 484.5,1851.7 485.2,1857.2 486.0,1862.8 486.8,1868.7 487.5,1875.1 487.8,1877.3 488.2,1879.5 489.0,1882.7 489.8,1888.1 490.5,1891.1 491.2,1895.0 492.0,1899.0 492.8,1901.3 493.5,1907.4 494.2,1910.9 495.0,1915.1 495.5,1918.1 495.8,1918.8 496.5,1923.8 497.2,1926.3 498.0,1929.7 498.8,1933.1 499.5,1937.1 500.2,1940.9 501.0,1943.3 501.7,1945.8 501.8,1947.7 502.5,1951.3 503.2,1958.0 504.0,1962.4 504.8,1967.2 505.5,1972.5 506.2,1978.5 507.0,1984.0 507.8,1988.4 507.9,1990.1 508.5,1990.2 509.2,1987.7 510.0,1986.1 510.8,1985.2 511.5,1983.9 512.2,1983.4 513.0,1982.4 513.8,1980.9 514.5,1981.2 515.2,1978.1 515.6,1978.3 516.0,1980.5 516.8,1980.0 517.5,1979.7 518.2,1979.9 519.0,1981.1 519.8,1980.5 520.5,1980.6 521.2,1980.2 522.0,1981.5 522.8,1981.7 523.5,1982.4 524.2,1983.3 524.8,1984.5 525.0,1984.4 525.8,1983.9 526.5,1981.0 527.2,1980.5 528.0,1980.6 528.8,1977.8 529.5,1977.0 530.2,1975.3 531.0,1973.5 531.8,1976.0 532.5,1977.4 533.2,1981.0 534.0,1983.6 534.8,1985.5 535.5,1988.9 535.6,1988.5 536.2,1988.3 537.0,1989.8 537.8,1989.9 538.5,1989.7 539.2,1989.9 540.0,1990.6 540.8,1991.2 541.5,1991.6 541.8,1992.1 542.2,1994.6 543.0,1999.8 543.8,2004.4 544.5,2008.8 545.2,2012.5 546.0,2016.9 546.4,2019.9 546.8,2019.5 547.5,2019.9 548.2,2018.5 549.0,2018.8 549.8,2021.3 550.5,2021.8 551.2,2023.1 552.0,2023.3 552.8,2023.7 553.5,2024.5 554.1,2024.3 554.2,2027.2 555.0,2030.5 555.8,2035.7 556.5,2040.0 557.2,2044.5 558.0,2049.4 558.8,2052.8 559.5,2057.2 560.2,2061.1 560.3,2062.0 561.0,2060.8 561.8,2056.5 562.5,2054.6 563.2,2051.2 564.0,2048.0 564.8,2044.9 565.0,2042.4 565.5,2036.4 566.2,2026.9 567.0,2015.0 567.8,2005.1 568.5,1994.4 569.2,1984.8 569.6,1978.9 570.0,1970.6 570.8,1950.3 571.5,1930.6 572.2,1914.1 572.7,1902.1 573.0,1907.0 573.8,1920.1 574.5,1932.7 575.2,1946.1 576.0,1960.1 576.8,1973.6 577.5,1987.0 578.2,1999.9 578.8,2009.2 579.0,2012.4 579.8,2024.5 580.5,2035.8 581.2,2045.7 582.0,2056.7 582.8,2068.9 583.5,2079.6 584.2,2090.7 585.0,2100.4 585.8,2101.2 586.5,2101.3 587.2,2102.1 588.0,2101.0 588.8,2103.5 589.5,2103.3 590.0,2103.8 590.2,2103.5 591.0,2106.0 591.8,2108.6 592.5,2108.2 593.2,2111.0 594.0,2112.6 594.8,2112.9 595.5,2115.0 596.2,2115.2 597.0,2117.2 597.4,2117.0 597.8,2117.1 598.5,2119.8 599.2,2120.4 600.0,2122.3 600.8,2122.1 601.5,2124.1 602.2,2126.8 603.0,2128.6 603.8,2129.7 604.5,2132.1 604.8,2131.5 605.2,2131.6 606.0,2129.4 606.8,2129.2 607.5,2127.3 608.2,2125.8 609.0,2124.9 609.8,2124.7 610.5,2121.2 611.2,2120.1 611.2,2121.2 612.0,2121.7 612.8,2124.9 613.5,2125.5 614.2,2127.1 615.0,2129.0 615.8,2131.8 616.5,2132.8 617.2,2134.6 618.0,2136.4 618.8,2137.2 619.5,2139.7 620.2,2143.6 620.5,2144.1 621.0,2143.0 621.8,2141.5 622.5,2139.1 623.2,2138.0 624.0,2135.4 624.8,2134.5 625.5,2131.8 626.2,2130.2 627.0,2128.6 627.8,2126.0 628.5,2124.5 629.2,2122.2 630.0,2120.0 630.6,2118.9 630.8,2117.6 631.5,2120.9 632.2,2125.8 633.0,2129.5 633.8,2133.6 634.5,2136.2 635.2,2139.8 636.0,2142.1 636.8,2146.8 637.5,2150.4 638.2,2152.9 639.0,2156.7 639.8,2156.3 640.5,2155.7 641.2,2152.6 642.0,2153.8 642.8,2153.0 643.5,2151.7 644.2,2151.0 645.0,2149.9 645.8,2147.6 646.5,2147.1 647.2,2145.1 648.0,2143.0 648.8,2142.2 649.1,2142.0 649.5,2139.0 650.2,2137.3 651.0,2135.9 651.8,2137.0 652.5,2134.1 653.2,2133.0 654.0,2131.2 654.8,2129.8 655.5,2127.7 656.2,2127.9 656.5,2127.3 657.0,2121.5 657.8,2116.0 658.5,2110.0 659.2,2104.4 660.0,2098.5 660.2,2097.6 660.8,2085.5 661.5,2068.7 662.2,2052.4 663.0,2034.2 663.8,2018.2 664.5,2003.0 664.9,1993.8 665.2,1983.3 666.0,1959.4 666.8,1936.9 667.5,1915.9 668.2,1892.8 669.0,1869.4 669.3,1859.9 669.8,1872.6 670.5,1897.1 671.2,1920.7 672.0,1944.3 672.8,1966.4 673.5,1989.6 674.2,2005.2 675.0,2023.0 675.8,2039.5 676.5,2053.8 677.2,2070.3 677.7,2079.4 678.0,2080.9 678.8,2085.0 679.5,2091.9 680.2,2098.1 681.0,2102.4 681.8,2108.6 682.4,2112.1 682.5,2116.2 683.2,2121.3 684.0,2126.7 684.8,2132.2 685.5,2137.8 686.1,2142.9 686.2,2143.4 687.0,2144.9 687.8,2146.4 688.5,2147.8 689.2,2150.0 690.0,2149.0 690.8,2151.3 691.5,2151.7 691.6,2151.4 692.2,2152.4 693.0,2156.7 693.8,2157.8 694.5,2160.1 695.2,2163.2 696.0,2164.4 696.8,2167.4 697.1,2168.4 697.5,2168.2 698.2,2166.7 699.0,2163.8 699.8,2163.4 700.5,2161.1 701.2,2159.7 702.0,2158.0 702.8,2157.1 703.5,2154.1 704.2,2153.6 704.5,2153.8 705.0,2153.3 705.8,2155.7 706.5,2154.5 707.2,2156.0 708.0,2156.2 708.8,2156.9 709.5,2157.3 710.2,2158.4 711.0,2159.4 711.8,2159.5 711.9,2160.6 712.5,2163.6 713.2,2164.6 714.0,2169.4 714.8,2172.1 715.5,2175.3 716.2,2180.0 717.0,2182.3 717.8,2184.9 718.5,2188.0 719.2,2189.5 719.3,2191.6 720.0,2187.4 720.8,2184.6 721.5,2181.2 722.2,2178.4 723.0,2175.8 723.8,2171.6 724.5,2168.4 725.2,2163.8 726.0,2160.8 726.8,2157.5 727.5,2152.4 727.6,2154.1 728.2,2154.3 729.0,2156.6 729.8,2161.3 730.5,2164.6 731.2,2165.7 732.0,2169.0 732.8,2174.9 733.5,2176.2 734.2,2178.2 735.0,2182.6 735.8,2187.8 736.5,2190.2 737.2,2193.4 737.8,2196.0 738.0,2195.2 738.8,2192.2 739.5,2188.9 740.2,2187.9 741.0,2184.2 741.8,2182.4 742.5,2181.1 743.2,2177.6 744.0,2174.8 744.8,2172.3 745.5,2170.3 746.2,2168.0 747.0,2164.0 747.8,2162.7 748.5,2161.5 748.9,2159.6 749.2,2159.3 750.0,2161.1 750.8,2161.9 751.5,2164.6 752.2,2168.2 753.0,2168.8 753.8,2170.2 754.5,2172.2 755.2,2174.4 756.0,2176.2 756.8,2177.9 757.5,2179.4 758.2,2182.1 759.0,2184.5 759.8,2180.7 760.5,2178.3 761.2,2177.2 762.0,2172.9 762.8,2171.1 763.5,2168.8 764.2,2166.7 764.6,2165.1 765.0,2157.6 765.8,2145.4 766.5,2131.2 767.2,2117.6 767.3,2116.1 768.0,2108.4 768.8,2096.4 769.5,2087.7 770.1,2079.7 770.2,2076.0 771.0,2057.3 771.8,2039.1 772.5,2021.7 773.2,2003.5 774.0,1985.3 774.8,1969.4 775.5,1950.2 776.2,1934.5 777.0,1915.9 777.2,1910.6 777.8,1941.6 778.5,1983.3 779.2,2022.6 780.0,2063.9 780.3,2080.1 780.8,2089.6 781.5,2104.4 782.2,2118.7 783.0,2132.8 783.8,2147.5 784.0,2153.3 784.5,2160.4 785.2,2170.6 786.0,2180.5 786.8,2192.8 787.5,2203.7 787.7,2206.5 788.2,2208.3 789.0,2208.8 789.8,2208.7 790.5,2210.0 791.2,2213.0 792.0,2213.6 792.8,2215.6 793.5,2216.5 794.2,2217.5 795.0,2220.1 795.1,2221.7 795.8,2224.0 796.5,2226.4 797.2,2230.5 798.0,2233.8 798.8,2237.6 799.5,2241.4 800.2,2245.2 800.6,2245.5 801.0,2245.7 801.8,2247.2 802.5,2248.2 803.2,2249.0 804.0,2250.5 804.8,2251.6 805.5,2251.9 806.2,2254.3 807.0,2254.8 807.8,2255.5 808.0,2257.0 808.5,2255.8 809.2,2256.7 810.0,2255.0 810.8,2254.0 811.5,2252.6 812.2,2252.0 813.0,2252.1 813.8,2250.2 814.5,2250.3 815.2,2247.4 815.4,2248.8 816.0,2249.2 816.8,2248.9 817.5,2248.7 818.2,2249.3 819.0,2247.9 819.8,2247.6 820.5,2248.1 821.2,2248.6 822.0,2247.7 822.8,2246.9 823.5,2246.9 824.2,2246.7 825.0,2245.4 825.8,2244.2 826.5,2245.5 827.2,2245.3 828.0,2246.2 828.3,2246.0 828.8,2247.1 829.5,2249.2 830.2,2250.3 831.0,2251.5 831.8,2254.0 832.5,2253.9 833.2,2255.3 834.0,2257.8 834.8,2257.5 835.5,2258.5 836.2,2261.9 837.0,2262.5 837.6,2263.9 837.8,2265.3 838.5,2270.4 839.2,2274.3 840.0,2279.3 840.8,2283.3 841.3,2287.5 841.5,2287.4 842.2,2286.2 843.0,2286.2 843.8,2286.9 844.5,2283.1 845.2,2283.5 846.0,2282.5 846.8,2281.5 847.5,2279.2 848.2,2279.6 848.6,2278.5 849.0,2276.9 849.8,2275.2 850.5,2274.2 851.2,2273.3 852.0,2272.0 852.8,2271.9 853.5,2268.9 854.2,2268.5 855.0,2266.6 855.8,2266.3 856.0,2265.5 856.5,2266.2 857.2,2267.4 858.0,2269.4 858.8,2271.7 859.5,2274.2 860.2,2275.3 861.0,2275.5 861.8,2277.5 862.5,2279.5 863.2,2281.1 863.4,2281.5 864.0,2281.6 864.8,2280.7 865.5,2279.6 866.2,2278.3 867.0,2279.1 867.8,2277.8 868.5,2278.6 869.2,2278.7 870.0,2277.3 870.8,2277.8 871.5,2277.3 872.2,2278.4 872.6,2277.1 873.0,2276.2 873.8,2279.4 874.5,2280.8 875.2,2281.6 876.0,2282.8 876.8,2284.7 877.5,2286.0 878.2,2287.3 879.0,2287.8 879.8,2290.0 880.5,2290.9 881.0,2292.2 881.2,2292.5 882.0,2290.5 882.8,2289.4 883.5,2289.7 884.2,2286.5 885.0,2283.6 885.6,2281.1 885.8,2280.8 886.5,2275.0 887.2,2269.1 888.0,2265.8 888.8,2259.7 889.3,2256.6 889.5,2257.7 890.2,2253.1 891.0,2250.4 891.8,2247.9 892.5,2244.8 893.2,2241.7 894.0,2239.5 894.8,2243.1 895.5,2244.8 896.2,2246.9 897.0,2249.9 897.8,2253.0 898.5,2256.8 898.7,2258.2 899.2,2257.9 900.0,2257.7 900.8,2255.9 901.5,2255.6 902.2,2254.2 903.0,2253.3 903.8,2250.3 904.5,2251.1 905.2,2247.9 905.7,2247.4 906.0,2248.2 906.8,2246.6 907.5,2247.3 908.2,2245.5 909.0,2244.0 909.8,2244.3 910.5,2243.4 911.2,2244.2 912.0,2243.8 912.8,2242.6 913.5,2241.2 914.2,2240.8 915.0,2240.8 915.8,2235.7 916.5,2231.8 917.2,2229.1 918.0,2225.1 918.8,2220.6 919.5,2216.8 920.2,2211.9 920.9,2210.8 921.0,2209.0 921.8,2200.6 922.5,2193.3 923.2,2185.8 924.0,2180.0 924.8,2171.5 925.5,2162.3 926.2,2156.8 926.7,2151.7 927.0,2145.8 927.8,2134.6 928.5,2127.1 929.2,2116.0 930.0,2106.4 930.8,2096.2 931.5,2087.5 932.2,2077.7 933.0,2067.2 933.7,2057.1 933.8,2055.3 934.5,2024.4 935.2,1991.7 936.0,1962.5 936.8,1930.2 937.5,1899.4 938.2,1933.9 939.0,1969.0 939.8,2003.7 940.5,2039.2 941.2,2072.1 941.9,2101.8 942.0,2104.9 942.8,2122.5 943.5,2141.8 944.2,2158.9 945.0,2177.8 945.8,2196.7 946.5,2215.2 947.2,2233.0 947.7,2244.9 948.0,2246.7 948.8,2248.8 949.5,2254.4 950.2,2258.3 951.0,2261.9 951.8,2265.5 952.5,2269.8 953.2,2273.8 953.9,2277.0 954.0,2278.1 954.8,2282.1 955.5,2285.2 956.2,2289.4 957.0,2294.9 957.8,2298.2 958.5,2303.2 959.2,2307.8 960.0,2312.7 960.8,2316.9 961.3,2321.0 961.5,2319.2 962.2,2318.0 963.0,2315.1 963.8,2313.7 964.5,2311.7 965.2,2309.0 966.0,2305.8 966.8,2306.3 967.5,2303.8 968.2,2301.6 968.7,2299.8 969.0,2299.5 969.8,2298.3 970.5,2296.2 971.2,2295.2 972.0,2292.7 972.4,2291.1 972.8,2293.4 973.5,2295.5 974.2,2299.0 975.0,2300.4 975.8,2304.2 976.5,2307.6 977.2,2309.4 978.0,2312.6 978.8,2315.7 979.5,2318.1 979.8,2320.2 980.2,2315.5 981.0,2310.2 981.8,2304.9 982.5,2298.2 983.2,2293.1 984.0,2289.1 984.8,2283.1 985.3,2280.3 985.5,2278.5 986.2,2276.5 987.0,2275.5 987.8,2273.3 988.5,2272.7 989.2,2269.5 989.9,2269.4 990.0,2270.7 990.8,2275.6 991.5,2280.9 992.2,2285.6 993.0,2289.7 993.8,2293.9 994.5,2299.5 995.2,2303.4 995.5,2305.4 996.0,2304.5 996.8,2302.0 997.5,2299.4 998.2,2298.1 999.0,2297.0 999.8,2294.5 1000.5,2293.8 1001.2,2291.4 1002.0,2290.0 1002.8,2288.2 1003.5,2287.4 1003.8,2288.0 1004.2,2288.8 1005.0,2291.5 1005.8,2293.7 1006.5,2297.2 1007.2,2297.9 1008.0,2300.6 1008.8,2303.7 1009.5,2306.0 1010.2,2306.8 1011.0,2309.5 1011.2,2307.8 1011.8,2308.4 1012.5,2306.4 1013.2,2303.9 1014.0,2302.1 1014.8,2301.7 1015.5,2300.9 1016.2,2299.8 1017.0,2298.4 1017.8,2297.7 1018.5,2296.5 1019.2,2293.8 1020.0,2293.3 1020.2,2293.1 1020.8,2289.7 1021.5,2282.5 1022.2,2277.3 1023.0,2270.5 1023.8,2265.8 1024.5,2257.8 1025.2,2251.5 1026.0,2245.1 1026.8,2234.7 1027.5,2225.8 1028.2,2213.2 1029.0,2202.4 1029.8,2192.3 1030.5,2182.3 1030.7,2178.3 1031.2,2182.3 1032.0,2186.2 1032.8,2189.6 1033.5,2193.6 1034.2,2197.4 1035.0,2201.9 1035.8,2205.8 1036.5,2211.5 1037.2,2217.1 1038.0,2221.0 1038.8,2226.4 1039.5,2230.1 1040.2,2236.0 1041.0,2241.5 1041.8,2246.2 1042.5,2250.8 1043.2,2256.0 1043.5,2257.0 1044.0,2257.7 1044.8,2260.9 1045.5,2260.3 1046.2,2262.9 1047.0,2265.2 1047.8,2267.3 1048.5,2269.3 1049.2,2271.6 1050.0,2273.1 1050.5,2274.7 1050.8,2275.2 1051.5,2275.3 1052.2,2275.8 1053.0,2275.4 1053.8,2275.5 1054.5,2276.4 1055.2,2277.5 1056.0,2277.3 1056.8,2278.0 1057.5,2278.1 1058.2,2278.4 1058.7,2277.1 1059.0,2277.5 1059.8,2275.5 1060.5,2274.9 1061.2,2272.4 1062.0,2271.0 1062.8,2269.5 1063.5,2268.6 1064.2,2266.2 1064.7,2266.7 1065.0,2266.5 1065.8,2265.9 1066.5,2263.4 1067.2,2262.4 1068.0,2262.0 1068.8,2258.7 1069.5,2258.0 1070.2,2255.3 1071.0,2253.9 1071.8,2252.6 1072.1,2252.1 1072.5,2250.6 1073.2,2249.2 1074.0,2250.1 1074.8,2248.3 1075.5,2248.0 1076.2,2247.4 1076.2,2247.0 1077.0,2238.4 1077.8,2230.6 1078.5,2221.8 1079.2,2215.1 1080.0,2206.8 1080.8,2199.2 1080.9,2199.1 1081.5,2192.3 1082.2,2184.3 1083.0,2175.6 1083.2,2174.9 1083.8,2182.5 1084.5,2190.7 1085.2,2201.4 1086.0,2210.6 1086.8,2220.8 1087.5,2230.7 1087.9,2235.2 1088.2,2235.7 1089.0,2234.3 1089.8,2235.8 1090.5,2235.0 1091.2,2233.6 1092.0,2233.1 1092.8,2232.3 1093.5,2231.7 1094.2,2230.9 1094.9,2230.0 1095.0,2231.2 1095.8,2238.3 1096.5,2246.4 1097.2,2254.6 1098.0,2263.1 1098.8,2270.6 1099.5,2280.0 1100.2,2286.4 1101.0,2294.0 1101.8,2302.3 1101.9,2304.2 1102.5,2307.0 1103.2,2309.2 1104.0,2311.1 1104.8,2314.4 1105.5,2318.4 1106.2,2321.1 1107.0,2324.7 1107.8,2327.5 1108.5,2331.9 1109.1,2334.5 1109.2,2334.9 1110.0,2335.6 1110.8,2335.7 1111.5,2337.0 1112.2,2339.1 1113.0,2340.3 1113.8,2338.6 1114.5,2341.1 1115.2,2342.9 1116.0,2343.5 1116.5,2342.8 1116.8,2342.9 1117.5,2340.9 1118.2,2339.3 1119.0,2338.7 1119.8,2337.3 1120.5,2334.6 1121.2,2332.9 1122.0,2331.2 1122.8,2329.7 1123.5,2330.2 1123.9,2329.8 1124.2,2325.2 1125.0,2318.7 1125.8,2310.5 1126.5,2304.1 1127.2,2297.9 1128.0,2290.8 1128.8,2283.8 1129.4,2276.9 1129.5,2275.9 1130.2,2265.9 1131.0,2255.0 1131.8,2244.3 1132.5,2232.9 1133.0,2225.8 1133.2,2228.2 1134.0,2235.3 1134.8,2242.0 1135.5,2248.5 1136.2,2255.8 1137.0,2263.7 1137.8,2270.2 1138.5,2277.0 1138.6,2278.1 1139.2,2285.6 1140.0,2293.4 1140.8,2301.3 1141.5,2307.7 1142.2,2316.3 1143.0,2322.4 1143.8,2329.8 1144.2,2333.9 1144.5,2334.9 1145.2,2336.0 1146.0,2336.1 1146.8,2336.6 1147.5,2336.8 1148.2,2338.8 1149.0,2339.4 1149.8,2340.4 1150.5,2341.2 1151.2,2342.1 1152.0,2343.6 1152.8,2345.4 1153.4,2346.9 1153.5,2346.2 1154.2,2342.9 1155.0,2339.1 1155.8,2335.6 1156.5,2331.1 1157.2,2328.9 1158.0,2324.9 1158.8,2321.6 1159.0,2318.7 1159.5,2313.2 1160.2,2303.4 1161.0,2295.0 1161.8,2285.6 1162.5,2276.9 1163.2,2267.2 1164.0,2258.5 1164.5,2251.6 1164.8,2247.3 1165.5,2232.4 1166.2,2218.0 1167.0,2204.2 1167.3,2198.8 1167.8,2204.6 1168.5,2216.2 1169.2,2229.1 1170.0,2240.6 1170.8,2240.3 1171.5,2241.6 1172.2,2243.2 1173.0,2244.8 1173.8,2245.5 1174.5,2246.8 1175.2,2247.5 1176.0,2248.9 1176.6,2246.7 1176.8,2247.1 1177.5,2246.2 1178.2,2243.2 1179.0,2241.7 1179.8,2241.5 1180.5,2240.9 1181.2,2239.9 1182.0,2236.8 1182.8,2236.2 1183.2,2236.4 1183.5,2237.1 1184.2,2239.8 1185.0,2241.8 1185.8,2244.9 1186.5,2245.6 1187.2,2247.6 1188.0,2249.5 1188.8,2252.1 1189.5,2252.6 1190.2,2255.7 1191.0,2257.1 1191.8,2258.9 1192.0,2261.5 1192.5,2259.7 1193.2,2258.0 1194.0,2255.1 1194.8,2253.1 1195.5,2250.5 1196.2,2248.6 1197.0,2245.7 1197.8,2244.8 1198.5,2240.7 1198.6,2242.2 1199.2,2230.8 1200.0,2219.9 1200.8,2207.5 1201.5,2195.9 1202.2,2184.7 1203.0,2171.8 1203.8,2163.3 1204.5,2156.4 1205.2,2149.0 1206.0,2139.3 1206.8,2134.0 1207.5,2126.6 1208.2,2117.2 1208.6,2114.8 1209.0,2113.0 1209.8,2107.2 1210.5,2103.3 1211.2,2098.9 1212.0,2095.1 1212.8,2091.1 1213.5,2085.9 1214.1,2082.5 1214.2,2085.5 1215.0,2096.6 1215.8,2107.6 1216.5,2120.0 1217.2,2129.4 1218.0,2141.8 1218.5,2149.0 1218.8,2155.0 1219.5,2173.5 1220.2,2191.4 1221.0,2211.0 1221.8,2227.8 1222.5,2245.7 1223.2,2264.7 1224.0,2282.5 1224.8,2289.6 1225.5,2300.2 1226.2,2309.8 1227.0,2317.9 1227.8,2327.6 1228.5,2336.2 1229.2,2345.7 1229.5,2347.3 1230.0,2347.4 1230.8,2349.1 1231.5,2350.3 1232.2,2351.7 1233.0,2351.4 1233.8,2351.8 1234.5,2353.9 1235.2,2354.2 1236.0,2356.4 1236.1,2355.3 1236.8,2353.2 1237.5,2352.9 1238.2,2351.7 1239.0,2350.1 1239.8,2349.2 1240.5,2347.8 1241.2,2351.4 1242.0,2354.6 1242.8,2358.6 1243.5,2361.9 1244.2,2365.1 1244.9,2368.0 1245.0,2366.3 1245.8,2367.1 1246.5,2368.4 1247.2,2369.9 1248.0,2369.6 1248.8,2371.2 1249.5,2372.6 1250.2,2374.9 1251.0,2374.9 1251.5,2375.3 1251.8,2378.0 1252.5,2381.5 1253.2,2385.2 1254.0,2390.4 1254.8,2393.3 1255.5,2398.2 1256.2,2402.3 1257.0,2406.9 1257.8,2409.3 1258.1,2411.0 1258.5,2412.4 1259.2,2413.6 1260.0,2414.9 1260.8,2415.6 1261.5,2417.2 1262.2,2418.3 1263.0,2419.0 1263.8,2419.2 1264.5,2421.8 1265.2,2421.1 1266.0,2423.1 1266.8,2425.1 1267.0,2424.4 1267.5,2423.8 1268.2,2421.2 1269.0,2418.1 1269.8,2414.4 1270.5,2411.9 1271.2,2408.0 1272.0,2405.7 1272.8,2402.8 1273.5,2399.6 1274.2,2396.6 1275.0,2393.3 1275.8,2389.0 1275.8,2390.2 1276.5,2393.7 1277.2,2398.7 1278.0,2401.7 1278.8,2405.1 1279.5,2409.7 1280.2,2413.5 1281.0,2417.2 1281.8,2421.0 1282.5,2424.4 1283.2,2429.7 1284.0,2434.8 1284.6,2435.7 1284.8,2436.1 1285.5,2435.7 1286.2,2433.6 1287.0,2432.0 1287.8,2428.6 1288.5,2427.6 1289.2,2426.4 1290.0,2424.6 1290.8,2422.5 1291.5,2419.9 1292.2,2419.2 1293.0,2416.4 1293.4,2415.8 1293.8,2414.1 1294.5,2412.5 1295.2,2407.8 1296.0,2404.8 1296.8,2400.0 1297.5,2398.9 1298.2,2395.2 1299.0,2390.3 1299.8,2386.9 1300.5,2385.7 1301.1,2381.0 1301.2,2378.4 1302.0,2354.1 1302.8,2330.0 1303.5,2309.6 1304.2,2286.2 1304.4,2281.4 1305.0,2265.5 1305.8,2247.0 1306.5,2229.1 1307.2,2209.3 1308.0,2190.0 1308.8,2173.5 1309.5,2154.2 1310.2,2137.3 1311.0,2117.9 1311.8,2116.4 1312.5,2115.0 1313.2,2112.1 1314.0,2113.0 1314.8,2110.1 1315.4,2108.9 1315.5,2112.9 1316.2,2133.4 1317.0,2155.3 1317.8,2176.3 1318.5,2198.0 1319.2,2219.1 1319.8,2235.4 1320.0,2236.3 1320.8,2243.9 1321.5,2250.4 1322.2,2259.0 1323.0,2264.0 1323.8,2273.1 1324.5,2280.8 1325.2,2288.4 1326.0,2295.8 1326.8,2304.5 1327.5,2312.8 1327.6,2312.4 1328.2,2310.1 1329.0,2308.9 1329.8,2307.2 1330.5,2305.8 1331.2,2303.7 1332.0,2302.3 1332.8,2298.9 1333.5,2296.8 1334.2,2294.6 1334.2,2292.9 1335.0,2283.0 1335.8,2274.9 1336.5,2262.6 1337.2,2251.8 1337.5,2247.5 1338.0,2254.7 1338.8,2261.2 1339.5,2268.4 1340.2,2278.0 1341.0,2284.8 1341.8,2290.1 1341.9,2292.5 1342.5,2297.6 1343.2,2302.7 1344.0,2306.5 1344.8,2313.7 1345.5,2318.9 1346.0,2320.2 1346.2,2322.2 1347.0,2329.9 1347.8,2338.8 1348.5,2346.4 1349.2,2353.0 1349.9,2358.7 1350.0,2358.9 1350.8,2361.0 1351.5,2361.4 1352.2,2362.8 1353.0,2365.8 1353.8,2368.7 1353.9,2368.6 1354.5,2364.4 1355.2,2358.5 1356.0,2354.3 1356.8,2347.0 1357.5,2342.7 1357.9,2339.4 1358.2,2346.4 1359.0,2360.2 1359.8,2375.7 1360.5,2389.3 1361.0,2398.4 1361.2,2401.5 1362.0,2408.8 1362.8,2416.3 1363.5,2424.1 1363.8,2428.3 1364.2,2434.8 1365.0,2448.4 1365.8,2461.5 1366.5,2475.1 1367.2,2488.1 1367.8,2499.7 1368.0,2498.5 1368.8,2503.8 1369.5,2507.0 1370.2,2511.3 1371.0,2512.9 1371.7,2518.0 1371.8,2516.4 1372.5,2518.1 1373.2,2518.2 1374.0,2518.0 1374.8,2517.6 1375.5,2517.6 1376.2,2518.4 1377.0,2518.0 1377.7,2517.3 1377.8,2517.5 1378.5,2520.8 1379.2,2522.3 1380.0,2523.5 1380.8,2524.6 1381.5,2526.1 1382.2,2527.4 1383.0,2528.4 1383.8,2528.8 1384.5,2530.0 1385.2,2530.8 1385.6,2532.1 1386.0,2528.7 1386.8,2524.7 1387.5,2521.2 1388.2,2515.6 1389.0,2512.1 1389.8,2508.1 1390.5,2501.4 1391.2,2497.4 1391.6,2496.7 1392.0,2491.0 1392.8,2482.7 1393.5,2473.7 1394.2,2463.7 1395.0,2455.6 1395.8,2447.2 1396.5,2437.6 1397.2,2426.8 1398.0,2417.8 1398.8,2408.1 1399.5,2400.1 1400.2,2413.8 1401.0,2428.4 1401.8,2443.9 1402.5,2459.1 1403.2,2473.3 1403.5,2478.6 1404.0,2479.2 1404.8,2480.6 1405.5,2481.5 1406.2,2481.8 1407.0,2481.9 1407.8,2483.2 1408.4,2482.9 1408.5,2484.2 1409.2,2484.8 1410.0,2486.0 1410.8,2485.4 1411.5,2490.2 1412.2,2491.1 1413.0,2492.6 1413.8,2493.6 1414.5,2495.8 1415.2,2499.3 1415.4,2497.7 1416.0,2497.5 1416.8,2495.7 1417.5,2493.6 1418.2,2491.8 1419.0,2489.0 1419.8,2488.1 1420.5,2484.6 1421.2,2484.7 1421.3,2483.9 1422.0,2478.6 1422.8,2473.2 1423.5,2470.2 1424.2,2465.9 1425.0,2460.1 1425.8,2457.3 1426.5,2451.5 1427.2,2446.1 1427.3,2444.8 1428.0,2443.6 1428.8,2441.4 1429.5,2439.9 1430.2,2438.1 1431.0,2435.4 1431.8,2433.8 1432.5,2432.5 1433.2,2430.1 1433.2,2429.8 1434.0,2435.8 1434.8,2440.4 1435.5,2446.5 1436.2,2451.6 1437.0,2456.2 1437.2,2458.7 1437.8,2466.3 1438.5,2477.8 1439.2,2487.5 1440.0,2500.4 1440.8,2511.8 1441.2,2517.7 1441.5,2520.5 1442.2,2526.6 1443.0,2532.7 1443.8,2539.3 1444.5,2544.3 1445.1,2548.7 1445.2,2550.3 1446.0,2555.6 1446.8,2557.8 1447.5,2561.1 1448.2,2564.9 1449.0,2569.3 1449.8,2573.7 1450.5,2576.0 1451.1,2579.4 1451.2,2579.3 1452.0,2579.3 1452.8,2578.8 1453.5,2579.1 1454.2,2578.6 1455.0,2577.3 1455.8,2579.0 1456.5,2575.9 1457.2,2575.6 1458.0,2576.8 1458.8,2575.9 1459.0,2575.4 1459.5,2576.8 1460.2,2578.9 1461.0,2580.1 1461.8,2582.0 1462.5,2583.8 1463.2,2586.1 1464.0,2588.3 1464.8,2591.8 1464.9,2591.9 1465.5,2591.5 1466.2,2589.9 1467.0,2590.1 1467.8,2587.2 1468.5,2587.6 1469.2,2586.7 1470.0,2584.8 1470.8,2583.5 1470.9,2584.4 1471.5,2585.2 1472.2,2587.2 1473.0,2589.9 1473.8,2591.3 1474.5,2594.0 1475.2,2597.6 1476.0,2598.0 1476.8,2601.1 1476.8,2599.9 1477.5,2600.2 1478.2,2599.4 1479.0,2599.1 1479.8,2599.3 1480.5,2599.8 1481.2,2597.7 1482.0,2598.2 1482.8,2596.9 1483.5,2596.5 1484.2,2594.9 1484.8,2594.1 1485.0,2594.6 1485.8,2595.4 1486.5,2597.0 1487.2,2597.4 1488.0,2599.3 1488.8,2600.6 1489.5,2603.0 1490.2,2604.0 1491.0,2604.3 1491.8,2604.7 1492.5,2606.6 1492.7,2606.8 1493.2,2605.6 1494.0,2604.6 1494.8,2603.4 1495.5,2604.2 1496.2,2605.2 1497.0,2603.4 1497.8,2603.6 1498.5,2603.6 1499.2,2603.7 1500.0,2604.1 1500.8,2602.4 1501.5,2604.0 1502.2,2604.7 1503.0,2604.6 1503.8,2605.8 1504.5,2604.8 1504.6,2606.0 1505.2,2606.8 1506.0,2605.4 1506.8,2605.5 1507.5,2605.1 1508.2,2605.5 1509.0,2603.0 1509.8,2603.0 1510.5,2603.3 1511.2,2603.6 1512.0,2603.0 1512.8,2601.6 1513.5,2603.0 1514.2,2601.7 1514.5,2601.1 1515.0,2602.7 1515.8,2604.5 1516.5,2604.8 1517.2,2605.1 1518.0,2607.0 1518.8,2608.6 1519.5,2610.4 1520.2,2610.0 1520.5,2611.1 1521.0,2609.9 1521.8,2610.7 1522.5,2609.5 1523.2,2609.9 1524.0,2609.0 1524.8,2609.2 1525.5,2608.6 1526.2,2608.3 1527.0,2610.5 1527.8,2610.6 1528.5,2610.4 1529.2,2610.3 1530.0,2612.1 1530.4,2611.4 1530.8,2612.5 1531.5,2613.8 1532.2,2614.0 1533.0,2615.8 1533.8,2615.5 1534.5,2616.3 1535.2,2617.2 1536.0,2616.9 1536.8,2617.4 1537.5,2618.8 1538.2,2617.1 1538.3,2618.8 1539.0,2618.8 1539.8,2620.1 1540.5,2620.4 1541.2,2621.0 1542.0,2622.6 1542.8,2622.3 1543.5,2623.4 1544.2,2625.4 1545.0,2625.5 1545.8,2628.1 1546.3,2628.9 1546.5,2628.1 1547.2,2627.2 1548.0,2626.2 1548.8,2628.5 1549.5,2625.5 1550.2,2625.0 1551.0,2625.8 1551.8,2624.8 1552.5,2623.8 1553.2,2623.0 1554.0,2621.9 1554.2,2621.2 1554.8,2621.7 1555.5,2623.1 1556.2,2624.1 1557.0,2624.8 1557.8,2624.6 1558.5,2623.8 1559.2,2626.4 1560.0,2626.7 1560.8,2625.7 1561.5,2629.2 1562.1,2628.9 1562.2,2628.9 1563.0,2629.9 1563.8,2630.6 1564.5,2631.4 1565.2,2632.1 1566.0,2632.8 1566.8,2634.0 1567.5,2634.7 1568.2,2637.2 1569.0,2636.7 1569.8,2637.5 1570.5,2638.7 1571.2,2640.8 1572.0,2642.0 1572.8,2642.2 1573.5,2641.9 1574.2,2642.0 1575.0,2642.6 1575.8,2643.0 1576.5,2642.2 1577.2,2641.8 1578.0,2640.8 1578.8,2640.6 1579.5,2641.2 1580.2,2640.7 1581.0,2640.5 1581.8,2639.4 1582.0,2640.0 1582.5,2638.7 1583.2,2639.0 1584.0,2639.1 1584.8,2639.7 1585.5,2638.5 1586.2,2637.9 1587.0,2638.3 1587.8,2637.5 1588.5,2637.7 1589.2,2636.7 1590.0,2636.1 1590.8,2635.2 1591.5,2635.3 1591.9,2633.8 1592.2,2633.8 1593.0,2637.2 1593.8,2637.8 1594.5,2639.9 1595.2,2642.0 1596.0,2644.0 1596.8,2643.0 1597.5,2646.1 1597.8,2648.4 1598.2,2646.8 1599.0,2649.2 1599.8,2649.6 1600.5,2650.2 1601.2,2651.7 1602.0,2651.6 1602.8,2654.1 1603.5,2655.7 1604.2,2654.9 1605.0,2656.5 1605.8,2658.9 1606.5,2659.4 1606.8,2659.4 1607.2,2659.9 1608.0,2656.4 1608.8,2656.1 1609.5,2655.0 1610.2,2653.4 1611.0,2652.8 1611.8,2649.7 1612.5,2649.4 1613.2,2647.4 1614.0,2647.3 1614.8,2645.8 1615.5,2643.0 1616.2,2641.3 1617.0,2640.5 1617.7,2638.6 1617.8,2638.9 1618.5,2641.4 1619.2,2642.6 1620.0,2646.2 1620.8,2647.0 1621.5,2648.6 1622.2,2650.2 1623.0,2652.6 1623.6,2655.3 1623.8,2655.1 1624.5,2655.8 1625.2,2655.7 1626.0,2655.1 1626.8,2654.3 1627.5,2654.6 1628.2,2654.8 1629.0,2653.7 1629.8,2655.2 1630.5,2654.4 1631.2,2655.3 1631.5,2655.1 1632.0,2656.1 1632.8,2657.8 1633.5,2655.4 1634.2,2656.4 1635.0,2658.0 1635.8,2656.0 1636.5,2656.6 1637.2,2656.8 1638.0,2657.1 1638.8,2655.8 1639.5,2657.2 1639.9,2657.4 1640.2,2659.2 1641.0,2658.3 1641.8,2658.8 1642.5,2660.2 1643.2,2659.1 1644.0,2662.1 1644.8,2663.8 1645.5,2663.7 1646.2,2664.7 1647.0,2665.6 1647.8,2667.1 1648.5,2667.4 1649.2,2670.7 1650.0,2670.7 1650.8,2672.1 1651.5,2675.0 1652.2,2675.1 1652.2,2675.1 1653.0,2676.5 1653.8,2675.3 1654.5,2675.8 1655.2,2674.7 1656.0,2673.8 1656.8,2675.1 1657.5,2675.9 1658.2,2674.5 1659.0,2675.0 1659.8,2675.2 1660.5,2674.8 1660.8,2674.7 1661.2,2675.9 1662.0,2676.6 1662.8,2677.1 1663.5,2679.2 1664.2,2680.0 1665.0,2680.5 1665.8,2681.6 1666.5,2679.9 1667.2,2682.6 1668.0,2683.0 1668.8,2682.2 1669.4,2685.4 1669.5,2683.9 1670.2,2683.3 1671.0,2683.4 1671.8,2683.8 1672.5,2683.6 1673.2,2682.5 1674.0,2683.4 1674.8,2684.0 1675.5,2684.1 1676.2,2684.3 1677.0,2682.9 1677.8,2683.2 1678.5,2683.9 1679.2,2683.2 1679.3,2683.6 1680.0,2682.8 1680.8,2683.8 1681.5,2683.4 1682.2,2683.8 1683.0,2683.5 1683.8,2683.1 1684.5,2683.0 1685.2,2684.2 1686.0,2684.1 1686.8,2684.0 1687.5,2685.1 1688.2,2686.6 1689.0,2687.4 1689.1,2687.3 1689.8,2688.9 1690.5,2689.0 1691.2,2690.5 1692.0,2691.1 1692.8,2692.5 1693.5,2695.5 1694.2,2696.0 1695.0,2697.5 1695.8,2700.2 1696.5,2701.1 1697.2,2698.2 1698.0,2698.6 1698.8,2696.3 1699.5,2696.4 1700.2,2693.1 1701.0,2692.4 1701.8,2691.0 1702.5,2691.4 1703.2,2687.2 1703.9,2687.7 1704.0,2687.3 1704.8,2687.4 1705.5,2688.7 1706.2,2690.9 1707.0,2690.2 1707.8,2690.9 1708.5,2693.3 1709.2,2694.1 1710.0,2694.1 1710.8,2694.3 1711.5,2693.7 1712.2,2692.0 1713.0,2691.5 1713.8,2691.0 1714.5,2689.9 1715.2,2690.5 1716.0,2689.6 1716.8,2687.1 1717.5,2687.7 1718.2,2687.4 1719.0,2685.6 1719.8,2685.7 1720.5,2685.3 1721.1,2683.2 1721.2,2684.4 1722.0,2683.6 1722.8,2686.5 1723.5,2685.9 1724.2,2685.9 1725.0,2686.1 1725.8,2686.7 1726.5,2689.3 1727.2,2688.4 1728.0,2689.2 1728.5,2689.8 1728.8,2689.3 1729.5,2692.0 1730.2,2690.8 1731.0,2694.3 1731.8,2694.2 1732.5,2695.9 1733.2,2697.1 1734.0,2698.6 1734.8,2698.2 1735.5,2700.7 1736.2,2701.4 1737.0,2702.5 1737.8,2703.7 1738.5,2705.9 1739.2,2706.6 1740.0,2708.3 1740.8,2709.2 1740.8,2707.2 1741.5,2707.6 1742.2,2707.5 1743.0,2705.2 1743.8,2703.7 1744.5,2702.4 1745.2,2704.7 1746.0,2701.9 1746.8,2702.1 1747.5,2700.7 1748.2,2701.2 1749.0,2701.5 1749.5,2699.0 1749.8,2700.3 1750.5,2700.4 1751.2,2700.1 1752.0,2701.2 1752.8,2702.2 1753.5,2703.5 1754.2,2703.9 1755.0,2703.4 1755.8,2702.7 1756.5,2704.8 1757.2,2704.8 1758.0,2705.2 1758.8,2704.7 1759.5,2705.8 1760.2,2707.5 1760.5,2707.1 1761.0,2707.1 1761.8,2707.1 1762.5,2706.9 1763.2,2707.7 1764.0,2708.5 1764.8,2709.3 1765.5,2709.5 1766.2,2709.8 1767.0,2711.9 1767.8,2711.4 1768.5,2712.8 1769.2,2712.6 1770.0,2713.6 1770.4,2713.7 1770.8,2713.5 1771.5,2713.1 1772.2,2711.5 1773.0,2711.0 1773.8,2711.8 1774.5,2712.9 1775.2,2711.1 1776.0,2711.0 1776.8,2713.2 1777.5,2710.4 1778.2,2710.8 1779.0,2710.6 1779.8,2710.0 1780.5,2709.5 1781.2,2710.1 1782.0,2708.8 1782.8,2708.2 1783.5,2706.2 1784.2,2707.4 1785.0,2706.4 1785.2,2706.2 1785.8,2707.1 1786.5,2707.4 1787.2,2707.9 1788.0,2708.9 1788.8,2708.9 1789.5,2709.5 1790.2,2710.0 1791.0,2712.5 1791.8,2712.1 1792.5,2713.5 1792.6,2714.4 1793.2,2714.7 1794.0,2712.9 1794.8,2713.1 1795.5,2712.8 1796.2,2711.6 1797.0,2711.9 1797.8,2714.1 1798.5,2711.9 1799.2,2713.1 1800.0,2712.3 1800.8,2713.0 1801.5,2712.7 1802.2,2712.0 1803.0,2711.1 1803.8,2713.1 1804.5,2712.7 1804.9,2712.8 1805.2,2713.4 1806.0,2712.3 1806.8,2713.0 1807.5,2712.9 1808.2,2711.8 1809.0,2711.9 1809.8,2712.4 1809.8,2710.9 1810.5,2714.3 1811.2,2715.7 1812.0,2716.5 1812.8,2718.1 1813.5,2717.9 1814.2,2720.6 1815.0,2722.3 1815.8,2723.4 1816.5,2725.0 1817.2,2725.6" fill="none" stroke="#00a0ff" stroke-width="10.5" stroke-linejoin="round" stroke-linecap="butt"/>
<polyline points="304.5,2137.3 305.2,2078.2 306.0,2015.7 306.8,1957.9 307.3,1915.0 307.5,1903.6 308.2,1859.7 309.0,1816.8 309.8,1772.5 310.0,1758.2 310.5,1738.9 311.2,1709.5 311.9,1685.0 312.0,1685.5 312.8,1682.1 313.5,1680.7 314.2,1678.0 315.0,1675.7 315.8,1671.8 315.8,1672.7 316.5,1673.4 317.2,1675.9 318.0,1679.1 318.8,1681.9 319.5,1683.2 320.2,1685.7 320.4,1687.9 321.0,1688.5 321.8,1691.6 322.5,1692.5 323.2,1693.9 324.0,1695.2 324.8,1697.0 325.5,1697.5 326.2,1699.7 327.0,1699.8 327.3,1700.3 327.8,1697.5 328.5,1694.5 329.2,1690.1 330.0,1685.5 330.8,1683.6 331.5,1678.0 332.0,1675.5 332.2,1675.0 333.0,1673.9 333.8,1670.6 334.5,1669.3 335.0,1667.7 335.2,1666.5 336.0,1667.9 336.8,1667.8 337.5,1666.7 338.2,1666.6 338.9,1665.4 339.0,1664.2 339.8,1655.9 340.5,1647.7 341.2,1638.5 341.2,1638.8 342.0,1634.9 342.8,1630.0 343.5,1625.9 344.2,1622.1 344.3,1620.0 345.0,1624.3 345.8,1625.6 346.5,1630.3 347.2,1633.3 348.0,1636.0 348.1,1636.2 348.8,1639.1 349.5,1641.4 350.2,1644.3 351.0,1646.2 351.2,1648.2 351.8,1642.6 352.5,1636.8 353.2,1630.4 354.0,1625.1 354.3,1620.7 354.8,1619.9 355.5,1618.3 356.2,1614.2 357.0,1610.8 357.8,1608.8 358.1,1606.8 358.5,1607.5 359.2,1606.6 360.0,1607.7 360.8,1608.5 361.5,1609.2 362.2,1608.3 362.7,1610.5 363.0,1609.6 363.8,1610.8 364.5,1613.0 365.2,1615.6 365.8,1616.7 366.0,1619.2 366.8,1625.6 367.5,1631.7 368.2,1637.5 368.9,1644.3 369.0,1643.1 369.8,1654.6 370.5,1666.5 371.2,1677.0 372.0,1687.1 372.8,1697.1 373.5,1705.8 374.2,1713.3 375.0,1724.4 375.5,1730.4 375.8,1731.5 376.5,1734.7 377.2,1739.5 378.0,1743.0 378.8,1748.4 379.5,1752.4 380.2,1757.8 381.0,1762.0 381.2,1764.3 381.8,1769.6 382.5,1777.2 383.2,1782.6 384.0,1789.8 384.5,1796.4 384.8,1795.8 385.5,1796.1 386.2,1795.5 387.0,1794.9 387.8,1794.7 388.5,1793.8 389.2,1792.9 390.0,1791.2 390.8,1792.2 391.5,1790.2 392.2,1790.1 392.2,1789.5 393.0,1794.0 393.8,1797.0 394.5,1800.9 395.2,1804.6 396.0,1807.9 396.8,1811.9 397.5,1816.1 398.2,1820.3 398.4,1820.6 399.0,1824.8 399.8,1824.9 400.5,1827.9 401.2,1832.4 402.0,1832.8 402.8,1836.3 403.5,1838.7 404.2,1840.6 405.0,1842.2 405.8,1844.5 406.1,1846.8 406.5,1849.8 407.2,1852.7 408.0,1859.0 408.8,1863.0 409.5,1868.5 410.2,1872.4 411.0,1876.1 411.8,1880.6 412.2,1883.3 412.5,1883.5 413.2,1883.5 414.0,1880.5 414.8,1879.3 415.5,1878.6 416.2,1877.1 417.0,1876.6 417.8,1875.4 418.4,1874.3 418.5,1873.6 419.2,1875.0 420.0,1876.2 420.8,1876.4 421.5,1878.2 422.2,1878.7 423.0,1879.0 423.8,1881.3 424.5,1880.5 425.2,1883.3 426.0,1885.1 426.1,1884.1 426.8,1882.1 427.5,1880.3 428.2,1878.1 429.0,1874.8 429.8,1872.1 430.5,1870.0 431.2,1866.9 432.0,1863.3 432.3,1863.1 432.8,1863.5 433.5,1862.7 434.2,1864.2 435.0,1863.4 435.8,1864.4 436.5,1862.7 437.2,1862.9 438.0,1862.1 438.8,1863.7 439.5,1863.2 440.0,1862.9 440.2,1861.8 441.0,1859.3 441.8,1857.1 442.5,1853.3 443.2,1852.7 444.0,1850.3 444.8,1848.7 445.5,1846.4 446.2,1846.7 447.0,1844.5 447.8,1842.1 448.5,1842.2 449.2,1840.5 449.3,1840.2 450.0,1835.7 450.8,1829.9 451.5,1823.2 452.2,1817.9 453.0,1813.4 453.8,1807.3 454.5,1801.1 455.2,1793.9 455.4,1792.7 456.0,1782.6 456.8,1770.0 457.5,1755.9 458.2,1742.8 459.0,1731.3 459.7,1718.4 459.8,1716.5 460.5,1698.0 461.2,1679.8 462.0,1663.1 462.8,1644.4 463.5,1625.2 464.2,1606.4 464.3,1607.0 465.0,1602.9 465.8,1598.4 466.5,1594.2 467.2,1588.4 467.4,1588.3 468.0,1592.7 468.8,1596.0 469.5,1600.3 470.2,1603.7 471.0,1607.6 471.3,1610.4 471.8,1616.1 472.5,1626.4 473.2,1636.6 474.0,1646.3 474.8,1656.6 475.5,1666.3 476.2,1673.9 476.7,1680.2 477.0,1681.9 477.8,1688.1 478.5,1692.1 479.2,1698.6 480.0,1703.9 480.8,1709.1 481.5,1713.3 482.0,1717.4 482.2,1722.6 483.0,1741.6 483.8,1759.8 484.5,1776.0 484.7,1781.1 485.2,1782.0 486.0,1782.5 486.8,1784.6 487.5,1784.1 488.2,1785.0 489.0,1784.8 489.8,1787.4 490.5,1787.3 491.2,1788.6 492.0,1789.1 492.4,1788.1 492.8,1790.8 493.5,1795.7 494.2,1801.6 495.0,1805.7 495.8,1811.1 496.5,1815.7 497.2,1820.5 498.0,1825.7 498.6,1829.0 498.8,1829.3 499.5,1836.5 500.2,1844.8 501.0,1849.4 501.8,1857.6 502.5,1864.3 503.2,1869.2 504.0,1876.3 504.8,1881.5 504.8,1883.4 505.5,1882.6 506.2,1882.5 507.0,1883.4 507.8,1883.5 508.5,1883.5 509.2,1884.0 510.0,1883.7 510.8,1883.1 511.5,1884.1 512.2,1884.9 512.5,1882.8 513.0,1885.5 513.8,1890.5 514.5,1896.9 515.2,1901.7 516.0,1907.4 516.8,1911.7 517.1,1915.1 517.5,1913.8 518.2,1912.7 519.0,1909.3 519.8,1905.3 520.5,1904.9 521.2,1902.9 522.0,1900.6 522.8,1895.4 523.3,1895.8 523.5,1896.9 524.2,1897.6 525.0,1897.8 525.8,1897.4 526.5,1899.0 527.2,1899.5 528.0,1900.5 528.8,1900.7 529.5,1900.3 530.2,1901.1 531.0,1899.8 531.8,1900.1 532.5,1900.6 533.2,1901.1 534.0,1900.6 534.1,1901.5 534.8,1902.1 535.5,1902.5 536.2,1904.6 537.0,1905.4 537.8,1906.8 538.5,1907.9 539.2,1911.4 540.0,1912.5 540.8,1912.3 541.5,1915.7 541.8,1916.2 542.2,1918.6 543.0,1924.7 543.8,1931.4 544.5,1935.6 545.2,1941.2 546.0,1947.2 546.8,1951.1 547.5,1956.4 548.2,1961.7 549.0,1968.1 549.5,1972.3 549.8,1970.0 550.5,1966.3 551.2,1964.1 552.0,1960.4 552.8,1957.8 553.5,1954.0 554.2,1950.6 555.0,1947.3 555.8,1944.0 556.5,1939.8 557.2,1936.3 557.2,1937.9 558.0,1939.5 558.8,1938.6 559.5,1937.2 560.2,1938.9 561.0,1940.2 561.8,1938.8 562.5,1940.2 563.2,1940.9 564.0,1941.3 564.8,1942.1 565.0,1943.6 565.5,1935.8 566.2,1925.8 567.0,1917.1 567.8,1905.3 568.5,1894.5 569.2,1886.4 569.6,1882.8 570.0,1877.3 570.8,1869.1 571.5,1859.8 572.2,1852.0 573.0,1845.6 573.8,1837.4 574.2,1832.3 574.5,1835.4 575.2,1844.1 576.0,1853.3 576.8,1862.4 577.5,1872.7 578.2,1880.8 578.8,1887.7 579.0,1892.8 579.8,1908.0 580.5,1922.8 581.2,1938.2 582.0,1952.9 582.8,1966.6 583.5,1982.9 584.2,1997.6 585.0,2012.6 585.8,2019.7 586.5,2025.8 587.2,2033.6 588.0,2039.1 588.8,2045.7 589.5,2052.1 590.2,2058.1 591.0,2065.0 591.2,2066.5 591.8,2066.4 592.5,2065.6 593.2,2065.7 593.3,2065.8 594.0,2063.2 594.8,2058.8 595.5,2056.4 596.2,2053.1 597.0,2050.3 597.8,2047.1 598.5,2045.3 599.2,2042.0 599.9,2039.8 600.0,2038.7 600.8,2040.5 601.5,2042.5 602.2,2045.5 603.0,2047.2 603.8,2047.3 604.5,2049.8 605.2,2052.6 606.0,2052.1 606.8,2054.4 607.5,2057.2 608.2,2058.5 609.0,2059.0 609.8,2062.4 609.8,2062.3 610.5,2060.7 611.2,2057.7 612.0,2056.8 612.8,2056.0 613.5,2053.6 614.2,2052.0 615.0,2049.3 615.8,2048.7 616.4,2045.9 616.5,2046.6 617.2,2047.7 618.0,2048.3 618.8,2051.5 619.5,2051.1 620.2,2053.0 621.0,2055.2 621.8,2055.7 622.5,2057.0 623.2,2059.8 624.0,2061.4 624.2,2062.0 624.8,2062.3 625.5,2063.3 626.2,2061.1 627.0,2062.9 627.8,2061.2 628.5,2060.7 629.2,2058.7 630.0,2059.2 630.8,2060.0 631.5,2059.7 632.2,2058.1 633.0,2058.2 633.8,2057.7 634.5,2055.7 635.2,2053.9 635.2,2054.1 636.0,2057.8 636.8,2061.5 637.5,2065.1 638.2,2067.3 639.0,2071.4 639.8,2074.9 640.5,2078.9 640.7,2080.8 641.2,2081.3 642.0,2080.6 642.8,2081.2 643.5,2081.7 644.2,2082.4 645.0,2082.9 645.8,2083.4 646.5,2083.2 647.2,2082.8 648.0,2082.5 648.8,2083.1 649.5,2084.4 650.2,2082.6 650.6,2082.2 651.0,2078.3 651.8,2071.5 652.5,2066.8 653.2,2059.0 653.9,2053.4 654.0,2052.4 654.8,2046.3 655.5,2038.4 656.2,2031.6 657.0,2024.7 657.8,2017.6 658.3,2013.7 658.5,2007.0 659.2,1987.8 660.0,1962.1 660.8,1940.9 661.5,1919.7 662.2,1897.6 662.7,1883.6 663.0,1876.1 663.8,1856.0 664.5,1835.9 665.2,1816.1 666.0,1795.8 666.8,1791.0 667.5,1786.5 668.2,1782.7 669.0,1777.4 669.4,1775.5 669.8,1779.6 670.5,1786.1 671.2,1793.9 672.0,1800.0 672.8,1807.7 673.5,1815.0 673.7,1816.6 674.2,1830.4 675.0,1849.7 675.8,1867.3 676.5,1886.0 677.2,1905.7 678.0,1923.5 678.1,1927.4 678.8,1941.3 679.5,1955.6 680.2,1971.2 681.0,1986.2 681.8,2001.9 682.5,2016.6 682.6,2018.9 683.2,2024.4 684.0,2035.5 684.8,2045.4 685.5,2053.9 686.2,2062.4 687.0,2072.5 687.8,2073.3 688.5,2075.5 689.2,2078.0 690.0,2078.8 690.8,2080.7 691.4,2081.7 691.5,2080.7 692.2,2083.3 693.0,2085.6 693.8,2087.6 694.5,2091.0 695.2,2092.5 696.0,2094.4 696.8,2096.3 697.5,2099.6 698.2,2103.3 698.5,2102.9 699.0,2101.9 699.8,2099.1 700.5,2095.9 701.2,2093.1 702.0,2091.7 702.8,2087.7 703.5,2086.8 704.2,2083.3 705.0,2082.4 705.5,2080.1 705.8,2081.4 706.5,2085.2 707.2,2086.7 708.0,2090.3 708.8,2093.0 709.5,2096.4 710.2,2099.4 711.0,2101.8 711.8,2104.4 712.5,2106.7 713.2,2110.4 714.0,2112.8 714.8,2115.9 715.5,2118.9 716.2,2120.6 717.0,2123.5 717.8,2127.1 718.5,2129.5 719.2,2133.0 720.0,2133.0 720.5,2136.4 720.8,2135.0 721.5,2129.3 722.2,2124.9 723.0,2119.6 723.8,2114.8 724.5,2110.9 725.2,2104.8 726.0,2099.6 726.8,2097.0 727.5,2092.1 728.0,2089.1 728.2,2090.8 729.0,2095.9 729.8,2100.0 730.5,2105.5 731.2,2110.2 732.0,2114.1 732.8,2119.7 733.5,2124.8 734.2,2128.8 734.6,2132.3 735.0,2130.1 735.8,2128.5 736.5,2126.6 737.2,2122.2 738.0,2120.0 738.8,2119.0 739.5,2116.3 740.2,2114.6 741.0,2113.4 741.8,2109.8 742.5,2108.7 743.2,2106.0 744.0,2103.7 744.8,2102.5 745.5,2100.4 745.8,2100.2 746.2,2100.3 747.0,2101.6 747.8,2102.3 748.5,2101.7 749.2,2103.5 750.0,2104.5 750.8,2106.2 751.5,2105.8 752.2,2107.7 753.0,2108.4 753.8,2108.6 754.5,2111.1 755.2,2113.0 756.0,2113.8 756.8,2116.2 757.5,2117.3 758.0,2118.3 758.2,2117.9 759.0,2117.9 759.8,2118.0 760.5,2117.1 761.2,2115.6 762.0,2115.6 762.8,2115.2 763.5,2114.9 764.2,2113.9 765.0,2112.0 765.8,2091.9 766.5,2069.2 767.2,2048.8 768.0,2027.8 768.5,2015.6 768.8,2007.9 769.5,1985.5 770.2,1962.7 771.0,1941.8 771.8,1918.5 772.5,1896.8 772.9,1885.5 773.2,1876.6 774.0,1860.0 774.8,1841.0 775.5,1825.6 776.2,1806.6 777.0,1790.7 777.2,1785.8 777.8,1792.6 778.5,1802.8 779.2,1808.4 780.0,1819.3 780.8,1827.6 781.5,1837.3 781.7,1839.1 782.2,1858.0 783.0,1883.6 783.8,1909.6 784.5,1936.5 785.2,1961.5 786.0,1989.6 786.1,1992.1 786.8,2020.2 787.5,2050.7 788.2,2083.5 789.0,2114.7 789.5,2136.5 789.8,2138.0 790.5,2140.2 791.2,2144.0 792.0,2147.5 792.8,2151.8 793.5,2153.2 794.2,2157.9 795.0,2160.8 795.1,2160.4 795.8,2162.8 796.5,2164.5 797.2,2167.7 798.0,2168.0 798.8,2171.1 799.5,2171.8 800.2,2174.4 801.0,2174.5 801.8,2177.0 802.5,2179.6 803.2,2180.9 804.0,2182.5 804.3,2184.5 804.8,2185.1 805.5,2184.5 806.2,2184.2 807.0,2184.6 807.8,2183.8 808.5,2184.6 809.2,2184.6 810.0,2182.7 810.8,2184.2 811.5,2183.9 811.7,2183.7 812.2,2184.9 813.0,2186.6 813.8,2188.1 814.5,2189.0 815.2,2188.8 816.0,2191.0 816.8,2189.8 817.2,2192.0 817.5,2191.1 818.2,2189.8 819.0,2186.9 819.8,2186.9 820.5,2185.2 821.2,2183.0 822.0,2180.4 822.8,2180.3 822.8,2179.4 823.5,2180.9 824.2,2183.7 825.0,2188.3 825.8,2188.1 826.5,2191.5 827.2,2194.5 828.0,2197.7 828.3,2197.7 828.8,2198.6 829.5,2200.9 830.2,2201.4 831.0,2202.9 831.8,2201.9 832.5,2203.2 833.2,2204.4 834.0,2204.3 834.8,2203.9 835.5,2205.1 835.7,2203.6 836.2,2205.2 837.0,2207.3 837.8,2208.5 838.5,2209.3 839.2,2210.6 840.0,2210.1 840.8,2211.8 841.5,2214.1 842.2,2216.0 843.0,2215.7 843.1,2214.6 843.8,2213.4 844.5,2213.5 845.2,2212.1 846.0,2209.1 846.8,2208.8 847.5,2208.4 848.2,2207.3 849.0,2205.0 849.8,2204.4 850.5,2204.2 851.2,2202.6 852.0,2201.8 852.3,2202.7 852.8,2205.1 853.5,2206.6 854.2,2207.7 855.0,2208.0 855.8,2208.9 856.5,2211.0 857.2,2213.2 858.0,2215.2 858.8,2215.2 859.5,2217.2 859.7,2216.4 860.2,2218.5 861.0,2223.0 861.8,2225.2 862.5,2228.1 863.2,2230.1 863.4,2232.6 864.0,2230.5 864.8,2231.5 865.5,2230.2 866.2,2230.7 867.0,2231.7 867.8,2230.7 868.5,2230.4 869.2,2230.7 870.0,2230.1 870.8,2230.3 871.5,2227.9 872.2,2229.4 872.6,2228.0 873.0,2226.3 873.8,2226.1 874.5,2224.7 875.2,2223.0 876.0,2222.3 876.8,2219.5 877.5,2218.0 878.2,2217.6 878.2,2218.7 879.0,2221.1 879.8,2223.6 880.5,2226.0 881.2,2229.3 882.0,2233.1 882.8,2234.9 883.5,2238.0 883.7,2239.7 884.2,2235.5 885.0,2229.1 885.8,2224.0 886.5,2217.2 887.2,2210.4 887.4,2208.6 888.0,2208.9 888.8,2205.3 889.5,2203.0 890.2,2200.3 890.5,2200.0 891.0,2198.2 891.8,2195.7 892.5,2192.7 893.2,2189.8 894.0,2187.6 894.8,2188.8 895.5,2191.5 896.2,2194.0 897.0,2195.7 897.8,2197.2 898.5,2198.4 899.2,2200.3 899.9,2202.1 900.0,2202.2 900.8,2202.8 901.5,2202.9 902.2,2203.0 903.0,2203.3 903.8,2201.9 904.5,2202.5 905.2,2203.0 906.0,2203.1 906.8,2202.0 907.5,2201.9 908.0,2203.1 908.2,2202.6 909.0,2202.7 909.8,2202.4 910.5,2202.2 911.2,2203.2 912.0,2203.9 912.8,2204.6 913.5,2205.4 914.2,2205.6 915.0,2207.2 915.8,2198.9 916.5,2192.3 917.2,2185.0 918.0,2176.5 918.8,2169.7 919.5,2163.0 919.7,2161.6 920.2,2154.0 921.0,2144.1 921.8,2132.6 922.5,2121.8 923.2,2111.6 924.0,2099.9 924.8,2090.1 925.5,2078.9 926.2,2064.8 927.0,2049.5 927.8,2035.0 928.5,2021.9 929.2,2006.7 930.0,1993.0 930.8,1976.8 931.4,1963.9 931.5,1961.7 932.2,1947.5 933.0,1931.5 933.8,1917.9 934.5,1902.5 935.2,1886.9 936.0,1871.5 936.1,1869.9 936.8,1863.7 937.5,1856.5 938.2,1848.0 938.4,1847.5 939.0,1855.5 939.8,1866.6 940.5,1875.2 941.2,1885.5 941.9,1893.0 942.0,1897.1 942.8,1921.9 943.5,1947.2 944.2,1973.5 945.0,1998.4 945.4,2013.3 945.8,2021.3 946.5,2040.6 947.2,2058.3 948.0,2077.3 948.8,2097.1 949.5,2114.6 950.1,2130.6 950.2,2131.8 951.0,2146.5 951.8,2163.1 952.5,2175.2 953.2,2190.7 954.0,2206.1 954.7,2219.9 954.8,2218.4 955.5,2222.7 956.2,2223.0 957.0,2224.2 957.8,2228.4 958.5,2229.7 959.2,2232.4 960.0,2235.3 960.6,2236.0 960.8,2236.8 961.5,2240.3 962.2,2244.1 963.0,2245.8 963.8,2250.9 964.5,2253.4 965.2,2255.6 966.0,2259.7 966.4,2262.0 966.8,2261.1 967.5,2257.8 968.2,2254.9 969.0,2250.9 969.8,2248.3 970.5,2242.7 971.2,2242.0 972.0,2237.9 972.8,2235.7 973.4,2231.2 973.5,2231.7 974.2,2235.5 975.0,2239.6 975.8,2242.8 976.5,2246.9 977.2,2249.9 978.0,2254.3 978.8,2259.3 979.3,2261.0 979.5,2259.9 980.2,2255.2 981.0,2253.5 981.8,2250.6 982.5,2246.4 983.2,2244.0 984.0,2238.3 984.8,2235.9 985.5,2232.2 986.2,2229.7 987.0,2225.1 987.5,2222.5 987.8,2224.4 988.5,2223.1 989.2,2225.4 990.0,2226.8 990.8,2226.9 991.5,2227.6 992.2,2229.4 993.0,2230.4 993.8,2231.6 994.5,2233.6 995.2,2234.7 996.0,2238.2 996.8,2238.1 996.8,2237.6 997.5,2239.0 998.2,2240.9 999.0,2241.5 999.8,2241.7 1000.5,2241.9 1001.2,2244.5 1002.0,2244.0 1002.8,2244.8 1003.5,2246.2 1004.2,2246.0 1005.0,2247.3 1005.8,2246.8 1006.1,2247.1 1006.5,2246.8 1007.2,2249.0 1008.0,2247.2 1008.8,2248.8 1009.5,2249.2 1010.2,2250.3 1011.0,2250.9 1011.8,2252.4 1012.5,2255.1 1013.2,2256.6 1014.0,2256.5 1014.8,2257.5 1015.5,2259.4 1016.2,2262.2 1017.0,2262.4 1017.8,2262.2 1017.8,2264.6 1018.5,2254.0 1019.2,2244.0 1020.0,2233.2 1020.8,2221.4 1021.5,2212.4 1022.2,2201.6 1022.5,2197.2 1023.0,2188.8 1023.8,2178.6 1024.5,2167.5 1025.2,2157.6 1026.0,2145.5 1026.8,2134.3 1027.2,2127.7 1027.5,2125.9 1028.2,2123.2 1029.0,2119.8 1029.8,2116.8 1030.5,2111.9 1031.2,2109.7 1031.8,2106.9 1032.0,2110.3 1032.8,2116.7 1033.5,2122.4 1034.2,2130.4 1035.0,2135.7 1035.8,2143.5 1036.5,2151.3 1037.2,2157.1 1038.0,2161.5 1038.8,2167.5 1039.5,2173.4 1040.2,2176.2 1041.0,2181.1 1041.8,2185.3 1042.5,2191.9 1043.2,2194.8 1043.5,2196.5 1044.0,2196.7 1044.8,2198.4 1045.5,2199.5 1046.2,2201.3 1047.0,2202.9 1047.8,2205.5 1048.5,2205.5 1049.2,2208.0 1050.0,2209.6 1050.5,2210.2 1050.8,2212.6 1051.5,2216.7 1052.2,2217.9 1053.0,2223.5 1053.8,2224.8 1054.5,2227.9 1055.2,2228.9 1055.2,2230.5 1056.0,2231.1 1056.8,2231.8 1057.5,2233.3 1058.2,2233.8 1059.0,2235.3 1059.8,2235.8 1060.5,2236.7 1061.0,2238.6 1061.2,2237.7 1062.0,2233.2 1062.8,2228.1 1063.5,2222.8 1064.2,2218.6 1065.0,2213.5 1065.8,2208.0 1066.5,2204.2 1066.9,2201.3 1067.2,2199.3 1068.0,2196.7 1068.8,2194.2 1069.5,2191.6 1070.2,2186.1 1071.0,2183.8 1071.8,2181.1 1072.5,2178.2 1073.2,2174.2 1073.9,2170.3 1074.0,2170.2 1074.8,2168.4 1075.5,2165.8 1076.2,2163.6 1077.0,2161.5 1077.8,2162.3 1078.5,2158.6 1079.2,2156.6 1080.0,2155.3 1080.8,2152.9 1080.9,2152.3 1081.5,2148.5 1082.2,2142.8 1083.0,2137.8 1083.8,2133.5 1084.5,2128.0 1085.2,2121.6 1085.6,2120.7 1086.0,2121.8 1086.8,2125.7 1087.5,2132.2 1088.2,2137.1 1089.0,2142.0 1089.8,2146.3 1090.2,2151.2 1090.5,2156.2 1091.2,2169.0 1092.0,2181.9 1092.8,2194.9 1093.5,2209.0 1093.7,2210.7 1094.2,2209.1 1095.0,2206.5 1095.8,2203.0 1096.5,2198.6 1097.2,2195.6 1098.0,2192.0 1098.8,2187.8 1099.5,2185.1 1099.6,2185.2 1100.2,2191.2 1101.0,2199.2 1101.8,2206.2 1102.5,2212.9 1103.2,2221.3 1104.0,2227.3 1104.8,2237.1 1105.5,2243.6 1106.2,2252.7 1106.6,2254.2 1107.0,2255.9 1107.8,2258.8 1108.5,2261.5 1109.2,2263.2 1110.0,2266.1 1110.8,2269.9 1111.5,2271.5 1112.2,2275.2 1113.0,2278.2 1113.8,2278.4 1114.5,2281.5 1115.2,2285.3 1115.9,2286.7 1116.0,2284.3 1116.8,2281.9 1117.5,2279.2 1118.2,2273.0 1119.0,2271.2 1119.8,2268.2 1120.5,2263.7 1121.2,2260.4 1122.0,2258.2 1122.8,2253.5 1123.5,2252.0 1124.2,2249.6 1125.0,2245.9 1125.3,2243.9 1125.8,2243.5 1126.5,2237.8 1127.2,2233.6 1128.0,2227.8 1128.8,2223.4 1129.5,2219.3 1130.2,2212.4 1131.0,2207.4 1131.8,2201.7 1132.5,2198.3 1133.2,2193.0 1133.4,2190.9 1134.0,2196.9 1134.8,2203.2 1135.5,2211.1 1136.2,2215.3 1137.0,2222.8 1137.8,2228.7 1138.5,2236.7 1139.2,2242.1 1139.3,2240.9 1140.0,2245.2 1140.8,2248.2 1141.5,2251.1 1142.2,2255.7 1143.0,2259.2 1143.8,2262.1 1144.5,2266.6 1145.2,2271.8 1146.0,2275.8 1146.8,2279.1 1147.5,2283.1 1148.2,2287.8 1148.6,2289.6 1149.0,2289.8 1149.8,2292.4 1150.5,2292.7 1151.2,2295.5 1152.0,2296.0 1152.8,2297.2 1153.5,2297.4 1154.2,2298.6 1155.0,2299.0 1155.8,2299.9 1156.5,2300.3 1156.8,2302.1 1157.2,2294.6 1158.0,2287.2 1158.8,2277.3 1159.5,2266.9 1160.2,2259.3 1161.0,2249.6 1161.8,2239.8 1162.5,2231.6 1162.6,2230.4 1163.2,2222.3 1164.0,2213.8 1164.8,2205.1 1165.5,2195.7 1166.2,2186.9 1167.0,2178.4 1167.8,2168.5 1168.5,2158.9 1169.2,2163.1 1170.0,2168.7 1170.8,2173.0 1171.5,2177.8 1172.2,2182.7 1172.2,2182.9 1173.0,2189.2 1173.8,2195.6 1174.5,2203.1 1175.2,2210.2 1176.0,2217.2 1176.6,2221.7 1176.8,2221.9 1177.5,2215.8 1178.2,2211.6 1179.0,2206.5 1179.8,2201.2 1180.5,2196.9 1181.2,2191.0 1182.0,2186.2 1182.8,2180.2 1183.2,2177.7 1183.5,2178.9 1184.2,2182.1 1185.0,2184.9 1185.8,2186.2 1186.5,2191.3 1187.2,2194.1 1188.0,2195.0 1188.8,2199.6 1189.5,2203.1 1189.8,2204.2 1190.2,2205.2 1191.0,2206.3 1191.8,2207.8 1192.5,2211.2 1193.2,2211.9 1194.0,2214.4 1194.8,2214.8 1195.3,2216.7 1195.5,2213.5 1196.2,2201.6 1197.0,2188.3 1197.8,2178.9 1198.5,2165.5 1199.2,2153.1 1200.0,2141.6 1200.8,2128.2 1200.9,2127.8 1201.5,2118.8 1202.2,2109.7 1203.0,2100.0 1203.8,2089.1 1204.5,2080.5 1205.2,2072.1 1205.3,2070.0 1206.0,2065.2 1206.8,2059.8 1207.5,2054.5 1208.2,2047.1 1209.0,2042.7 1209.8,2036.8 1210.5,2031.1 1210.8,2029.3 1211.2,2024.3 1212.0,2014.7 1212.8,2007.3 1213.5,1998.0 1214.2,1990.0 1215.0,1980.8 1215.8,1973.4 1216.3,1966.5 1216.5,1968.2 1217.2,1975.6 1218.0,1984.6 1218.8,1991.8 1219.5,2000.4 1220.2,2008.3 1221.0,2018.6 1221.8,2026.2 1221.8,2027.9 1222.5,2053.9 1223.2,2081.5 1224.0,2108.1 1224.8,2136.9 1225.1,2149.5 1225.5,2158.7 1226.2,2180.3 1227.0,2199.9 1227.8,2220.7 1228.5,2242.0 1229.2,2261.8 1229.5,2269.3 1230.0,2271.7 1230.8,2276.5 1231.5,2281.9 1232.2,2286.5 1233.0,2291.1 1233.8,2296.5 1233.9,2297.5 1234.5,2295.8 1235.2,2296.1 1236.0,2296.9 1236.8,2297.7 1237.5,2296.4 1238.2,2295.7 1239.0,2296.6 1239.8,2296.0 1240.5,2297.1 1241.2,2297.6 1242.0,2302.8 1242.8,2305.6 1243.5,2306.2 1244.2,2310.1 1245.0,2313.4 1245.8,2316.6 1246.0,2316.9 1246.5,2317.5 1247.2,2317.8 1248.0,2317.8 1248.8,2320.4 1249.5,2320.5 1250.2,2320.8 1251.0,2323.0 1251.8,2323.8 1252.5,2324.9 1253.2,2326.1 1253.7,2326.5 1254.0,2328.7 1254.8,2332.3 1255.5,2335.7 1256.2,2341.3 1257.0,2345.1 1257.8,2348.7 1258.5,2351.9 1259.2,2355.9 1260.0,2361.2 1260.3,2361.1 1260.8,2364.3 1261.5,2367.1 1262.2,2370.3 1263.0,2372.6 1263.8,2375.7 1264.5,2378.7 1265.2,2380.9 1266.0,2385.4 1266.8,2386.8 1267.0,2388.2 1267.5,2386.5 1268.2,2382.3 1269.0,2376.9 1269.8,2373.9 1270.5,2370.5 1271.2,2364.8 1271.4,2367.1 1272.0,2361.6 1272.8,2355.3 1273.5,2349.9 1274.2,2342.7 1275.0,2339.1 1275.8,2334.0 1275.8,2332.6 1276.5,2338.7 1277.2,2343.0 1278.0,2346.6 1278.8,2352.8 1279.5,2355.8 1280.2,2360.2 1280.2,2361.9 1281.0,2364.3 1281.8,2366.2 1282.5,2368.5 1283.2,2369.9 1284.0,2374.1 1284.8,2375.9 1285.5,2378.4 1286.2,2383.7 1286.8,2383.5 1287.0,2383.1 1287.8,2383.7 1288.5,2381.8 1289.2,2380.4 1290.0,2381.0 1290.8,2378.8 1291.5,2377.3 1292.2,2376.5 1292.3,2376.4 1293.0,2376.1 1293.8,2375.3 1294.5,2372.5 1295.2,2373.2 1296.0,2371.0 1296.8,2370.3 1297.5,2368.1 1298.2,2370.5 1299.0,2369.3 1299.8,2368.3 1300.0,2368.4 1300.5,2356.1 1301.2,2335.6 1302.0,2313.7 1302.8,2296.1 1303.3,2281.3 1303.5,2271.8 1304.2,2235.4 1305.0,2199.6 1305.8,2162.1 1306.5,2127.9 1306.6,2121.6 1307.2,2117.9 1308.0,2115.0 1308.8,2110.1 1309.5,2107.5 1310.2,2103.4 1311.0,2099.4 1311.8,2096.9 1312.5,2092.7 1313.2,2088.0 1314.0,2084.5 1314.8,2081.5 1315.0,2081.6 1315.5,2082.0 1316.2,2085.2 1317.0,2088.8 1317.8,2090.8 1318.5,2094.9 1319.2,2098.7 1320.0,2101.7 1320.8,2105.0 1321.5,2107.2 1322.2,2111.3 1323.0,2115.6 1323.8,2119.7 1324.3,2120.9 1324.5,2137.0 1325.2,2201.4 1325.4,2214.3 1326.0,2228.7 1326.8,2242.2 1327.5,2258.9 1328.2,2273.8 1328.7,2284.3 1329.0,2281.8 1329.8,2276.3 1330.5,2269.9 1331.2,2263.3 1332.0,2256.9 1332.8,2250.8 1333.1,2249.9 1333.5,2244.4 1334.2,2235.4 1335.0,2227.2 1335.8,2219.4 1336.4,2211.4 1336.5,2211.5 1337.2,2215.4 1338.0,2216.2 1338.8,2218.3 1339.5,2220.1 1340.2,2221.3 1341.0,2222.8 1341.8,2222.4 1342.5,2225.7 1343.0,2226.3 1343.2,2228.2 1344.0,2235.7 1344.8,2244.6 1345.5,2251.7 1346.2,2258.6 1347.0,2266.9 1347.8,2273.2 1348.5,2281.1 1349.2,2291.0 1350.0,2300.8 1350.8,2310.1 1351.5,2320.1 1352.2,2327.9 1352.9,2337.0 1353.0,2334.4 1353.8,2327.4 1354.5,2318.5 1355.2,2312.4 1356.0,2303.6 1356.8,2297.3 1357.5,2287.5 1358.2,2282.6 1359.0,2273.8 1359.5,2269.2 1359.8,2273.5 1360.5,2285.3 1361.2,2299.1 1362.0,2312.1 1362.8,2325.5 1362.8,2325.3 1363.5,2347.9 1364.2,2372.0 1365.0,2396.4 1365.8,2419.8 1365.8,2420.1 1366.5,2432.0 1367.2,2443.9 1368.0,2454.6 1368.8,2465.2 1369.5,2476.1 1369.8,2481.1 1370.2,2482.2 1371.0,2479.7 1371.8,2478.0 1372.5,2479.7 1373.2,2477.9 1374.0,2477.7 1374.8,2476.7 1375.5,2477.1 1376.2,2475.3 1377.0,2474.4 1377.7,2473.6 1377.8,2475.6 1378.5,2477.8 1379.2,2478.8 1380.0,2480.9 1380.8,2483.4 1381.5,2486.1 1382.2,2487.3 1383.0,2491.2 1383.8,2492.4 1384.5,2492.5 1385.2,2495.7 1385.6,2497.1 1386.0,2497.7 1386.8,2495.1 1387.5,2492.1 1388.2,2489.1 1389.0,2487.9 1389.8,2486.0 1390.5,2483.7 1391.2,2482.3 1392.0,2481.0 1392.8,2478.6 1393.5,2476.6 1393.6,2477.4 1394.2,2466.6 1395.0,2456.2 1395.8,2446.3 1396.5,2434.5 1397.2,2422.5 1397.5,2420.0 1398.0,2411.3 1398.8,2398.7 1399.5,2386.3 1400.2,2372.3 1400.5,2367.6 1401.0,2373.2 1401.8,2376.6 1402.5,2382.6 1403.2,2387.3 1404.0,2391.5 1404.8,2396.7 1405.5,2401.1 1406.2,2411.8 1407.0,2422.9 1407.8,2432.6 1408.5,2444.5 1409.2,2454.0 1409.4,2456.8 1410.0,2457.7 1410.8,2457.1 1411.5,2460.1 1412.2,2459.4 1413.0,2461.2 1413.8,2462.3 1414.5,2464.5 1415.2,2466.8 1415.4,2467.4 1416.0,2465.2 1416.8,2459.7 1417.5,2456.2 1418.2,2450.9 1419.0,2446.5 1419.8,2442.5 1420.5,2437.8 1421.2,2432.3 1421.3,2432.5 1422.0,2431.3 1422.8,2429.1 1423.5,2428.2 1424.2,2426.2 1425.0,2424.6 1425.8,2423.8 1426.5,2422.9 1427.2,2422.7 1427.3,2422.3 1428.0,2417.8 1428.8,2411.8 1429.5,2408.1 1430.2,2404.5 1431.0,2400.0 1431.8,2394.8 1432.5,2389.2 1433.2,2384.1 1433.2,2383.8 1434.0,2381.3 1434.8,2377.6 1435.5,2374.8 1436.2,2369.6 1436.2,2370.6 1437.0,2377.1 1437.8,2384.8 1438.5,2392.3 1439.2,2399.3 1440.0,2408.1 1440.8,2413.7 1441.2,2419.5 1441.5,2422.8 1442.2,2432.7 1443.0,2444.0 1443.8,2453.0 1444.5,2463.8 1445.2,2473.9 1446.0,2484.8 1446.8,2493.8 1447.1,2499.9 1447.5,2502.8 1448.2,2506.9 1449.0,2511.4 1449.8,2516.1 1450.5,2521.4 1451.2,2525.3 1452.0,2530.5 1452.8,2534.3 1453.0,2535.4 1453.5,2535.6 1454.2,2535.8 1455.0,2536.1 1455.8,2536.7 1456.5,2537.5 1457.2,2537.4 1458.0,2537.8 1458.8,2538.9 1459.0,2538.9 1459.5,2539.4 1460.2,2540.9 1461.0,2544.7 1461.8,2545.5 1462.5,2547.6 1463.2,2549.7 1464.0,2552.1 1464.8,2552.7 1464.9,2554.1 1465.5,2554.7 1466.2,2555.2 1467.0,2553.4 1467.8,2553.4 1468.5,2553.4 1469.2,2552.4 1470.0,2552.1 1470.8,2553.1 1471.5,2553.7 1472.2,2552.9 1473.0,2552.9 1473.8,2552.5 1474.5,2552.2 1474.9,2551.8 1475.2,2552.8 1476.0,2552.4 1476.8,2551.5 1477.5,2551.6 1478.2,2551.7 1479.0,2551.9 1479.8,2552.4 1480.5,2552.0 1481.2,2550.4 1482.0,2550.2 1482.8,2549.3 1482.8,2549.7 1483.5,2552.4 1484.2,2553.2 1485.0,2557.1 1485.8,2560.7 1486.5,2561.4 1487.2,2566.2 1488.0,2568.7 1488.7,2570.3 1488.8,2569.9 1489.5,2572.1 1490.2,2571.0 1491.0,2570.7 1491.8,2572.1 1492.5,2571.6 1493.2,2572.3 1494.0,2574.6 1494.8,2573.5 1495.5,2574.2 1496.2,2573.5 1497.0,2574.5 1497.8,2576.3 1498.5,2576.4 1498.7,2577.2 1499.2,2577.5 1500.0,2577.3 1500.8,2577.1 1501.5,2576.1 1502.2,2578.6 1503.0,2578.1 1503.8,2579.9 1504.5,2578.0 1504.6,2577.9 1505.2,2578.7 1506.0,2579.3 1506.8,2581.3 1507.5,2582.7 1508.2,2583.8 1509.0,2584.7 1509.8,2585.7 1510.5,2588.4 1511.2,2589.9 1512.0,2590.4 1512.5,2591.2 1512.8,2592.2 1513.5,2592.8 1514.2,2594.7 1515.0,2594.1 1515.8,2595.6 1516.5,2595.2 1517.2,2596.3 1518.0,2598.6 1518.8,2596.5 1519.5,2597.4 1520.2,2596.9 1521.0,2598.0 1521.8,2597.4 1522.5,2597.0 1523.2,2596.1 1524.0,2593.8 1524.8,2591.8 1525.5,2588.6 1526.2,2586.8 1527.0,2586.4 1527.8,2582.5 1528.5,2582.5 1529.2,2580.5 1530.0,2577.4 1530.4,2575.8 1530.8,2576.4 1531.5,2580.0 1532.2,2582.1 1533.0,2583.5 1533.8,2585.7 1534.5,2589.2 1535.2,2590.8 1536.0,2593.7 1536.4,2593.9 1536.8,2595.6 1537.5,2595.7 1538.2,2595.7 1539.0,2595.5 1539.8,2596.6 1540.5,2597.3 1541.2,2597.8 1542.0,2598.0 1542.8,2598.0 1543.5,2599.6 1544.2,2600.5 1545.0,2599.9 1545.8,2600.1 1546.3,2602.5 1546.5,2601.8 1547.2,2600.3 1548.0,2602.2 1548.8,2601.6 1549.5,2600.8 1550.2,2601.1 1551.0,2600.1 1551.8,2600.0 1552.5,2599.2 1553.2,2600.9 1554.0,2599.4 1554.2,2599.6 1554.8,2599.1 1555.5,2596.2 1556.2,2597.3 1557.0,2595.5 1557.8,2596.3 1558.5,2593.7 1559.2,2594.4 1560.0,2594.3 1560.8,2592.8 1561.5,2593.0 1562.2,2592.9 1563.0,2591.7 1563.8,2591.2 1564.1,2590.3 1564.5,2594.2 1565.2,2596.4 1566.0,2598.9 1566.8,2599.9 1567.5,2604.6 1568.2,2606.1 1569.0,2609.2 1569.8,2612.0 1570.0,2613.5 1570.5,2612.7 1571.2,2612.7 1572.0,2613.9 1572.8,2614.1 1573.5,2613.8 1574.2,2616.0 1575.0,2615.6 1575.8,2613.9 1576.5,2613.6 1577.2,2614.0 1578.0,2615.2 1578.8,2616.0 1579.5,2617.2 1580.0,2616.3 1580.2,2615.5 1581.0,2615.2 1581.8,2614.3 1582.5,2612.6 1583.2,2612.4 1584.0,2609.9 1584.8,2609.9 1585.5,2609.3 1586.2,2607.8 1587.0,2607.3 1587.8,2606.7 1587.9,2606.2 1588.5,2606.5 1589.2,2606.9 1590.0,2606.6 1590.8,2607.8 1591.5,2607.7 1592.2,2607.2 1593.0,2608.9 1593.8,2608.6 1594.5,2606.8 1595.2,2610.5 1596.0,2609.6 1596.8,2609.4 1597.5,2610.7 1597.8,2610.5 1598.2,2610.7 1599.0,2612.4 1599.8,2612.5 1600.5,2612.2 1601.2,2612.5 1602.0,2612.8 1602.8,2614.6 1603.5,2615.1 1604.2,2616.4 1605.0,2616.4 1605.8,2617.4 1605.8,2617.7 1606.5,2616.3 1607.2,2615.9 1608.0,2616.4 1608.8,2615.4 1609.5,2616.1 1610.2,2616.0 1611.0,2617.2 1611.8,2616.0 1612.5,2617.1 1613.2,2616.2 1614.0,2616.7 1614.8,2616.7 1615.5,2617.4 1615.7,2617.4 1616.2,2617.6 1617.0,2617.9 1617.8,2619.8 1618.5,2619.7 1619.2,2620.9 1620.0,2620.9 1620.8,2619.1 1621.5,2620.9 1622.2,2618.9 1623.0,2617.6 1623.6,2617.3 1623.8,2617.6 1624.5,2617.7 1625.2,2621.3 1626.0,2622.3 1626.8,2624.8 1627.5,2626.5 1628.2,2628.4 1629.0,2630.9 1629.6,2632.5 1629.8,2631.4 1630.5,2634.2 1631.2,2633.5 1632.0,2634.5 1632.8,2635.6 1633.5,2635.2 1634.2,2635.9 1635.0,2635.4 1635.8,2637.6 1636.2,2637.8 1636.5,2637.2 1637.2,2637.6 1638.0,2637.0 1638.8,2639.8 1639.5,2639.6 1640.2,2640.7 1641.0,2641.6 1641.8,2642.4 1642.3,2643.4 1642.5,2643.6 1643.2,2643.0 1644.0,2641.7 1644.8,2642.0 1645.5,2641.5 1646.2,2640.5 1647.0,2640.6 1647.8,2640.9 1648.5,2640.5 1649.2,2640.0 1650.0,2639.8 1650.8,2637.9 1651.5,2639.2 1652.2,2640.0 1653.0,2638.7 1653.8,2638.6 1654.5,2638.2 1654.6,2639.2 1655.2,2639.2 1656.0,2638.8 1656.8,2639.6 1657.5,2639.7 1658.2,2640.0 1659.0,2640.1 1659.8,2639.4 1660.5,2640.2 1661.2,2640.0 1662.0,2640.1 1662.8,2640.0 1663.5,2640.5 1664.2,2640.0 1665.0,2639.7 1665.8,2641.1 1666.5,2639.3 1666.9,2640.0 1667.2,2640.0 1668.0,2639.3 1668.8,2638.7 1669.5,2638.5 1670.2,2637.5 1671.0,2638.8 1671.8,2638.1 1672.5,2638.9 1673.2,2638.7 1674.0,2640.3 1674.8,2639.9 1675.5,2640.5 1675.6,2641.9 1676.2,2642.1 1677.0,2644.5 1677.8,2645.0 1678.5,2647.9 1679.2,2649.4 1680.0,2650.8 1680.8,2653.2 1681.5,2655.2 1681.7,2655.0 1682.2,2655.2 1683.0,2655.9 1683.8,2655.4 1684.5,2655.9 1685.2,2657.4 1686.0,2659.1 1686.8,2658.3 1687.5,2658.5 1688.2,2660.4 1689.0,2661.9 1689.8,2662.5 1690.5,2663.3 1691.2,2663.8 1691.6,2664.8 1692.0,2663.6 1692.8,2663.8 1693.5,2663.0 1694.2,2661.7 1695.0,2661.5 1695.8,2660.8 1696.5,2657.8 1697.2,2657.3 1698.0,2656.0 1698.8,2654.7 1699.5,2654.4 1700.2,2654.4 1700.2,2655.2 1701.0,2657.2 1701.8,2657.2 1702.5,2660.8 1703.2,2662.0 1704.0,2665.0 1704.8,2665.8 1705.5,2668.8 1706.2,2671.0 1706.4,2671.2 1707.0,2670.2 1707.8,2671.0 1708.5,2671.2 1709.2,2671.9 1710.0,2673.7 1710.8,2671.8 1711.5,2673.1 1712.2,2674.0 1713.0,2674.1 1713.7,2674.1 1713.8,2675.2 1714.5,2673.4 1715.2,2672.1 1716.0,2670.5 1716.8,2670.5 1717.5,2670.5 1718.2,2669.1 1719.0,2669.5 1719.8,2668.0 1720.5,2667.2 1721.2,2667.3 1722.0,2666.2 1722.8,2665.3 1723.5,2666.0 1723.6,2666.4 1724.2,2667.3 1725.0,2665.3 1725.8,2667.7 1726.5,2667.9 1727.2,2668.1 1728.0,2668.8 1728.5,2669.4 1728.8,2669.9 1729.5,2671.5 1730.2,2672.3 1731.0,2675.1 1731.8,2675.3 1732.5,2677.3 1733.2,2677.4 1734.0,2678.6 1734.8,2679.5 1735.5,2680.6 1736.2,2682.2 1737.0,2681.1 1737.1,2682.7 1737.8,2679.7 1738.5,2679.8 1739.2,2676.0 1740.0,2675.2 1740.8,2674.0 1741.5,2671.0 1742.2,2670.7 1743.0,2669.4 1743.3,2669.1 1743.8,2669.1 1744.5,2669.0 1745.2,2668.8 1746.0,2670.1 1746.8,2670.5 1747.5,2670.7 1748.2,2671.7 1749.0,2671.4 1749.8,2670.4 1750.5,2671.3 1751.2,2673.0 1752.0,2673.1 1752.8,2673.3 1753.2,2673.4 1753.5,2675.2 1754.2,2675.6 1755.0,2677.4 1755.8,2680.4 1756.5,2680.2 1757.2,2684.1 1758.0,2684.9 1758.1,2686.2 1758.8,2684.4 1759.5,2682.0 1760.2,2682.0 1761.0,2679.5 1761.8,2678.1 1762.5,2676.5 1763.2,2674.4 1764.0,2672.2 1764.2,2671.8 1764.8,2671.8 1765.5,2676.2 1766.2,2675.7 1767.0,2678.6 1767.8,2680.7 1768.5,2682.3 1769.2,2685.2 1770.0,2686.3 1770.4,2687.7 1770.8,2689.4 1771.5,2687.4 1772.2,2689.6 1773.0,2687.3 1773.8,2689.2 1774.5,2689.4 1775.2,2690.3 1776.0,2688.7 1776.8,2689.3 1777.5,2691.5 1777.8,2691.7 1778.2,2691.4 1779.0,2690.2 1779.8,2690.5 1780.5,2690.1 1781.2,2689.0 1782.0,2690.5 1782.8,2688.9 1783.5,2688.3 1784.2,2688.8 1785.0,2688.0 1785.2,2688.5 1785.8,2688.5 1786.5,2689.5 1787.2,2690.7 1788.0,2692.8 1788.8,2692.9 1789.5,2695.1 1790.2,2696.0 1791.0,2695.6 1791.8,2696.6 1792.5,2698.6 1792.6,2697.6 1793.2,2697.6 1794.0,2699.1 1794.8,2698.7 1795.5,2698.2 1796.2,2696.6 1797.0,2698.0 1797.8,2696.8 1798.5,2698.4 1799.2,2698.8 1800.0,2700.2 1800.8,2697.5 1801.5,2698.0 1802.2,2697.5 1803.0,2697.1 1803.8,2696.5 1804.5,2696.3 1805.2,2695.0 1806.0,2693.5 1806.8,2692.7 1807.5,2692.6 1808.2,2690.5 1808.6,2688.7 1809.0,2689.3 1809.8,2690.4 1810.5,2691.2 1811.2,2693.1 1812.0,2694.0 1812.8,2693.5 1813.5,2695.0 1814.2,2697.0 1814.7,2697.5 1815.0,2697.6 1815.8,2700.6 1816.5,2699.9 1817.2,2702.8 1818.0,2703.7 1818.4,2702.9" fill="none" stroke="#00dc00" stroke-width="10.5" stroke-linejoin="round" stroke-linecap="butt"/>
<line x1="303.2" y1="1577.8" x2="303.2" y2="2808.3" stroke="#000" stroke-width="7.6"/>
<line x1="278.4" y1="2804.5" x2="1824.8" y2="2804.5" stroke="#000" stroke-width="7.6"/>
<line x1="278.9" y1="2804.5" x2="303" y2="2804.5" stroke="#000" stroke-width="7.6"/>
<text transform="translate(262.3,2823.40) scale(0.6327,0.659)" font-size="100" text-anchor="end">0</text>
<line x1="291.5" y1="2736.6" x2="303" y2="2736.6" stroke="#000" stroke-width="7.6"/>
<line x1="278.9" y1="2668.6" x2="303" y2="2668.6" stroke="#000" stroke-width="7.6"/>
<text transform="translate(262.3,2687.52) scale(0.6327,0.659)" font-size="100" text-anchor="end">50</text>
<line x1="291.5" y1="2600.7" x2="303" y2="2600.7" stroke="#000" stroke-width="7.6"/>
<line x1="278.9" y1="2532.7" x2="303" y2="2532.7" stroke="#000" stroke-width="7.6"/>
<text transform="translate(262.3,2551.64) scale(0.6327,0.659)" font-size="100" text-anchor="end">100</text>
<line x1="291.5" y1="2464.8" x2="303" y2="2464.8" stroke="#000" stroke-width="7.6"/>
<line x1="278.9" y1="2396.9" x2="303" y2="2396.9" stroke="#000" stroke-width="7.6"/>
<text transform="translate(262.3,2415.76) scale(0.6327,0.659)" font-size="100" text-anchor="end">150</text>
<line x1="291.5" y1="2328.9" x2="303" y2="2328.9" stroke="#000" stroke-width="7.6"/>
<line x1="278.9" y1="2261.0" x2="303" y2="2261.0" stroke="#000" stroke-width="7.6"/>
<text transform="translate(262.3,2279.88) scale(0.6327,0.659)" font-size="100" text-anchor="end">200</text>
<line x1="291.5" y1="2193.0" x2="303" y2="2193.0" stroke="#000" stroke-width="7.6"/>
<line x1="278.9" y1="2125.1" x2="303" y2="2125.1" stroke="#000" stroke-width="7.6"/>
<text transform="translate(262.3,2144.00) scale(0.6327,0.659)" font-size="100" text-anchor="end">250</text>
<line x1="291.5" y1="2057.2" x2="303" y2="2057.2" stroke="#000" stroke-width="7.6"/>
<line x1="278.9" y1="1989.2" x2="303" y2="1989.2" stroke="#000" stroke-width="7.6"/>
<text transform="translate(262.3,2008.12) scale(0.6327,0.659)" font-size="100" text-anchor="end">300</text>
<line x1="291.5" y1="1921.3" x2="303" y2="1921.3" stroke="#000" stroke-width="7.6"/>
<line x1="278.9" y1="1853.3" x2="303" y2="1853.3" stroke="#000" stroke-width="7.6"/>
<text transform="translate(262.3,1872.24) scale(0.6327,0.659)" font-size="100" text-anchor="end">350</text>
<line x1="291.5" y1="1785.4" x2="303" y2="1785.4" stroke="#000" stroke-width="7.6"/>
<line x1="278.9" y1="1717.5" x2="303" y2="1717.5" stroke="#000" stroke-width="7.6"/>
<text transform="translate(262.3,1736.36) scale(0.6327,0.659)" font-size="100" text-anchor="end">400</text>
<line x1="291.5" y1="1649.5" x2="303" y2="1649.5" stroke="#000" stroke-width="7.6"/>
<line x1="278.9" y1="1581.6" x2="303" y2="1581.6" stroke="#000" stroke-width="7.6"/>
<text transform="translate(262.3,1600.48) scale(0.6327,0.659)" font-size="100" text-anchor="end">450</text>
<line x1="427.1" y1="2804.5" x2="427.1" y2="2816.4" stroke="#000" stroke-width="7.6"/>
<line x1="610.4" y1="2804.5" x2="610.4" y2="2828.6" stroke="#000" stroke-width="7.6"/>
<text transform="translate(610.80,2894.7) scale(0.6327,0.659)" font-size="100" text-anchor="middle">500</text>
<line x1="793.6" y1="2804.5" x2="793.6" y2="2816.4" stroke="#000" stroke-width="7.6"/>
<line x1="976.9" y1="2804.5" x2="976.9" y2="2828.6" stroke="#000" stroke-width="7.6"/>
<text transform="translate(977.30,2894.7) scale(0.6327,0.659)" font-size="100" text-anchor="middle">1000</text>
<line x1="1160.2" y1="2804.5" x2="1160.2" y2="2816.4" stroke="#000" stroke-width="7.6"/>
<line x1="1343.4" y1="2804.5" x2="1343.4" y2="2828.6" stroke="#000" stroke-width="7.6"/>
<text transform="translate(1343.80,2894.7) scale(0.6327,0.659)" font-size="100" text-anchor="middle">1500</text>
<line x1="1526.7" y1="2804.5" x2="1526.7" y2="2816.4" stroke="#000" stroke-width="7.6"/>
<line x1="1709.9" y1="2804.5" x2="1709.9" y2="2828.6" stroke="#000" stroke-width="7.6"/>
<text transform="translate(1710.30,2894.7) scale(0.6327,0.659)" font-size="100" text-anchor="middle">2000</text>
<text transform="translate(105.20,2384.72) rotate(-90) scale(0.7602,0.7884)" font-size="100">Intensity, a.u.</text>
<text transform="translate(742.85,2996.10) scale(0.7505,0.7812)" font-size="100">Raman shift, cm</text>
<text transform="translate(1321.92,2959.51) scale(0.5440,0.2182)" font-size="100" font-weight="normal" fill="#555">−</text>
<text transform="translate(1353.00,2965.20) scale(0.3660,0.5377)" font-size="100">1</text>
<text transform="translate(588.74,1657.70) scale(1.3082,1.3768)" font-size="100">B</text>
<text transform="translate(789.20,2726.40) scale(0.7669,0.8072)" font-size="100">10<tspan font-size="64.3" dy="-27">-7</tspan><tspan font-size="100" dy="27"> M Cy5.5 NH</tspan><tspan font-size="63.3" dy="19.7">2</tspan></text>
<rect x="1236" y="1504" width="913" height="651" fill="#fcfcfc"/>
<polyline points="1471.1,1855.7 1472.0,1815.1 1476.6,1820.6 1482.2,1844.7 1487.7,1868.7 1491.4,1890.8 1497.0,1924.1 1504.3,1942.6 1513.6,1938.9 1524.7,1933.3 1533.9,1938.9 1541.3,1948.1 1552.4,1948.1 1563.5,1950.0 1580.1,1950.0 1589.3,1953.7 1607.8,1962.9 1626.3,1963.8 1654.0,1965.7 1668.5,1966.2 1687.0,1965.0 1699.3,1957.6 1711.6,1951.4 1723.9,1962.5 1736.2,1966.2 1760.8,1961.3 1785.5,1956.4 1797.8,1955.1 1822.4,1957.6 1850.0,1962.4 1857.7,1964.0 1863.9,1967.0 1870.0,1960.9 1876.2,1968.6 1888.5,1968.6 1900.8,1965.5 1911.6,1956.3 1920.8,1940.9 1928.5,1916.2 1933.9,1882.4 1937.7,1851.6 1940.8,1820.8 1944.5,1790.0 1950.1,1724.7 1954.7,1678.5 1957.8,1647.8 1962.4,1626.2 1971.6,1612.4 1977.8,1593.9 1983.9,1564.6 1989.3,1555.4 1995.5,1566.2 1999.3,1593.9 2002.4,1632.4 2005.5,1678.5 2008.6,1724.7 2013.2,1763.2 2016.5,1790.0 2020.9,1836.2 2025.5,1874.7 2028.6,1913.2 2033.2,1944.0 2039.3,1964.0 2048.6,1976.3 2062.4,1978.6 2073.2,1977.0 2080.9,1977.0" fill="none" stroke="#00dc00" stroke-width="12.5" stroke-linejoin="round" stroke-linecap="butt"/>
<line x1="1468.3" y1="1506.6" x2="1468.3" y2="2024.8" stroke="#000" stroke-width="11"/>
<line x1="1458.7" y1="2019.3" x2="2088" y2="2019.3" stroke="#000" stroke-width="11"/>
<line x1="1459" y1="2019.3" x2="1466" y2="2019.3" stroke="#000" stroke-width="11"/>
<text transform="translate(1452.56,2036.50) scale(0.5827,0.5986)" font-size="100" text-anchor="end">0</text>
<line x1="1459" y1="1874.2" x2="1466" y2="1874.2" stroke="#000" stroke-width="11"/>
<text transform="translate(1452.56,1891.44) scale(0.5827,0.5986)" font-size="100" text-anchor="end">2000</text>
<line x1="1459" y1="1729.2" x2="1466" y2="1729.2" stroke="#000" stroke-width="11"/>
<text transform="translate(1452.56,1746.38) scale(0.5827,0.5986)" font-size="100" text-anchor="end">4000</text>
<line x1="1459" y1="1584.1" x2="1466" y2="1584.1" stroke="#000" stroke-width="11"/>
<text transform="translate(1452.56,1601.32) scale(0.5827,0.5986)" font-size="100" text-anchor="end">6000</text>
<line x1="1768.7" y1="2019.3" x2="1768.7" y2="2028.6" stroke="#000" stroke-width="10"/>
<text transform="translate(1769.10,2081.1) scale(0.5827,0.5986)" font-size="100" text-anchor="middle">2000</text>
<line x1="2081.5" y1="2019.3" x2="2081.5" y2="2028.6" stroke="#000" stroke-width="10"/>
<text transform="translate(2081.90,2081.1) scale(0.5827,0.5986)" font-size="100" text-anchor="middle">4000</text>
<text transform="translate(1285.80,1952.34) rotate(-90) scale(0.5909,0.6058)" font-size="100">Intensity, a.u.</text>
<text transform="translate(1528.13,2146.80) scale(0.5817,0.6159)" font-size="100">Raman shift, cm</text>
<text transform="translate(1976.81,2118.29) scale(0.3980,0.1818)" font-size="100" font-weight="normal" fill="#555">−</text>
<text transform="translate(2001.18,2122.60) scale(0.2702,0.4188)" font-size="100">1</text>
<text transform="translate(1589.97,1657.33) scale(1.2569,1.3662)" font-size="100">C</text>
</svg></body></html>
